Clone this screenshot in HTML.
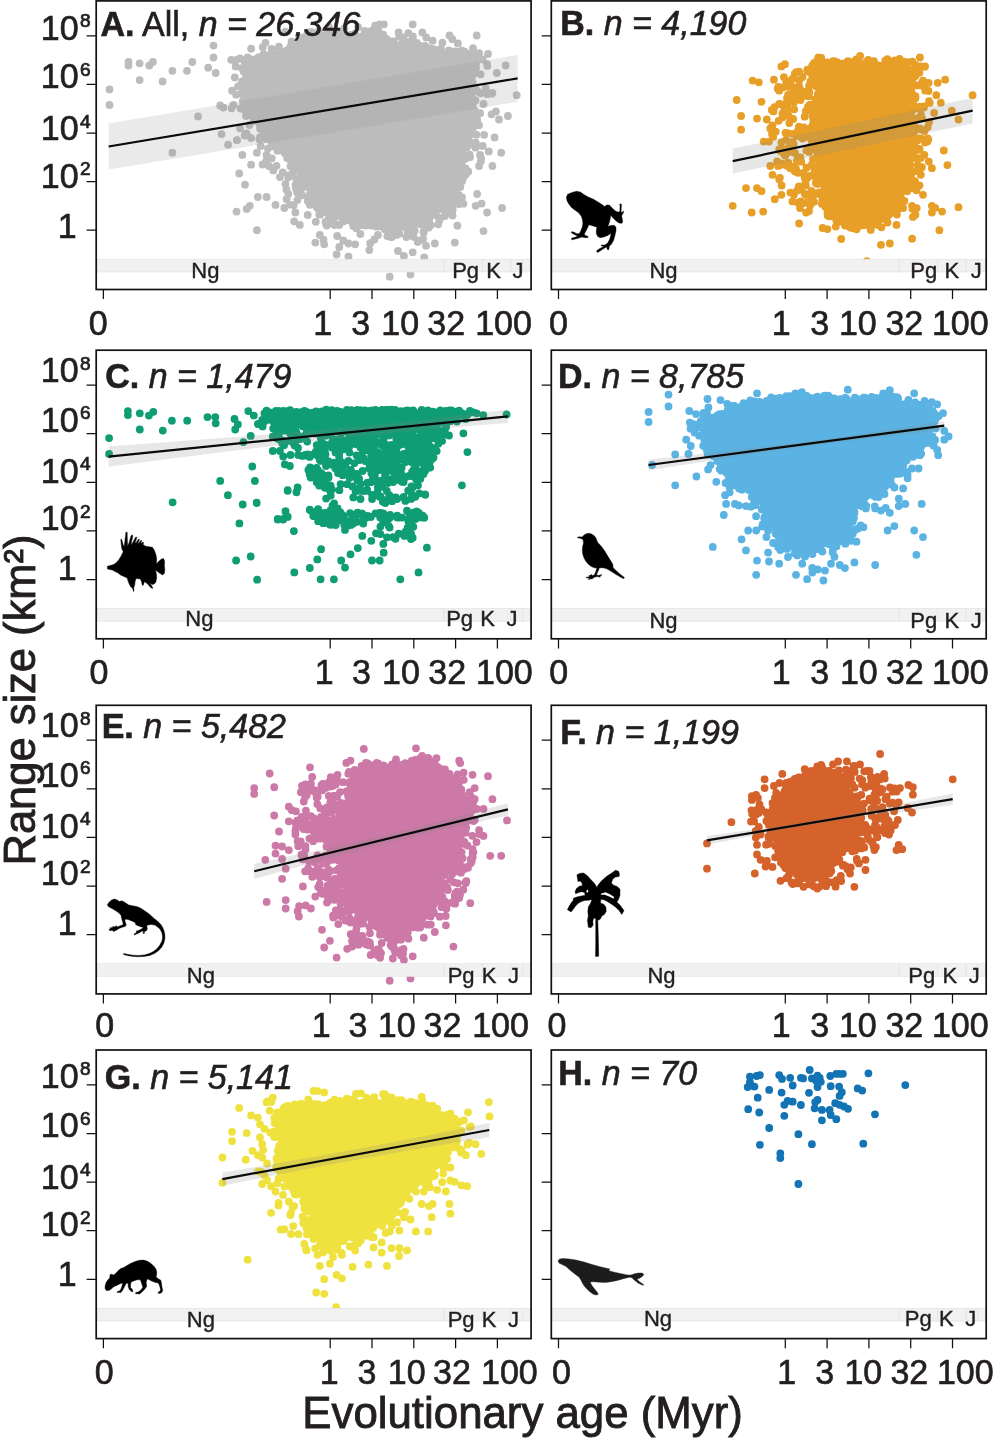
<!DOCTYPE html>
<html lang="en"><head><meta charset="utf-8"><title>Range size vs evolutionary age</title>
<style>
html,body{margin:0;padding:0;background:#fff;}
body{width:994px;height:1439px;overflow:hidden;}
svg{display:block;}
text{font-family:"Liberation Sans", Arial, Helvetica, sans-serif;fill:#231f20;}
</style></head><body>
<svg width="994" height="1439" viewBox="0 0 994 1439">
<rect width="994" height="1439" fill="#fff"/>
<g id="panel-A">
<path d="M86.6 35.8H96.2M86.6 84.4H96.2M86.6 133.0H96.2M86.6 181.6H96.2M86.6 230.2H96.2M103.4 289.5V299.1M330.2 289.5V299.1M372.0 289.5V299.1M413.8 289.5V299.1M455.6 289.5V299.1M497.4 289.5V299.1" stroke="#111" stroke-width="1.25" fill="none"/>
<text transform="translate(78.6 39.8) scale(0.9615 1)" font-size="35.36" text-anchor="end" stroke="#231f20" stroke-width="0.65">10</text>
<text transform="translate(80.0 27.3) scale(1.0500 1)" font-size="18.20" text-anchor="start" stroke="#231f20" stroke-width="0.7">8</text>
<text transform="translate(78.6 88.4) scale(0.9615 1)" font-size="35.36" text-anchor="end" stroke="#231f20" stroke-width="0.65">10</text>
<text transform="translate(80.0 75.9) scale(1.0500 1)" font-size="18.20" text-anchor="start" stroke="#231f20" stroke-width="0.7">6</text>
<text transform="translate(78.6 140.0) scale(0.9615 1)" font-size="35.36" text-anchor="end" stroke="#231f20" stroke-width="0.65">10</text>
<text transform="translate(80.0 127.5) scale(1.0500 1)" font-size="18.20" text-anchor="start" stroke="#231f20" stroke-width="0.7">4</text>
<text transform="translate(78.6 187.6) scale(0.9615 1)" font-size="35.36" text-anchor="end" stroke="#231f20" stroke-width="0.65">10</text>
<text transform="translate(80.0 175.1) scale(1.0500 1)" font-size="18.20" text-anchor="start" stroke="#231f20" stroke-width="0.7">2</text>
<text transform="translate(76.7 237.9) scale(0.9615 1)" font-size="35.36" text-anchor="end" stroke="#231f20" stroke-width="0.65">1</text>
<text transform="translate(98.2 335.1) scale(0.9615 1)" font-size="35.36" text-anchor="middle" stroke="#231f20" stroke-width="0.65">0</text>
<text transform="translate(322.8 335.1) scale(0.9615 1)" font-size="35.36" text-anchor="middle" stroke="#231f20" stroke-width="0.65">1</text>
<text transform="translate(360.6 335.1) scale(0.9615 1)" font-size="35.36" text-anchor="middle" stroke="#231f20" stroke-width="0.65">3</text>
<text transform="translate(400.2 335.1) scale(0.9615 1)" font-size="35.36" text-anchor="middle" stroke="#231f20" stroke-width="0.65">10</text>
<text transform="translate(446.2 335.1) scale(0.9615 1)" font-size="35.36" text-anchor="middle" stroke="#231f20" stroke-width="0.65">32</text>
<text transform="translate(503.5 335.1) scale(0.9615 1)" font-size="35.36" text-anchor="middle" stroke="#231f20" stroke-width="0.65">100</text>
<clipPath id="clipA"><rect x="96.2" y="0.9" width="434.9" height="288.6"/></clipPath>
<g clip-path="url(#clipA)">
<path d="M251.7 67.3L251.2 71.5L250.7 75.8L250.2 80.0L249.7 84.0L249.3 87.5L249.2 90.7L249.4 93.7L250.0 96.6L250.8 99.4L251.8 102.0L252.9 104.3L254.1 106.3L255.6 108.2L255.7 108.4L257.2 110.6L257.4 110.9L258.8 113.1L258.9 113.3L260.2 115.5L260.3 115.8L261.3 117.9L262.4 119.8L263.7 121.8L265.1 123.8L266.7 125.9L266.7 126.0L268.3 128.1L268.3 128.1L269.8 130.2L269.9 130.3L271.3 132.3L271.4 132.3L272.6 134.1L274.3 135.9L276.7 138.2L279.8 140.9L283.5 143.9L283.8 144.1L287.1 147.2L287.5 147.5L290.2 150.4L290.6 150.8L292.8 153.7L293.2 154.3L294.9 157.0L295.0 157.3L296.6 160.2L296.7 160.5L298.1 163.6L298.2 163.9L299.5 167.1L299.6 167.3L300.6 170.6L301.8 173.7L303.1 176.8L304.5 179.9L306.1 183.1L307.7 185.9L309.2 188.5L310.7 190.7L312.2 192.7L313.9 194.8L316.0 197.2L318.4 199.7L321.0 202.2L323.7 204.6L326.7 206.8L330.0 209.0L333.5 211.0L337.4 212.8L341.7 214.5L346.4 216.1L351.6 217.4L357.0 218.8L362.4 220.1L367.9 221.4L373.4 222.6L378.9 223.8L384.4 225.0L390.0 226.2L395.2 227.4L399.3 227.9L402.5 227.8L404.6 227.3L406.7 226.2L407.0 226.1L410.0 224.7L410.2 224.6L413.5 223.2L413.7 223.1L417.3 221.8L417.5 221.7L421.3 220.4L424.8 219.1L428.3 217.7L431.5 216.2L434.5 214.7L437.3 213.0L440.0 211.1L442.5 208.9L444.8 206.5L446.7 204.1L448.3 201.4L449.5 198.5L450.5 195.0L451.4 191.5L452.2 188.0L452.9 184.7L453.4 181.5L453.5 181.3L454.2 177.9L454.2 177.7L455.0 174.1L455.1 173.9L456.0 170.2L456.1 170.1L457.2 166.2L457.2 166.1L458.3 162.5L458.4 162.4L459.5 159.0L459.5 158.9L460.6 155.8L460.7 155.7L461.8 152.9L462.9 150.1L464.0 147.4L465.1 144.6L466.0 142.3L466.7 139.4L467.2 135.4L467.5 130.4L467.5 124.4L467.4 118.9L467.3 113.9L467.1 109.6L466.9 105.8L466.7 102.3L466.4 99.0L466.1 96.1L465.8 93.4L465.7 92.9L465.6 90.2L465.6 89.7L465.7 86.9L465.8 86.4L466.1 83.7L466.2 83.2L466.7 80.5L466.8 80.1L467.5 77.4L467.6 77.0L468.5 74.3L468.6 74.0L469.7 71.2L469.8 70.9L470.9 68.4L471.6 66.2L472.1 64.2L472.3 62.4L472.3 61.0L472.2 60.5L472.2 60.5L472.1 60.4L471.2 60.0L468.8 59.3L465.4 58.4L460.9 57.6L455.5 56.7L455.4 56.7L449.8 55.7L449.7 55.7L444.2 54.6L444.1 54.6L438.6 53.3L438.4 53.3L433.0 52.0L427.5 50.8L422.1 49.7L416.7 48.8L411.2 47.9L405.7 47.0L400.2 46.2L394.7 45.4L389.2 44.6L389.0 44.6L383.5 43.7L383.3 43.6L377.8 42.5L377.6 42.5L372.1 41.2L371.9 41.2L366.5 39.8L361.1 38.5L355.8 37.5L350.4 36.5L345.1 35.8L339.8 35.3L334.4 35.1L328.9 35.2L323.3 35.5L318.4 36.0L314.4 36.6L311.3 37.4L308.9 38.3L306.8 39.4L304.7 40.8L302.9 42.4L300.9 44.6L300.5 45.0L298.2 47.1L297.7 47.5L295.2 49.4L294.7 49.7L292.1 51.3L291.6 51.6L288.8 52.9L288.5 53.0L285.8 54.2L285.4 54.3L282.6 55.2L282.3 55.4L279.5 56.1L279.1 56.2L276.5 56.7L274.1 57.3L271.9 57.9L269.8 58.7L267.7 59.5L267.4 59.6L264.9 60.4L264.6 60.5L262.0 61.2L261.7 61.3L258.8 61.9L258.6 62.0L255.6 62.5L253.4 63.0L252.5 63.2L252.3 64.2Z" fill="#bcbcbc"/>
<path d="M249.0 64.0h0M242.4 89.6h0M332.7 206.5h0M329.8 204.0h0M259.4 61.8h0M452.3 39.2h0M444.9 216.0h0M411.5 51.3h0M469.7 59.9h0M376.6 45.7h0M440.0 206.4h0M438.6 217.6h0M459.4 170.8h0M458.5 160.4h0M285.3 31.7h0M238.1 86.3h0M280.5 139.7h0M326.2 35.7h0M302.8 43.7h0M259.8 107.3h0M475.8 72.8h0M394.6 226.1h0M367.8 36.5h0M463.4 144.7h0M332.5 223.3h0M247.4 89.6h0M466.8 134.3h0M273.1 127.7h0M287.1 145.0h0M455.6 171.7h0M312.6 38.7h0M316.8 40.5h0M347.1 37.4h0M413.4 46.7h0M261.4 59.2h0M477.1 194.0h0M452.6 166.0h0M285.6 152.6h0M397.7 232.3h0M445.6 53.4h0M327.7 34.2h0M399.3 233.8h0M312.7 40.4h0M463.3 108.7h0M421.1 219.5h0M442.4 42.6h0M480.9 161.2h0M250.6 66.2h0M378.2 220.3h0M304.3 177.1h0M245.9 77.5h0M400.2 226.9h0M371.5 218.7h0M368.5 224.8h0M407.7 233.1h0M328.9 203.2h0M309.4 195.2h0M289.4 157.4h0M286.4 189.5h0M262.7 47.1h0M307.8 200.9h0M408.4 233.8h0M325.9 203.4h0M409.3 50.8h0M273.0 51.4h0M340.9 35.5h0M304.7 178.8h0M384.5 227.2h0M458.8 195.0h0M300.5 169.1h0M251.1 65.8h0M466.2 108.6h0M291.9 152.2h0M375.5 222.3h0M468.8 128.5h0M391.0 224.7h0M246.7 61.4h0M231.6 108.3h0M335.4 38.4h0M411.1 219.6h0M465.6 127.9h0M289.3 142.4h0M477.2 119.8h0M374.1 224.4h0M450.4 191.5h0M348.8 213.5h0M268.2 63.4h0M476.1 67.8h0M467.1 122.5h0M371.1 45.3h0M316.7 207.3h0M468.5 89.0h0M275.0 135.5h0M315.1 199.7h0M242.9 92.1h0M373.4 221.2h0M251.8 71.3h0M429.4 48.5h0M267.9 148.6h0M390.5 226.2h0M300.7 164.1h0M414.7 230.7h0M289.1 159.1h0M400.2 227.5h0M276.5 165.8h0M369.3 218.1h0M374.0 38.6h0M376.3 46.4h0M452.9 194.8h0M371.8 225.5h0M254.7 97.3h0M352.4 217.9h0M467.5 60.2h0M388.2 221.0h0M416.1 47.4h0M445.2 57.5h0M365.9 218.1h0M367.6 43.6h0M320.9 197.1h0M470.4 99.2h0M462.1 147.8h0M415.1 222.3h0M268.4 130.9h0M368.3 39.2h0M461.9 152.6h0M304.2 166.5h0M473.0 48.2h0M253.9 82.8h0M392.0 237.0h0M267.2 57.5h0M265.5 127.7h0M355.6 216.0h0M247.6 57.4h0M302.2 182.6h0M462.5 171.3h0M298.9 51.9h0M259.6 66.5h0M408.4 33.1h0M310.3 196.3h0M292.0 150.2h0M469.0 124.6h0M250.1 66.1h0M394.2 43.0h0M393.2 42.1h0M329.4 36.9h0M249.8 82.6h0M453.2 182.8h0M465.8 174.6h0M464.7 125.3h0M292.2 151.3h0M441.0 48.6h0M370.8 217.9h0M384.2 41.4h0M457.4 225.7h0M426.2 37.5h0M273.2 129.8h0M323.5 239.7h0M266.9 57.7h0M422.9 219.0h0M453.3 192.6h0M420.9 218.2h0M307.5 179.6h0M388.0 49.2h0M459.3 167.1h0M429.4 54.0h0M364.3 220.1h0M379.4 43.4h0M242.8 101.0h0M355.1 38.0h0M293.3 149.9h0M434.5 214.8h0M294.1 150.2h0M439.7 58.0h0M494.6 137.4h0M382.7 43.5h0M460.7 60.1h0M301.6 49.6h0M451.4 169.7h0M452.6 181.6h0M469.7 154.7h0M297.6 48.6h0M265.9 139.1h0M300.5 167.6h0M273.1 57.3h0M310.6 183.4h0M460.1 165.9h0M287.9 143.8h0M257.7 64.9h0M372.5 224.4h0M447.7 205.5h0M412.0 219.3h0M297.8 155.3h0M278.9 46.7h0M409.7 41.7h0M334.3 225.0h0M463.1 91.7h0M252.8 93.2h0M259.3 139.3h0M253.1 89.7h0M295.6 184.9h0M463.8 55.9h0M332.1 204.6h0M279.2 144.0h0M322.6 36.9h0M467.7 121.5h0M355.1 33.7h0M358.6 215.6h0M355.5 34.4h0M267.8 121.4h0M307.9 176.4h0M322.6 204.6h0M463.1 143.9h0M491.8 93.7h0M464.3 73.9h0M462.4 151.9h0M467.9 145.7h0M303.2 176.2h0M326.8 225.6h0M480.6 74.3h0M293.9 147.8h0M344.7 217.8h0M371.7 30.7h0M469.4 75.0h0M403.5 45.7h0M273.9 54.6h0M465.7 115.0h0M260.6 146.0h0M247.6 66.8h0M297.1 166.6h0M476.4 55.2h0M420.7 49.6h0M304.2 40.9h0M250.0 67.1h0M389.4 224.6h0M295.8 48.0h0M307.4 184.1h0M322.9 36.0h0M251.7 72.0h0M378.4 30.7h0M447.5 203.1h0M454.0 191.2h0M396.1 45.6h0M250.4 59.1h0M435.9 54.3h0M279.5 145.3h0M236.8 140.2h0M451.8 196.4h0M247.7 78.4h0M355.2 222.1h0M467.9 130.1h0M266.3 160.8h0M376.3 43.6h0M306.6 186.8h0M468.3 97.9h0M479.0 125.2h0M243.6 71.4h0M446.7 57.8h0M417.7 241.9h0M471.1 65.6h0M306.5 173.0h0M246.7 79.0h0M270.6 133.2h0M463.7 55.8h0M401.7 225.6h0M474.7 117.0h0M297.6 53.5h0M421.4 51.0h0M315.2 35.7h0M255.4 109.3h0M387.1 221.2h0M436.0 208.4h0M423.5 231.9h0M466.8 147.2h0M473.3 57.0h0M438.5 55.1h0M325.0 211.7h0M379.6 226.0h0M414.6 50.9h0M464.8 158.9h0M406.9 225.5h0M271.6 57.6h0M267.7 62.0h0M423.7 232.5h0M317.9 196.9h0M334.2 36.0h0M276.7 135.1h0M416.4 51.1h0M254.9 77.6h0M473.2 62.2h0M298.1 40.3h0M326.0 34.7h0M274.4 142.3h0M263.2 115.0h0M295.7 187.8h0M356.5 220.4h0M471.8 78.1h0M468.8 129.5h0M459.0 52.0h0M277.2 140.7h0M253.4 92.4h0M320.5 210.2h0M464.3 129.8h0M274.3 56.3h0M342.0 212.9h0M464.6 96.8h0M475.5 100.3h0M334.8 34.3h0M315.1 189.6h0M273.1 136.5h0M247.7 73.4h0M365.6 225.5h0M463.4 203.7h0M375.7 219.9h0M371.4 42.1h0M348.1 217.0h0M263.3 129.0h0M342.8 210.0h0M439.6 220.0h0M452.0 183.3h0M464.1 107.2h0M463.3 98.6h0M462.6 86.1h0M487.3 94.2h0M277.4 137.1h0M469.4 120.0h0M270.5 127.4h0M462.0 103.5h0M474.6 110.4h0M267.7 57.4h0M475.9 63.5h0M296.0 188.0h0M259.9 66.4h0M420.4 47.8h0M468.5 54.0h0M415.2 219.2h0M467.2 131.5h0M417.3 220.5h0M389.4 46.6h0M320.0 214.7h0M326.3 224.6h0M390.1 42.1h0M290.0 204.6h0M431.9 48.9h0M265.2 121.5h0M271.0 55.1h0M285.3 51.3h0M465.1 138.7h0M411.7 49.1h0M287.1 158.0h0M473.8 66.2h0M449.9 184.9h0M456.2 182.0h0M474.6 91.3h0M244.7 135.5h0M252.3 107.6h0M392.0 226.7h0M412.6 51.2h0M464.6 51.6h0M448.1 54.5h0M432.3 56.7h0M254.8 97.7h0M469.7 84.6h0M319.1 210.3h0M252.9 102.0h0M454.4 190.9h0M378.9 218.7h0M424.5 214.8h0M450.2 185.0h0M311.6 39.7h0M462.2 50.6h0M474.7 61.4h0M377.9 234.9h0M452.6 57.1h0M427.6 214.2h0M448.5 181.4h0M260.2 128.7h0M438.2 224.3h0M307.8 38.2h0M251.4 88.4h0M470.7 116.1h0M310.1 42.5h0M302.0 50.0h0M265.1 60.9h0M448.9 183.4h0M304.5 173.1h0M251.7 82.8h0M274.4 54.4h0M472.2 126.3h0M279.7 57.1h0M285.0 153.6h0M398.0 251.0h0M421.4 223.3h0M463.0 77.1h0M397.3 48.3h0M374.5 221.3h0M248.9 110.2h0M414.8 220.6h0M342.1 217.6h0M249.4 125.0h0M395.3 226.8h0M462.8 175.4h0M463.7 139.0h0M461.9 181.4h0M435.1 210.1h0M295.9 45.9h0M276.0 132.2h0M454.5 59.1h0M413.5 236.8h0M246.0 116.1h0M254.3 68.8h0M316.4 191.6h0M461.4 164.0h0M293.1 171.9h0M295.7 52.6h0M368.4 41.4h0M288.8 54.8h0M277.3 59.3h0M480.5 93.3h0M377.5 36.7h0M474.9 55.9h0M269.2 133.4h0M406.7 47.5h0M344.4 28.3h0M464.2 147.6h0M248.7 66.1h0M269.2 122.7h0M302.6 174.5h0M283.3 151.3h0M430.8 225.3h0M308.6 183.7h0M447.5 189.7h0M296.9 165.0h0M464.3 109.9h0M299.4 47.1h0M428.6 227.7h0M257.5 60.9h0M258.2 116.1h0M272.6 61.4h0M258.6 104.6h0M428.2 50.0h0M295.4 159.1h0M324.6 198.9h0M439.4 52.5h0M475.1 58.4h0M359.5 220.6h0M256.2 71.3h0M448.9 54.5h0M466.2 138.9h0M364.8 224.4h0M271.8 158.3h0M321.6 209.8h0M276.8 57.5h0M391.3 223.5h0M487.3 65.9h0M457.2 174.7h0M408.2 221.1h0M399.1 36.5h0M428.8 55.4h0M468.1 123.1h0M390.0 48.9h0M346.2 39.8h0M336.9 37.0h0M430.5 225.0h0M337.5 35.7h0M355.8 223.1h0M328.9 26.8h0M481.6 203.6h0M471.6 124.6h0M289.8 51.2h0M378.3 225.3h0M451.1 57.4h0M423.9 224.0h0M271.5 143.2h0M402.0 43.6h0M455.3 59.2h0M304.8 178.3h0M451.6 174.7h0M448.9 50.5h0M443.1 204.4h0M415.9 223.5h0M260.0 137.1h0M284.5 149.2h0M303.2 39.2h0M259.8 64.0h0M313.2 40.1h0M246.7 98.0h0M472.6 125.1h0M373.9 41.1h0M464.8 106.1h0M465.9 87.5h0M453.0 55.8h0M281.0 145.3h0M278.9 144.7h0M294.1 154.0h0M315.8 221.8h0M291.8 152.3h0M319.6 195.7h0M466.1 113.6h0M447.7 197.1h0M370.4 217.5h0M328.2 32.1h0M392.4 47.6h0M457.4 164.3h0M462.0 197.4h0M414.0 45.2h0M361.1 219.9h0M336.9 38.4h0M386.2 38.7h0M452.7 202.2h0M441.3 53.5h0M370.3 39.1h0M307.4 176.9h0M464.2 62.5h0M245.3 97.1h0M348.5 256.6h0M316.0 198.1h0M300.5 189.9h0M465.6 117.7h0M461.3 145.9h0M330.6 30.8h0M272.5 144.8h0M345.1 213.7h0M288.7 57.5h0M466.8 85.2h0M458.9 204.1h0M373.1 218.2h0M246.8 98.6h0M263.5 112.0h0M308.7 183.8h0M309.4 187.8h0M464.7 129.8h0M392.8 230.6h0M294.0 151.1h0M458.2 61.2h0M414.7 53.0h0M356.2 228.3h0M322.4 39.2h0M464.3 119.1h0M245.6 84.7h0M403.4 37.3h0M248.8 99.3h0M300.0 162.9h0M447.9 52.6h0M445.5 195.6h0M469.9 134.4h0M468.1 145.6h0M448.8 206.1h0M271.8 136.6h0M295.4 170.3h0M278.4 143.5h0M456.3 153.7h0M254.8 66.4h0M350.8 39.3h0M410.0 230.2h0M446.9 189.4h0M343.0 219.2h0M465.3 132.4h0M445.1 196.4h0M297.1 192.5h0M440.5 57.7h0M343.1 34.9h0M397.1 234.8h0M445.1 214.4h0M264.7 119.0h0M312.8 33.8h0M375.2 37.9h0M367.9 218.2h0M467.4 66.3h0M278.9 141.4h0M376.0 226.6h0M467.8 157.6h0M317.6 33.9h0M387.3 236.1h0M346.7 38.9h0M299.8 178.4h0M457.5 168.2h0M425.0 45.8h0M270.3 58.5h0M463.1 89.5h0M245.4 92.0h0M334.9 32.8h0M337.6 35.5h0M295.3 162.2h0M465.2 96.2h0M384.8 225.6h0M471.5 72.2h0M432.5 56.1h0M470.1 131.4h0M375.1 45.1h0M466.0 88.9h0M366.7 221.1h0M296.5 50.5h0M288.8 150.1h0M379.1 35.3h0M475.6 147.7h0M389.9 222.2h0M461.2 162.8h0M302.0 195.3h0M402.2 50.0h0M263.3 60.2h0M317.8 196.3h0M254.2 86.6h0M300.4 37.7h0M306.7 35.3h0M354.0 35.0h0M247.5 80.6h0M466.8 137.6h0M394.9 230.3h0M381.8 221.1h0M458.9 147.1h0M265.4 123.7h0M482.7 59.4h0M290.9 145.3h0M367.0 221.4h0M370.2 243.2h0M288.3 144.6h0M463.2 99.3h0M465.2 144.0h0M454.8 51.4h0M268.9 55.2h0M261.0 124.4h0M374.4 239.5h0M265.5 42.8h0M470.6 123.7h0M414.7 46.7h0M387.2 46.3h0M344.3 38.3h0M339.3 225.1h0M302.0 49.3h0M365.4 36.7h0M277.0 142.0h0M456.7 183.2h0M382.9 223.7h0M256.7 107.7h0M461.1 178.4h0M298.3 163.7h0M465.0 147.3h0M303.0 41.9h0M307.4 36.7h0M267.3 134.0h0M250.1 87.8h0M433.6 52.5h0M471.0 134.2h0M248.5 115.4h0M468.9 64.6h0M284.4 146.4h0M470.1 157.1h0M311.6 198.5h0M462.7 156.5h0M286.4 50.6h0M264.6 116.9h0M337.2 236.0h0M303.0 43.7h0M326.9 204.8h0M245.0 184.7h0M255.4 65.3h0M468.5 105.4h0M470.5 67.3h0M455.6 189.6h0M470.7 68.8h0M267.8 61.0h0M242.5 93.7h0M282.8 138.2h0M257.0 111.4h0M461.9 145.6h0M271.1 59.9h0M461.4 83.4h0M451.7 59.5h0M401.3 224.7h0M384.9 46.0h0M462.4 56.1h0M247.8 85.1h0M261.1 63.5h0M480.1 113.2h0M451.5 200.6h0M387.1 221.6h0M256.3 102.4h0M323.0 40.5h0M464.2 128.8h0M257.4 58.3h0M296.0 188.5h0M425.7 213.9h0M413.6 46.4h0M401.0 222.8h0M243.5 105.0h0M248.3 104.3h0M324.3 40.0h0M360.5 220.4h0M467.9 119.4h0M340.5 35.9h0M452.7 197.1h0M343.3 240.5h0M389.2 41.1h0M268.0 121.0h0M352.6 222.9h0M393.6 46.7h0M435.9 211.7h0M448.5 204.7h0M309.8 204.8h0M468.1 137.3h0M477.3 90.6h0M275.5 130.0h0M270.2 61.0h0M291.5 41.6h0M301.1 193.4h0M349.3 216.8h0M296.2 152.2h0M303.9 185.7h0M245.4 110.9h0M461.2 170.5h0M251.0 80.7h0M323.9 199.7h0M395.9 49.7h0M462.5 79.9h0M448.9 190.1h0M353.9 219.0h0M333.9 215.2h0M369.8 44.6h0M280.4 148.8h0M289.3 49.2h0M263.3 63.0h0M274.6 55.5h0M458.0 54.7h0M368.8 222.7h0M404.6 222.3h0M451.2 186.6h0M391.2 230.5h0M435.7 57.2h0M415.4 50.0h0M459.2 151.8h0M353.0 214.2h0M397.9 225.2h0M277.6 137.8h0M330.3 35.0h0M383.4 42.8h0M378.7 226.4h0M462.9 87.8h0M463.9 142.6h0M466.1 157.8h0M440.8 58.6h0M301.7 167.2h0M312.6 194.4h0M424.2 257.5h0M254.9 78.9h0M268.0 62.2h0M361.6 224.0h0M264.1 133.9h0M459.9 160.9h0M285.4 141.8h0M395.7 48.0h0M419.1 50.7h0M409.3 226.0h0M456.6 159.6h0M455.0 201.3h0M265.3 63.2h0M264.6 125.2h0M262.0 120.2h0M423.5 224.8h0M254.6 108.9h0M312.6 202.0h0M271.9 139.6h0M474.0 54.4h0M336.8 207.3h0M472.9 103.9h0M423.1 239.0h0M460.6 180.3h0M389.7 47.8h0M426.4 220.6h0M322.7 39.6h0M464.7 157.7h0M310.4 32.1h0M242.1 81.5h0M463.1 178.3h0M472.8 98.7h0M467.5 66.5h0M236.1 94.7h0M240.6 108.5h0M452.7 209.7h0M419.0 240.7h0M423.8 220.6h0M457.2 154.6h0M293.9 159.5h0M350.6 38.3h0M340.1 212.5h0M330.9 222.3h0M303.8 38.0h0M446.0 58.9h0M293.7 152.1h0M314.1 194.2h0M421.8 53.2h0M270.6 57.3h0M467.0 142.4h0M458.8 160.7h0M265.9 126.7h0M289.9 55.9h0M341.2 39.8h0M310.3 193.5h0M330.9 214.8h0M458.7 158.8h0M383.2 34.7h0M407.5 52.0h0M266.0 60.2h0M261.5 64.5h0M396.7 47.2h0M404.2 225.3h0M327.2 202.5h0M468.1 80.8h0M450.4 56.5h0M298.1 52.2h0M358.1 27.1h0M311.5 195.4h0M470.2 68.7h0M364.3 43.8h0M375.0 224.9h0M266.2 133.7h0M472.6 64.4h0M319.2 32.7h0M481.1 158.5h0M426.7 54.3h0M350.5 35.0h0M473.1 63.8h0M458.9 164.5h0M366.2 220.3h0M465.5 168.4h0M368.0 225.0h0M367.9 41.5h0M336.2 216.5h0M434.3 49.4h0M399.9 45.9h0M474.5 88.6h0M454.8 183.2h0M251.6 73.5h0M420.7 215.8h0M442.5 203.3h0M290.4 166.3h0M401.9 47.5h0M422.5 48.2h0M353.3 225.9h0M300.5 162.1h0M380.1 220.7h0M254.7 117.2h0M443.1 204.9h0M468.8 97.8h0M297.4 199.9h0M420.6 46.0h0M471.3 72.1h0M446.5 57.1h0M288.3 194.0h0M447.0 211.1h0M458.3 55.0h0M311.9 184.1h0M469.6 73.7h0M277.4 150.8h0M305.6 44.3h0M328.3 34.9h0M392.7 45.8h0M297.3 168.1h0M470.3 127.8h0M295.9 178.2h0M467.5 131.8h0M469.8 98.4h0M338.8 211.2h0M420.0 223.0h0M394.1 45.1h0M423.6 216.1h0M362.6 223.3h0M264.2 62.5h0M263.1 117.0h0M284.5 59.1h0M282.5 53.3h0M358.6 219.4h0M463.1 87.4h0M461.6 88.4h0M258.5 117.8h0M319.2 214.6h0M272.3 143.0h0M328.1 38.9h0M307.7 215.0h0M335.2 224.1h0M452.4 185.8h0M312.8 42.0h0M354.1 39.5h0M466.3 94.5h0M465.0 128.4h0M379.4 225.0h0M403.4 225.9h0M305.2 182.4h0M480.0 154.8h0M251.8 85.9h0M263.5 122.5h0M249.4 85.3h0M259.1 58.0h0M454.1 184.3h0M333.9 209.4h0M443.2 58.7h0M267.5 126.9h0M290.5 46.3h0M458.2 163.2h0M389.2 230.5h0M432.4 52.9h0M450.8 198.5h0M251.7 105.2h0M299.5 162.2h0M249.0 85.4h0M446.7 196.2h0M303.0 46.3h0M300.5 158.3h0M471.8 85.3h0M279.5 54.4h0M382.4 47.3h0M454.2 171.8h0M474.7 68.1h0M469.9 141.9h0M453.6 161.6h0M471.9 66.4h0M311.9 32.2h0M291.9 49.2h0M366.6 37.8h0M423.6 225.4h0M354.2 221.0h0M251.2 62.8h0M269.3 121.9h0M463.3 107.8h0M253.3 61.9h0M464.3 93.3h0M261.5 108.9h0M241.7 68.1h0M378.5 219.3h0M261.5 108.5h0M461.7 162.8h0M281.7 52.2h0M420.5 220.4h0M287.8 49.8h0M491.5 114.3h0M314.3 33.3h0M469.8 74.8h0M300.6 44.4h0M297.9 169.6h0M434.2 213.5h0M333.9 210.3h0M438.1 206.1h0M319.8 234.9h0M253.9 120.9h0M293.7 205.1h0M339.3 247.0h0M475.7 142.7h0M252.5 89.1h0M265.9 123.4h0M323.2 202.6h0M331.2 38.4h0M467.1 101.1h0M408.6 50.8h0M397.4 227.7h0M440.7 208.9h0M452.5 206.3h0M426.3 47.6h0M353.3 220.6h0M407.4 230.3h0M373.5 220.2h0M459.1 157.3h0M262.6 164.5h0M244.7 61.8h0M333.9 38.0h0M343.4 214.1h0M449.6 185.8h0M466.9 91.8h0M297.1 164.6h0M376.7 218.3h0M484.1 134.8h0M261.0 61.7h0M466.3 125.2h0M272.3 62.3h0M425.9 51.5h0M291.7 50.5h0M437.9 55.1h0M449.5 176.3h0M448.6 59.4h0M469.3 104.8h0M260.0 119.8h0M268.9 137.1h0M300.8 168.9h0M270.4 137.6h0M298.8 168.2h0M405.7 42.6h0M406.6 227.8h0M259.8 125.4h0M257.4 62.1h0M330.9 217.5h0M285.4 183.9h0M470.1 117.9h0M318.5 195.0h0M296.5 157.0h0M251.9 80.5h0M317.3 204.1h0M403.4 224.4h0M368.7 36.5h0M407.8 51.4h0M371.3 218.4h0M422.3 32.5h0M461.2 61.1h0M431.9 48.9h0M460.2 151.4h0M343.5 215.6h0M334.3 210.7h0M249.1 67.4h0M321.3 213.3h0M261.9 122.7h0M282.8 172.3h0M412.7 231.0h0M246.9 134.9h0M239.9 58.5h0M376.1 41.8h0M445.2 203.4h0M466.2 93.3h0M459.3 166.1h0M326.0 209.8h0M475.8 113.1h0M320.3 38.8h0M325.5 222.0h0M377.5 41.0h0M416.3 223.1h0M263.6 53.9h0M464.6 157.4h0M460.3 187.1h0M415.8 217.5h0M344.8 39.9h0M400.6 46.5h0M288.2 177.4h0M419.6 221.6h0M471.1 108.0h0M244.9 60.2h0M465.7 76.2h0M473.5 66.1h0M454.0 181.9h0M472.8 82.8h0M343.7 217.4h0M250.2 104.2h0M448.2 53.5h0M467.4 90.1h0M300.4 159.3h0M289.8 153.8h0M428.7 52.3h0M384.8 229.2h0M249.8 75.7h0M299.0 178.3h0M250.0 72.3h0M398.3 228.7h0M272.2 146.3h0M476.3 134.7h0M253.4 114.7h0M308.9 38.2h0M249.9 88.9h0M337.3 31.7h0M457.2 177.4h0M362.2 225.2h0M441.4 57.5h0M398.0 228.0h0M347.0 39.6h0M340.3 34.8h0M263.1 55.8h0M273.1 61.9h0M302.2 43.4h0M255.3 98.4h0M366.8 220.2h0M464.0 126.3h0M275.6 142.9h0M363.6 220.9h0M375.3 224.1h0M333.1 34.1h0M292.8 54.7h0M476.7 35.5h0M462.9 60.4h0M467.2 97.5h0M295.7 54.4h0M289.7 175.2h0M252.9 98.5h0M362.6 225.0h0M342.6 37.9h0M308.4 41.3h0M459.7 152.8h0M362.2 36.3h0M310.8 37.8h0M346.7 215.2h0M416.8 43.0h0M319.6 198.2h0M355.1 217.5h0M393.1 41.4h0M326.9 221.2h0M367.7 43.7h0M377.2 44.0h0M329.3 203.4h0M403.1 48.3h0M424.7 48.4h0M421.1 224.5h0M443.2 208.0h0M274.7 138.5h0M460.3 144.6h0M309.7 188.2h0M288.1 152.2h0M364.8 31.0h0M274.7 55.5h0M471.8 95.0h0M464.1 143.8h0M455.4 58.4h0M399.0 224.7h0M410.0 229.0h0M470.8 67.8h0M246.4 71.4h0M462.3 98.1h0M308.2 180.7h0M301.5 172.8h0M316.4 206.3h0M453.6 181.8h0M254.2 72.3h0M441.8 208.9h0M415.1 46.1h0M411.0 47.1h0M247.3 98.4h0M448.5 184.7h0M315.7 38.4h0M424.2 221.9h0M361.9 38.5h0M429.2 219.5h0M380.8 44.0h0M455.3 198.9h0M360.4 234.0h0M304.6 184.4h0M448.3 201.9h0M245.3 82.8h0M246.0 82.8h0M452.6 215.6h0M258.7 57.2h0M463.4 149.0h0M414.1 218.3h0M318.9 30.9h0M331.7 218.6h0M328.2 202.9h0M473.3 127.3h0M398.6 32.5h0M258.3 116.4h0M390.3 48.2h0M462.7 170.1h0M390.6 237.1h0M472.7 102.4h0M296.8 169.0h0M386.5 48.7h0M472.9 58.9h0M482.7 145.9h0M384.1 221.9h0M456.9 161.1h0M252.8 83.5h0M303.0 169.0h0M301.7 42.0h0M470.1 112.8h0M295.6 47.3h0M466.4 107.6h0M424.2 216.6h0M339.2 224.8h0M464.4 133.8h0M471.7 118.9h0M465.8 56.6h0M419.1 217.0h0M359.1 220.0h0M246.6 133.5h0M319.4 38.8h0M466.0 171.2h0M262.9 119.0h0M347.1 220.0h0M343.2 221.4h0M304.3 171.7h0M447.8 193.2h0M375.4 218.0h0M372.8 221.5h0M318.1 206.5h0M412.9 36.4h0M341.3 216.5h0M406.4 237.1h0M304.1 167.9h0M366.0 222.0h0M357.2 220.4h0M467.3 128.7h0M456.1 188.0h0M338.7 39.4h0M297.7 43.3h0M420.2 54.0h0M450.3 189.7h0M255.6 67.7h0M438.8 52.8h0M271.6 49.0h0M451.1 169.7h0M356.2 222.7h0M312.1 190.8h0M249.3 91.1h0M299.8 52.2h0M461.7 156.4h0M397.9 225.1h0M466.8 122.8h0M429.5 215.7h0M447.1 207.4h0M459.6 202.2h0M455.5 172.4h0M329.1 216.1h0M389.1 223.3h0M448.0 58.6h0M467.8 60.2h0M453.1 195.3h0M464.3 115.0h0M415.3 50.3h0M458.7 160.7h0M451.8 168.9h0M237.2 140.1h0M468.3 171.4h0M109.5 89.4h0M109.5 104.9h0M128.5 62.0h0M128.5 65.5h0M139.6 63.3h0M139.6 80.1h0M149.3 65.5h0M152.9 62.0h0M162.6 81.4h0M172.4 70.8h0M187.0 70.8h0M192.3 62.0h0M208.2 67.7h0M213.5 45.6h0M213.5 57.5h0M215.7 73.0h0M198.0 116.4h0M172.4 152.7h0M220.2 105.4h0M223.3 107.6h0M233.4 104.9h0M221.5 134.1h0M228.1 144.7h0M240.1 128.4h0M251.1 138.1h0M242.3 154.9h0M251.1 164.7h0M256.9 152.7h0M239.2 173.5h0M266.6 154.9h0M268.8 166.0h0M273.3 170.4h0M279.9 177.1h0M236.5 211.6h0M246.7 208.9h0M249.8 205.8h0M257.8 197.0h0M266.6 197.0h0M256.9 230.2h0M275.5 204.9h0M286.6 199.2h0M284.3 208.0h0M295.4 212.5h0M294.1 221.3h0M299.8 224.9h0M315.3 242.6h0M324.2 244.3h0M336.6 254.5h0M348.5 243.5h0M355.2 244.3h0M369.3 250.1h0M389.7 276.7h0M410.5 274.4h0M403.9 255.9h0M412.7 252.3h0M426.0 245.7h0M434.8 243.5h0M454.8 242.6h0M483.5 231.1h0M475.6 205.8h0M487.1 212.5h0M502.1 208.0h0M492.4 166.0h0M488.8 151.4h0M501.2 152.7h0M479.1 166.0h0M516.7 95.2h0M505.7 65.5h0M507.9 116.0h0M499.0 119.5h0M496.8 73.0h0M487.1 64.2h0M488.0 54.0h0M479.1 53.1h0M495.9 111.5h0M485.8 88.5h0M492.4 93.0h0M483.5 104.0h0M412.7 24.3h0M449.5 35.4h0M457.9 43.4h0M432.6 40.7h0M383.9 24.3h0M375.1 25.7h0M379.5 24.3h0M231.2 59.8h0M235.6 66.4h0M234.8 77.5h0M232.1 90.7h0M236.5 59.8h0M251.1 48.7h0" fill="none" stroke="#bcbcbc" stroke-width="7.8" stroke-linecap="round"/>
</g>
<path d="M108.6 123.5L125.6 120.6L142.7 117.8L159.7 114.9L176.8 112.1L193.8 109.2L210.9 106.3L227.9 103.5L244.9 100.6L262.0 97.8L279.0 94.9L296.1 92.1L313.1 89.2L330.2 86.3L347.2 83.5L364.2 80.6L381.3 77.8L398.3 74.9L415.4 72.0L432.4 69.2L449.5 66.3L466.5 63.5L483.5 60.6L500.6 57.7L517.6 54.9L517.6 101.8L500.6 104.6L483.5 107.5L466.5 110.3L449.5 113.1L432.4 115.9L415.4 118.7L398.3 121.6L381.3 124.4L364.2 127.2L347.2 130.0L330.2 132.9L313.1 135.7L296.1 138.5L279.0 141.3L262.0 144.1L244.9 147.0L227.9 149.8L210.9 152.6L193.8 155.4L176.8 158.2L159.7 161.1L142.7 163.9L125.6 166.7L108.6 169.5Z" fill="#969696" fill-opacity="0.2"/>
<path d="M108.6 146.5L517.6 78.4" stroke="#0a0a0a" stroke-width="2.2" fill="none"/>
<rect x="97.0" y="259.3" width="347.1" height="12.6" fill="#f1f1f1" stroke="#e4e4e4" stroke-width="0.8"/>
<rect x="444.1" y="259.3" width="38.2" height="12.6" fill="#f1f1f1" stroke="#e4e4e4" stroke-width="0.8"/>
<rect x="482.3" y="259.3" width="28.6" height="12.6" fill="#f1f1f1" stroke="#e4e4e4" stroke-width="0.8"/>
<rect x="510.9" y="259.3" width="11.9" height="12.6" fill="#f1f1f1" stroke="#e4e4e4" stroke-width="0.8"/>
<rect x="522.8" y="259.3" width="7.5" height="12.6" fill="#f1f1f1" stroke="#e4e4e4" stroke-width="0.8"/>
<text transform="translate(205.4 278.1) scale(0.9615 1)" font-size="22.88" text-anchor="middle" stroke="#231f20" stroke-width="0.4">Ng</text>
<text transform="translate(465.6 278.1) scale(0.9615 1)" font-size="22.88" text-anchor="middle" stroke="#231f20" stroke-width="0.4">Pg</text>
<text transform="translate(493.7 278.1) scale(0.9615 1)" font-size="22.88" text-anchor="middle" stroke="#231f20" stroke-width="0.4">K</text>
<text transform="translate(518.1 278.1) scale(0.9615 1)" font-size="22.88" text-anchor="middle" stroke="#231f20" stroke-width="0.4">J</text>
<rect x="96.2" y="0.9" width="434.9" height="288.6" fill="none" stroke="#111" stroke-width="1.7"/>
<text transform="translate(100.5 35.9) scale(0.9476 1)" font-size="35.88" text-anchor="start" stroke="#231f20" stroke-width="0.65" xml:space="preserve"><tspan font-weight="bold">A.</tspan> All, <tspan font-style="italic">n = 26,346</tspan></text>
</g>
<g id="panel-B">
<path d="M541.7 35.8H551.3M541.7 84.4H551.3M541.7 133.0H551.3M541.7 181.6H551.3M541.7 230.2H551.3M558.5 289.5V299.1M785.3 289.5V299.1M827.1 289.5V299.1M868.9 289.5V299.1M910.7 289.5V299.1M952.5 289.5V299.1" stroke="#111" stroke-width="1.25" fill="none"/>
<text transform="translate(558.5 335.1) scale(0.9615 1)" font-size="35.36" text-anchor="middle" stroke="#231f20" stroke-width="0.65">0</text>
<text transform="translate(781.3 335.1) scale(0.9615 1)" font-size="35.36" text-anchor="middle" stroke="#231f20" stroke-width="0.65">1</text>
<text transform="translate(819.8 335.1) scale(0.9615 1)" font-size="35.36" text-anchor="middle" stroke="#231f20" stroke-width="0.65">3</text>
<text transform="translate(857.8 335.1) scale(0.9615 1)" font-size="35.36" text-anchor="middle" stroke="#231f20" stroke-width="0.65">10</text>
<text transform="translate(904.3 335.1) scale(0.9615 1)" font-size="35.36" text-anchor="middle" stroke="#231f20" stroke-width="0.65">32</text>
<text transform="translate(960.3 335.1) scale(0.9615 1)" font-size="35.36" text-anchor="middle" stroke="#231f20" stroke-width="0.65">100</text>
<clipPath id="clipB"><rect x="551.3" y="0.9" width="434.9" height="288.6"/></clipPath>
<g clip-path="url(#clipB)">
<path d="M817.5 79.2L817.3 91.6L817.2 103.9L817.3 115.7L817.4 127.1L817.8 138.1L818.2 148.3L818.8 157.6L819.4 166.0L820.2 173.6L821.1 180.5L822.1 186.6L823.2 192.0L824.5 196.7L825.8 201.1L827.3 205.2L828.8 208.9L830.3 212.0L832.0 214.4L833.8 216.3L835.9 217.9L838.4 219.1L841.8 220.2L846.1 221.0L851.5 221.5L857.7 221.7L863.5 221.5L868.8 220.8L873.6 219.8L878.1 218.3L882.5 216.6L886.4 214.7L890.0 212.6L893.2 210.5L895.9 208.3L898.1 205.8L900.0 203.1L901.6 200.0L903.1 196.4L904.5 192.4L905.7 188.1L906.7 183.4L907.7 178.0L908.5 171.8L909.1 164.9L909.7 157.3L910.1 148.0L910.5 137.0L910.8 124.4L911.1 110.0L911.2 97.5L911.2 86.8L911.1 77.9L910.9 71.2L910.1 66.7L909.1 64.5L908.5 64.0L907.1 63.6L902.3 63.1L895.3 62.6L886.4 62.2L875.4 62.0L864.9 61.9L855.0 61.9L845.7 62.0L836.9 62.2L829.8 62.6L824.2 63.0L820.3 63.6L820.1 63.7L819.6 64.6L818.3 70.0Z" fill="#e79f27"/>
<path d="M890.5 62.5h0M920.1 106.6h0M886.6 220.6h0M887.3 64.1h0M909.5 129.4h0M912.7 151.6h0M862.3 217.1h0M811.7 69.1h0M887.5 222.5h0M816.3 77.8h0M908.2 79.2h0M900.1 65.6h0M822.4 170.3h0M817.2 111.6h0M836.2 213.8h0M873.9 61.2h0M809.6 104.9h0M829.1 216.3h0M821.7 104.2h0M851.6 223.9h0M910.8 158.3h0M904.3 183.4h0M820.1 141.2h0M847.2 63.9h0M909.9 165.7h0M906.2 137.9h0M809.0 211.1h0M904.4 163.1h0M827.8 189.8h0M913.0 136.0h0M823.5 164.5h0M907.2 191.3h0M815.4 99.1h0M818.9 102.0h0M868.6 218.5h0M880.0 214.7h0M904.8 163.5h0M837.1 62.1h0M907.3 156.1h0M851.0 220.1h0M817.8 136.4h0M816.2 101.3h0M855.5 220.4h0M822.3 91.8h0M895.3 211.9h0M908.1 133.4h0M836.5 220.9h0M821.8 94.0h0M818.9 174.1h0M888.2 60.8h0M825.5 65.7h0M906.1 185.7h0M920.9 114.7h0M816.0 150.2h0M907.4 161.7h0M909.2 165.8h0M906.8 185.6h0M820.5 126.1h0M904.0 61.6h0M834.5 62.7h0M905.5 68.3h0M821.0 80.0h0M828.3 67.7h0M905.7 173.5h0M913.0 69.3h0M821.6 117.3h0M821.0 98.4h0M905.3 166.9h0M860.8 225.5h0M892.0 212.6h0M876.2 213.9h0M814.8 79.1h0M919.3 149.7h0M825.8 198.8h0M912.6 100.0h0M821.7 136.6h0M897.6 209.5h0M813.7 110.0h0M906.8 170.2h0M819.9 153.6h0M893.9 64.8h0M820.4 90.4h0M824.9 183.9h0M906.3 84.7h0M895.2 204.0h0M911.1 87.0h0M883.2 212.0h0M908.2 119.4h0M868.2 218.7h0M855.5 217.4h0M828.0 63.5h0M815.9 117.6h0M908.1 146.0h0M833.8 213.0h0M821.5 86.9h0M817.3 183.9h0M909.8 149.3h0M857.3 221.1h0M820.9 144.2h0M831.4 208.8h0M833.7 214.3h0M821.2 98.4h0M870.7 229.9h0M855.1 220.2h0M851.9 62.7h0M830.6 210.9h0M827.5 212.6h0M853.0 228.2h0M822.2 65.6h0M855.0 218.6h0M820.0 76.7h0M910.5 116.1h0M818.9 174.5h0M817.0 129.2h0M881.1 218.1h0M848.5 218.8h0M816.0 137.3h0M823.8 185.0h0M820.4 92.4h0M889.7 213.4h0M859.6 223.4h0M909.8 123.4h0M822.5 199.5h0M832.8 67.0h0M887.4 59.1h0M912.9 107.4h0M827.6 215.6h0M822.6 65.7h0M814.1 201.8h0M816.7 166.9h0M802.0 96.2h0M828.5 211.1h0M822.9 152.4h0M905.4 181.8h0M864.4 225.1h0M912.6 110.3h0M820.5 170.7h0M820.1 99.3h0M849.9 221.5h0M907.9 90.3h0M862.7 66.2h0M877.4 215.0h0M822.2 181.9h0M908.6 161.7h0M887.4 212.2h0M847.9 61.2h0M906.3 92.3h0M861.9 64.8h0M859.3 220.9h0M910.2 89.8h0M819.9 87.8h0M815.7 194.0h0M820.4 95.7h0M833.0 206.0h0M906.8 112.2h0M818.5 71.9h0M888.6 208.7h0M833.7 216.8h0M818.3 96.7h0M889.6 210.4h0M900.9 63.2h0M817.0 123.2h0M906.1 152.3h0M833.0 61.2h0M820.1 101.8h0M821.3 65.6h0M859.9 219.4h0M810.3 131.3h0M904.1 183.3h0M893.6 64.9h0M857.2 62.4h0M906.5 95.9h0M837.9 221.7h0M828.9 203.0h0M845.1 225.6h0M914.7 144.9h0M883.4 64.9h0M830.1 206.2h0M818.3 151.9h0M828.3 196.4h0M897.0 214.6h0M850.0 63.2h0M909.0 101.5h0M897.2 204.6h0M824.2 196.4h0M826.1 195.8h0M817.8 170.1h0M817.1 60.8h0M830.5 62.8h0M817.9 104.5h0M868.1 221.8h0M815.5 85.5h0M907.8 62.2h0M821.8 203.8h0M876.8 66.8h0M827.6 192.4h0M893.8 207.6h0M907.1 164.9h0M908.6 138.1h0M906.1 119.3h0M910.6 137.8h0M909.1 130.1h0M884.7 210.1h0M912.3 76.3h0M833.6 214.4h0M886.0 64.3h0M821.9 142.9h0M908.8 131.4h0M904.8 190.5h0M786.2 81.1h0M814.9 123.8h0M876.5 222.4h0M816.5 63.1h0M830.5 200.2h0M906.5 185.5h0M905.7 135.7h0M915.5 98.3h0M824.0 204.2h0M905.4 149.7h0M892.1 206.1h0M915.9 150.5h0M819.7 135.0h0M909.5 176.2h0M811.7 104.7h0M909.8 144.5h0M911.4 142.1h0M817.5 102.7h0M915.7 66.7h0M869.5 221.6h0M905.1 184.8h0M830.5 205.7h0M818.4 57.4h0M914.0 125.1h0M847.7 62.7h0M914.5 130.9h0M820.3 71.5h0M815.9 122.4h0M888.2 215.6h0M877.8 66.6h0M848.6 220.9h0M816.4 145.9h0M829.6 205.9h0M912.8 188.0h0M822.1 161.1h0M907.7 160.7h0M901.8 188.8h0M865.9 220.9h0M889.9 207.3h0M822.1 134.2h0M821.8 137.9h0M820.4 126.2h0M824.0 185.0h0M834.6 209.6h0M848.2 65.3h0M910.4 94.0h0M881.4 227.3h0M841.0 219.9h0M815.8 182.9h0M909.9 126.7h0M899.1 198.7h0M844.8 65.1h0M815.0 126.3h0M855.6 63.7h0M907.3 147.5h0M906.5 100.7h0M911.3 104.9h0M904.5 180.4h0M837.9 219.6h0M910.6 181.4h0M821.2 60.8h0M820.6 158.3h0M915.3 65.3h0M896.0 208.4h0M909.6 155.1h0M848.4 63.2h0M894.2 67.3h0M827.5 62.5h0M820.4 101.1h0M821.8 102.7h0M906.1 188.4h0M797.2 190.5h0M817.8 94.1h0M899.1 193.1h0M914.6 127.4h0M910.2 128.1h0M873.5 219.3h0M866.3 61.8h0M915.2 127.8h0M912.4 138.2h0M821.4 63.7h0M828.5 207.8h0M851.7 64.1h0M888.7 212.3h0M915.5 96.2h0M897.7 199.4h0M911.3 184.4h0M819.1 102.4h0M820.4 170.1h0M850.3 227.6h0M894.8 60.4h0M823.9 64.3h0M868.5 222.8h0M912.8 146.1h0M852.7 217.4h0M854.7 228.6h0M899.3 198.0h0M871.3 62.0h0M913.4 132.0h0M815.4 158.4h0M820.5 163.9h0M819.1 126.2h0M813.5 74.0h0M820.6 86.5h0M906.2 130.7h0M814.3 139.3h0M836.3 213.3h0M909.8 139.4h0M815.6 100.5h0M892.8 66.3h0M905.6 160.1h0M870.9 66.4h0M881.0 212.1h0M912.4 208.8h0M819.0 148.0h0M820.3 110.8h0M821.3 58.0h0M908.8 94.2h0M885.0 210.0h0M899.5 58.8h0M813.3 83.2h0M845.5 219.8h0M906.2 140.1h0M860.1 55.9h0M821.8 141.0h0M909.6 88.0h0M851.7 220.7h0M852.2 218.1h0M908.3 164.0h0M906.5 62.5h0M879.8 218.2h0M812.9 159.4h0M819.4 119.7h0M844.5 64.1h0M916.7 208.1h0M907.9 70.7h0M912.5 133.0h0M842.4 63.7h0M910.2 157.2h0M819.6 66.2h0M814.5 120.0h0M820.5 65.3h0M871.1 64.9h0M911.6 187.6h0M900.8 197.0h0M889.9 61.9h0M901.3 64.1h0M935.2 207.8h0M797.2 159.9h0M895.3 63.6h0M820.2 182.1h0M847.4 219.4h0M901.3 203.0h0M866.0 219.6h0M891.4 62.5h0M905.5 62.8h0M825.2 206.7h0M823.2 184.5h0M812.2 65.7h0M873.5 218.3h0M910.1 150.3h0M883.2 210.7h0M819.2 144.8h0M908.4 112.7h0M912.1 238.7h0M912.2 93.4h0M905.8 148.5h0M906.8 97.5h0M922.2 82.5h0M818.4 166.9h0M827.4 229.1h0M812.9 113.0h0M861.0 224.1h0M821.2 194.9h0M906.6 134.4h0M819.9 103.8h0M833.7 62.9h0M907.5 145.3h0M868.2 60.0h0M885.3 60.7h0M912.4 85.9h0M822.7 71.2h0M814.8 176.6h0M854.4 221.9h0M911.0 175.2h0M818.5 174.8h0M822.8 183.7h0M819.0 81.8h0M839.9 220.6h0M817.6 155.8h0M845.2 216.7h0M818.3 72.9h0M904.5 65.4h0M820.1 106.1h0M806.1 212.6h0M867.7 64.5h0M826.1 189.3h0M908.4 82.9h0M902.8 66.5h0M892.0 209.5h0M839.5 66.6h0M860.9 223.0h0M892.2 208.3h0M817.3 132.1h0M819.8 93.6h0M885.6 215.9h0M819.2 89.1h0M844.6 63.5h0M824.6 67.2h0M844.7 63.5h0M856.4 59.5h0M911.5 130.4h0M857.5 65.2h0M902.2 64.6h0M895.5 208.2h0M910.9 86.1h0M886.0 217.1h0M901.5 190.0h0M905.4 158.4h0M878.3 225.0h0M913.0 117.8h0M823.2 180.0h0M814.3 146.3h0M817.1 64.1h0M823.6 155.2h0M820.8 145.0h0M817.6 66.9h0M819.2 193.1h0M879.1 212.7h0M822.3 200.4h0M908.8 101.4h0M915.9 69.8h0M818.1 150.4h0M818.5 74.5h0M818.1 58.1h0M881.3 65.6h0M827.1 205.3h0M852.0 65.6h0M907.5 140.8h0M817.6 80.5h0M815.3 101.7h0M860.4 220.3h0M911.9 131.5h0M819.9 146.8h0M872.9 219.2h0M821.5 167.3h0M811.0 145.9h0M906.8 168.5h0M816.4 148.3h0M825.3 185.5h0M831.8 64.0h0M883.6 65.4h0M820.0 130.1h0M874.9 215.6h0M846.9 224.0h0M855.3 227.0h0M819.7 166.5h0M901.6 206.2h0M820.7 132.5h0M820.3 143.5h0M860.0 220.6h0M898.4 66.5h0M822.7 74.9h0M835.1 61.5h0M902.3 67.9h0M891.5 64.9h0M909.5 91.6h0M824.6 187.6h0M910.0 131.5h0M907.7 143.5h0M857.5 59.2h0M912.5 153.8h0M867.2 61.7h0M810.9 127.8h0M835.3 213.1h0M816.1 115.5h0M881.7 66.0h0M860.0 63.6h0M910.4 80.8h0M909.3 113.1h0M906.8 144.8h0M905.8 178.9h0M823.1 195.8h0M809.1 107.2h0M907.6 69.2h0M854.1 61.3h0M821.4 120.6h0M904.4 200.9h0M823.9 163.7h0M844.4 223.9h0M915.5 158.1h0M802.5 77.0h0M866.6 62.3h0M848.4 218.5h0M817.1 74.5h0M853.8 218.4h0M822.6 196.8h0M912.6 99.9h0M909.5 116.5h0M818.2 102.5h0M816.3 79.4h0M910.2 137.6h0M819.1 192.5h0M821.0 68.8h0M893.3 208.5h0M820.9 128.3h0M822.3 137.8h0M914.9 181.2h0M819.8 115.7h0M825.0 62.3h0M894.4 65.2h0M822.9 145.6h0M889.9 213.4h0M814.4 76.4h0M842.4 66.8h0M855.7 219.6h0M892.7 212.2h0M839.7 220.8h0M910.0 142.2h0M913.7 104.9h0M825.1 201.8h0M906.7 178.9h0M897.3 206.1h0M908.5 182.7h0M828.0 207.7h0M815.7 115.8h0M821.4 76.6h0M910.9 85.7h0M893.3 61.1h0M889.9 207.3h0M826.3 203.6h0M886.5 65.5h0M876.9 64.9h0M822.0 157.7h0M910.1 164.5h0M907.8 176.8h0M821.9 106.5h0M873.1 225.1h0M907.4 155.9h0M825.3 201.7h0M899.0 67.1h0M912.3 80.9h0M856.8 223.8h0M817.7 148.9h0M909.2 162.5h0M828.4 206.3h0M816.9 127.7h0M816.0 86.3h0M829.6 212.7h0M822.3 75.6h0M905.0 180.3h0M908.3 167.4h0M907.7 82.4h0M913.4 152.3h0M901.4 191.9h0M908.7 81.0h0M911.2 89.3h0M815.5 133.0h0M822.5 161.8h0M812.8 124.3h0M810.1 193.8h0M907.0 182.9h0M897.7 198.8h0M826.0 190.5h0M894.4 210.2h0M821.1 166.3h0M860.3 216.9h0M906.1 140.9h0M912.4 61.7h0M904.8 176.3h0M817.1 106.5h0M849.3 216.6h0M789.3 123.1h0M818.5 159.7h0M833.5 213.1h0M895.7 63.0h0M818.9 140.7h0M910.4 81.5h0M844.7 221.1h0M911.0 82.5h0M820.1 153.5h0M899.3 64.8h0M845.4 65.1h0M863.2 66.9h0M902.0 185.2h0M813.5 193.1h0M736.7 100.0h0M741.1 116.0h0M741.1 129.7h0M732.7 205.8h0M746.0 188.1h0M751.7 212.5h0M763.2 211.6h0M757.0 188.1h0M761.5 191.2h0M752.6 80.6h0M758.8 82.3h0M773.9 79.7h0M761.5 101.8h0M757.0 118.6h0M766.8 119.5h0M779.2 90.7h0M781.4 66.4h0M784.9 64.2h0M799.1 71.7h0M807.1 70.8h0M790.2 81.9h0M794.7 87.6h0M779.2 104.0h0M788.0 108.5h0M770.3 128.4h0M763.7 141.6h0M769.0 141.6h0M781.4 142.5h0M788.0 148.3h0M770.3 166.0h0M772.5 174.8h0M779.2 179.3h0M790.2 168.2h0M796.9 161.6h0M781.4 194.8h0M774.8 199.2h0M792.5 201.4h0M799.1 223.5h0M800.0 208.0h0M805.7 194.8h0M822.6 228.0h0M835.8 226.6h0M841.2 239.0h0M856.6 229.3h0M868.6 224.9h0M881.0 244.8h0M889.8 243.5h0M896.5 224.9h0M881.0 219.1h0M892.1 212.5h0M903.1 208.0h0M912.0 205.8h0M915.5 214.7h0M912.9 216.9h0M923.0 194.8h0M931.9 205.8h0M931.9 212.5h0M942.1 211.6h0M958.5 207.2h0M939.4 230.2h0M916.4 190.3h0M920.8 174.8h0M931.9 168.2h0M947.4 165.1h0M924.4 154.9h0M928.8 161.6h0M943.8 150.5h0M927.5 141.6h0M919.9 128.4h0M925.3 90.7h0M923.0 80.6h0M937.7 82.8h0M945.2 79.7h0M936.3 95.2h0M940.8 102.7h0M951.8 110.7h0M958.5 119.5h0M972.6 95.2h0M934.1 112.9h0M919.9 57.5h0M920.8 66.4h0M866.8 261.2h0M777.6 162.7h0M798.4 132.0h0M779.9 177.8h0M806.1 136.8h0M792.7 96.5h0M796.2 72.1h0M805.5 95.9h0M814.5 169.9h0M809.1 151.9h0M771.8 110.0h0M792.4 78.9h0M812.5 115.8h0M790.4 142.6h0M785.5 132.8h0M808.7 96.3h0M804.9 92.4h0M813.2 192.6h0M803.7 173.4h0M796.0 168.6h0M775.7 131.6h0M806.9 91.3h0M811.2 191.6h0M788.5 115.3h0M790.3 118.3h0M814.4 118.4h0M792.3 133.8h0M794.7 171.3h0M780.2 150.9h0M795.0 152.9h0M778.3 86.8h0M785.7 149.2h0M783.9 77.1h0M804.7 116.7h0M800.6 160.7h0M810.1 202.0h0M812.9 148.2h0M809.4 133.7h0M787.0 98.1h0M809.1 85.7h0M804.6 132.6h0M807.4 69.6h0M781.7 104.3h0M788.9 86.9h0M773.4 111.4h0M810.1 205.6h0M803.3 131.9h0M793.6 168.4h0M807.4 178.1h0M809.3 149.8h0M789.2 146.9h0M807.9 107.0h0M794.0 102.3h0M800.7 201.3h0M798.8 186.4h0M796.2 99.5h0M810.4 81.5h0M771.4 127.2h0M799.3 80.5h0M794.2 109.3h0M792.2 94.1h0M777.7 88.8h0M787.1 165.7h0M801.8 189.6h0M804.6 177.5h0M778.1 165.9h0M781.5 163.7h0M787.5 107.2h0M810.2 105.1h0M792.6 142.2h0M812.3 76.4h0M796.9 136.2h0M802.8 203.2h0M784.1 164.1h0M793.6 143.9h0M813.6 113.9h0M804.0 127.4h0M798.9 126.6h0M793.2 118.9h0M788.1 94.9h0M772.5 125.4h0M781.3 164.8h0M806.5 167.7h0M790.5 96.5h0M787.4 133.1h0M798.3 202.7h0M774.1 132.0h0M792.1 166.7h0M809.7 175.8h0M798.1 172.8h0M799.9 187.4h0M801.3 161.7h0M787.4 151.8h0M806.8 202.7h0M814.1 62.9h0M784.2 107.5h0M787.6 83.2h0M794.8 73.6h0M803.2 129.5h0M801.5 92.0h0M785.2 155.7h0M800.5 100.1h0M812.4 109.0h0M781.6 185.5h0M777.1 161.5h0M779.2 149.3h0M782.6 117.3h0M812.0 130.2h0M789.7 152.1h0M782.8 87.4h0M787.4 101.8h0M811.7 164.9h0M801.3 97.1h0M774.5 107.1h0M790.4 192.6h0M786.7 81.7h0M805.4 182.1h0M778.6 120.8h0M794.8 94.9h0M805.8 185.2h0M811.3 191.0h0M803.4 172.9h0M806.4 150.6h0M797.8 130.8h0M805.7 111.3h0M782.3 113.6h0M783.5 153.6h0M809.7 72.3h0M773.3 136.7h0M800.3 89.7h0M772.0 134.3h0M800.5 157.4h0M811.5 140.6h0M788.4 162.9h0M802.5 138.6h0M785.9 139.8h0M798.1 87.4h0M801.7 134.1h0M806.0 194.4h0M800.4 93.7h0M804.8 193.8h0M793.9 194.7h0M813.3 119.0h0M812.0 198.8h0M785.9 151.6h0M797.2 172.4h0M799.0 85.6h0M811.5 140.3h0M809.4 92.2h0M915.4 76.0h0M924.1 106.4h0M928.5 91.0h0M929.8 102.9h0M925.1 66.3h0M928.4 139.4h0M917.8 85.4h0M927.8 138.4h0M925.0 142.4h0M916.8 188.9h0M917.8 165.2h0M914.6 171.2h0M924.4 84.7h0M912.6 184.7h0M921.4 129.6h0M919.6 149.0h0M929.0 101.2h0M918.9 138.4h0M917.5 140.2h0M922.1 118.3h0M924.5 131.1h0M918.6 118.1h0M919.5 185.3h0M919.4 72.8h0M928.6 82.9h0M922.1 106.9h0M918.1 108.0h0M915.5 64.8h0M921.9 167.2h0M924.0 87.0h0M924.9 66.8h0M919.6 171.6h0M929.1 121.9h0M927.7 127.1h0M921.7 138.7h0M920.8 157.9h0M923.9 107.5h0" fill="none" stroke="#e79f27" stroke-width="7.8" stroke-linecap="round"/>
</g>
<path d="M732.7 148.7L742.7 146.6L752.7 144.5L762.7 142.4L772.7 140.2L782.7 138.1L792.7 136.0L802.7 133.9L812.7 131.8L822.7 129.6L832.7 127.5L842.7 125.4L852.7 123.3L862.7 121.2L872.7 119.0L882.7 116.9L892.6 114.8L902.6 112.7L912.6 110.6L922.6 108.4L932.6 106.3L942.6 104.2L952.6 102.1L962.6 99.9L972.6 97.8L972.6 123.5L962.6 125.6L952.6 127.7L942.6 129.8L932.6 131.8L922.6 133.9L912.6 136.0L902.6 138.1L892.6 140.2L882.7 142.3L872.7 144.3L862.7 146.4L852.7 148.5L842.7 150.6L832.7 152.7L822.7 154.8L812.7 156.8L802.7 158.9L792.7 161.0L782.7 163.1L772.7 165.2L762.7 167.3L752.7 169.4L742.7 171.4L732.7 173.5Z" fill="#858585" fill-opacity="0.2"/>
<path d="M732.7 161.1L972.6 110.7" stroke="#0a0a0a" stroke-width="2.2" fill="none"/>
<rect x="552.1" y="259.3" width="347.1" height="12.6" fill="#f1f1f1" stroke="#e4e4e4" stroke-width="0.8"/>
<rect x="899.2" y="259.3" width="38.2" height="12.6" fill="#f1f1f1" stroke="#e4e4e4" stroke-width="0.8"/>
<rect x="937.4" y="259.3" width="28.6" height="12.6" fill="#f1f1f1" stroke="#e4e4e4" stroke-width="0.8"/>
<rect x="966.0" y="259.3" width="11.9" height="12.6" fill="#f1f1f1" stroke="#e4e4e4" stroke-width="0.8"/>
<rect x="977.9" y="259.3" width="7.5" height="12.6" fill="#f1f1f1" stroke="#e4e4e4" stroke-width="0.8"/>
<text transform="translate(663.5 278.1) scale(0.9615 1)" font-size="22.88" text-anchor="middle" stroke="#231f20" stroke-width="0.4">Ng</text>
<text transform="translate(923.7 278.1) scale(0.9615 1)" font-size="22.88" text-anchor="middle" stroke="#231f20" stroke-width="0.4">Pg</text>
<text transform="translate(951.8 278.1) scale(0.9615 1)" font-size="22.88" text-anchor="middle" stroke="#231f20" stroke-width="0.4">K</text>
<text transform="translate(976.2 278.1) scale(0.9615 1)" font-size="22.88" text-anchor="middle" stroke="#231f20" stroke-width="0.4">J</text>
<path d="M566.3 197.3L567.7 194.2L572.0 192.4L576.5 191.2L580.4 192.0L583.9 194.5L588.2 197.0L593.1 199.1L598.0 201.9L602.3 204.7L604.7 206.5L606.5 205.1L609.3 205.1L611.8 207.5L614.2 210.0L616.3 211.4L618.5 212.1L619.9 211.4L620.0 205.4L619.7 203.9L621.3 203.9L621.4 205.4L621.1 211.8L622.0 212.8L623.0 211.2L623.9 211.6L623.0 213.5L622.3 214.6L621.6 216.0L622.3 218.8L622.7 222.3L621.3 223.4L618.5 222.7L615.6 220.6L612.8 217.7L610.7 215.3L610.4 218.1L609.6 221.6L608.6 224.8L607.5 226.5L610.7 225.5L614.2 225.3L616.0 227.3L616.0 230.8L614.9 235.7L613.5 240.6L611.4 244.2L609.3 246.3L608.9 249.4L607.9 249.9L607.0 248.7L607.0 247.0L605.1 247.7L602.3 249.4L599.4 251.5L597.7 252.6L596.5 251.2L597.3 250.1L600.8 248.0L604.0 246.4L601.5 246.1L601.2 245.0L605.1 244.9L607.9 242.7L609.6 239.2L610.7 235.7L610.8 233.2L607.9 235.4L603.7 237.1L600.1 237.7L597.7 236.4L596.3 233.6L596.3 230.1L597.0 227.3L593.8 226.2L591.0 225.3L588.9 224.8L587.8 227.3L586.1 230.8L584.3 234.3L585.4 235.4L587.8 236.3L588.2 237.5L585.4 237.7L581.8 237.1L578.3 238.2L575.1 239.1L572.3 239.8L571.1 238.9L572.0 238.0L575.1 237.3L577.6 236.1L575.1 234.9L572.5 233.6L571.1 232.5L572.0 231.6L574.1 232.3L576.9 233.7L579.4 233.6L580.8 230.8L582.2 227.3L582.9 223.7L582.5 220.2L581.5 216.7L579.7 213.9L577.3 211.8L574.1 209.6L571.3 207.2L568.8 204.0L567.0 200.8Z" fill="#000" stroke="#000" stroke-width="0.4" stroke-linejoin="round"/>
<rect x="551.3" y="0.9" width="434.9" height="288.6" fill="none" stroke="#111" stroke-width="1.7"/>
<text transform="translate(560.3 35.1) scale(0.9476 1)" font-size="35.88" text-anchor="start" stroke="#231f20" stroke-width="0.65" xml:space="preserve"><tspan font-weight="bold">B.</tspan> <tspan font-style="italic">n = 4,190</tspan></text>
</g>
<g id="panel-C">
<path d="M86.6 385.1H96.2M86.6 433.7H96.2M86.6 482.3H96.2M86.6 530.9H96.2M86.6 579.5H96.2M103.4 638.8V648.4M330.2 638.8V648.4M372.0 638.8V648.4M413.8 638.8V648.4M455.6 638.8V648.4M497.4 638.8V648.4" stroke="#111" stroke-width="1.25" fill="none"/>
<text transform="translate(78.6 382.1) scale(0.9615 1)" font-size="35.36" text-anchor="end" stroke="#231f20" stroke-width="0.65">10</text>
<text transform="translate(80.0 369.6) scale(1.0500 1)" font-size="18.20" text-anchor="start" stroke="#231f20" stroke-width="0.7">8</text>
<text transform="translate(78.6 431.7) scale(0.9615 1)" font-size="35.36" text-anchor="end" stroke="#231f20" stroke-width="0.65">10</text>
<text transform="translate(80.0 419.2) scale(1.0500 1)" font-size="18.20" text-anchor="start" stroke="#231f20" stroke-width="0.7">6</text>
<text transform="translate(78.6 482.7) scale(0.9615 1)" font-size="35.36" text-anchor="end" stroke="#231f20" stroke-width="0.65">10</text>
<text transform="translate(80.0 470.2) scale(1.0500 1)" font-size="18.20" text-anchor="start" stroke="#231f20" stroke-width="0.7">4</text>
<text transform="translate(78.6 530.3) scale(0.9615 1)" font-size="35.36" text-anchor="end" stroke="#231f20" stroke-width="0.65">10</text>
<text transform="translate(80.0 517.8) scale(1.0500 1)" font-size="18.20" text-anchor="start" stroke="#231f20" stroke-width="0.7">2</text>
<text transform="translate(76.7 579.9) scale(0.9615 1)" font-size="35.36" text-anchor="end" stroke="#231f20" stroke-width="0.65">1</text>
<text transform="translate(98.9 683.7) scale(0.9615 1)" font-size="35.36" text-anchor="middle" stroke="#231f20" stroke-width="0.65">0</text>
<text transform="translate(324.2 683.7) scale(0.9615 1)" font-size="35.36" text-anchor="middle" stroke="#231f20" stroke-width="0.65">1</text>
<text transform="translate(361.4 683.7) scale(0.9615 1)" font-size="35.36" text-anchor="middle" stroke="#231f20" stroke-width="0.65">3</text>
<text transform="translate(400.9 683.7) scale(0.9615 1)" font-size="35.36" text-anchor="middle" stroke="#231f20" stroke-width="0.65">10</text>
<text transform="translate(447.2 683.7) scale(0.9615 1)" font-size="35.36" text-anchor="middle" stroke="#231f20" stroke-width="0.65">32</text>
<text transform="translate(504.4 683.7) scale(0.9615 1)" font-size="35.36" text-anchor="middle" stroke="#231f20" stroke-width="0.65">100</text>
<clipPath id="clipC"><rect x="96.2" y="350.2" width="434.9" height="288.6"/></clipPath>
<g clip-path="url(#clipC)">
<path d="M266.8 412.0L267.4 412.9L268.5 414.1L270.0 415.3L271.9 416.5L274.1 417.6L276.8 418.5L280.0 419.4L283.7 420.2L287.7 421.0L291.9 421.8L296.2 422.6L300.6 423.5L305.0 424.3L309.3 425.1L313.7 425.8L318.0 426.5L323.4 427.1L330.0 427.6L337.7 428.1L346.5 428.5L355.9 428.9L365.8 429.3L376.3 429.5L387.3 429.8L396.6 429.8L404.2 429.5L410.1 429.1L414.3 428.5L418.5 427.6L422.7 426.6L427.0 425.3L431.3 423.8L431.3 423.8L435.6 422.3L435.6 422.3L439.8 420.8L439.8 420.8L443.8 419.5L443.8 419.5L447.7 418.1L447.8 418.1L451.7 416.9L451.8 416.8L455.6 415.7L455.7 415.7L459.6 414.7L459.7 414.7L463.5 413.8L466.8 412.9L469.7 411.9L470.9 411.3L465.8 410.5L456.6 409.9L443.9 409.6L348.5 409.6L329.2 409.6L312.6 409.7L298.8 409.9L287.8 410.1L279.0 410.5L272.4 411.0L268.3 411.5Z" fill="#0f9d74"/>
<path d="M366.0 429.1h0M473.2 412.4h0M329.9 423.1h0M395.9 424.9h0M414.0 412.7h0M424.8 430.0h0M461.5 415.7h0M348.0 432.3h0M394.4 432.4h0M311.6 420.9h0M399.5 412.9h0M340.1 426.3h0M365.6 425.8h0M408.2 414.4h0M355.9 429.9h0M458.8 412.7h0M454.0 413.3h0M397.8 432.5h0M273.6 419.5h0M282.8 417.3h0M361.1 412.9h0M292.7 418.0h0M304.6 423.0h0M407.6 410.4h0M345.3 423.8h0M386.9 431.6h0M420.7 412.8h0M384.3 433.9h0M454.7 416.3h0M398.9 427.8h0M295.3 418.6h0M326.1 409.9h0M311.5 422.0h0M294.6 414.3h0M306.6 412.7h0M357.5 413.5h0M302.1 421.3h0M398.8 427.9h0M368.8 430.1h0M430.0 421.5h0M375.1 412.1h0M401.8 413.9h0M454.9 412.1h0M430.3 419.2h0M399.8 426.4h0M327.0 427.6h0M432.9 411.6h0M283.0 423.5h0M445.0 412.2h0M427.8 425.5h0M445.7 410.8h0M399.3 424.8h0M392.4 411.1h0M307.8 421.2h0M455.5 413.0h0M340.2 414.2h0M283.5 420.3h0M386.3 426.5h0M305.2 424.2h0M314.9 414.5h0M278.2 413.4h0M406.2 427.8h0M408.5 444.8h0M390.3 430.9h0M447.6 415.9h0M449.0 418.1h0M382.9 429.1h0M413.0 411.9h0M326.7 413.8h0M407.4 431.9h0M340.0 412.8h0M281.0 420.1h0M378.4 427.1h0M293.8 412.6h0M431.3 430.5h0M349.3 410.9h0M278.6 410.9h0M385.2 432.4h0M436.5 425.7h0M376.0 424.6h0M368.4 411.3h0M436.1 419.3h0M388.1 429.8h0M364.4 430.3h0M384.0 431.0h0M278.5 425.6h0M349.6 411.6h0M415.3 423.7h0M286.0 412.0h0M279.2 420.8h0M413.1 410.3h0M388.5 413.5h0M331.8 413.5h0M365.0 430.5h0M265.7 413.7h0M350.5 425.6h0M313.5 421.3h0M451.0 417.0h0M405.4 411.0h0M290.2 425.8h0M395.4 426.5h0M380.4 428.6h0M405.5 425.3h0M417.1 426.4h0M312.7 412.7h0M355.6 428.7h0M454.5 413.7h0M284.3 415.5h0M446.1 424.8h0M271.0 419.5h0M387.0 411.7h0M446.1 427.0h0M283.3 411.0h0M423.6 411.2h0M425.1 420.8h0M392.6 412.9h0M290.9 426.7h0M298.1 422.3h0M276.9 419.0h0M370.0 425.7h0M413.3 426.9h0M334.5 412.2h0M361.0 427.5h0M331.8 411.7h0M373.0 428.4h0M363.0 429.8h0M388.1 430.7h0M334.8 425.3h0M439.2 411.5h0M272.4 418.5h0M431.5 412.3h0M362.9 428.2h0M302.7 426.3h0M279.4 417.1h0M344.9 427.5h0M390.4 411.1h0M297.0 424.9h0M458.4 411.1h0M325.6 412.6h0M362.3 437.1h0M410.0 430.8h0M459.1 410.6h0M350.8 413.4h0M424.0 423.1h0M288.1 419.0h0M387.4 409.9h0M361.8 425.3h0M279.0 412.0h0M348.2 427.1h0M469.9 410.9h0M383.8 429.7h0M309.7 426.5h0M372.1 427.6h0M283.8 424.1h0M328.8 422.7h0M329.3 425.2h0M376.6 431.3h0M296.3 411.9h0M435.9 418.1h0M423.7 411.5h0M340.4 411.9h0M276.3 419.8h0M347.3 430.9h0M442.4 418.9h0M304.5 410.8h0M380.0 430.8h0M314.6 429.0h0M377.3 431.9h0M428.5 419.5h0M297.1 418.0h0M357.7 424.8h0M336.9 425.6h0M356.8 442.7h0M283.8 415.7h0M272.0 419.4h0M360.9 426.9h0M339.0 425.3h0M347.8 439.7h0M459.5 415.6h0M446.1 413.2h0M273.2 428.6h0M278.3 423.0h0M270.4 417.8h0M391.5 409.7h0M284.1 445.3h0M437.9 413.6h0M444.4 416.7h0M343.4 430.6h0M389.1 409.8h0M372.6 414.3h0M278.6 415.7h0M339.2 424.3h0M328.5 411.0h0M338.1 411.9h0M316.2 411.5h0M356.2 437.5h0M420.0 427.5h0M443.4 422.8h0M321.6 412.8h0M283.3 422.0h0M262.6 426.4h0M287.9 410.8h0M463.2 414.6h0M288.0 428.5h0M324.7 427.7h0M440.8 412.7h0M324.5 424.8h0M337.2 411.0h0M421.7 409.8h0M331.4 424.5h0M266.9 411.8h0M383.7 424.7h0M360.7 410.5h0M351.4 430.4h0M311.3 424.5h0M314.8 421.4h0M397.9 425.7h0M386.1 426.7h0M441.5 413.4h0M382.0 409.9h0M320.7 411.9h0M306.3 414.6h0M331.8 414.0h0M306.6 413.1h0M449.6 410.5h0M322.9 412.0h0M329.2 431.4h0M357.3 409.8h0M429.5 423.3h0M327.3 430.8h0M314.7 424.1h0M369.5 411.0h0M364.1 412.0h0M354.7 424.0h0M412.0 430.5h0M433.6 426.6h0M351.7 425.3h0M393.3 430.0h0M338.8 413.5h0M450.4 411.9h0M360.4 424.6h0M434.1 412.5h0M391.7 429.8h0M456.8 421.5h0M388.0 430.9h0M410.8 412.1h0M399.0 436.2h0M339.1 428.7h0M326.3 409.6h0M339.2 425.3h0M465.6 419.1h0M332.7 412.2h0M430.8 427.5h0M427.4 425.9h0M411.2 425.1h0M399.0 431.9h0M276.0 411.0h0M427.9 410.3h0M428.9 420.1h0M377.9 414.0h0M384.7 431.7h0M338.1 429.7h0M359.0 438.3h0M337.3 414.5h0M331.8 431.3h0M319.2 427.8h0M438.9 422.1h0M278.0 414.0h0M400.9 411.2h0M384.0 411.3h0M422.3 413.5h0M383.4 412.0h0M370.4 412.6h0M372.0 410.4h0M388.1 429.3h0M375.6 425.4h0M421.2 413.9h0M365.0 410.5h0M430.4 421.8h0M381.2 412.7h0M284.4 430.7h0M323.3 430.4h0M422.7 437.8h0M396.4 411.0h0M284.0 417.1h0M366.1 411.6h0M371.3 431.3h0M266.9 414.0h0M362.1 413.7h0M306.9 419.6h0M396.9 431.6h0M280.8 420.7h0M347.5 427.0h0M281.7 428.7h0M456.4 416.7h0M322.7 433.4h0M454.5 411.6h0M346.1 413.2h0M299.6 414.5h0M387.6 425.9h0M383.2 427.9h0M322.6 429.2h0M289.8 420.8h0M352.6 427.0h0M336.1 429.5h0M290.1 410.1h0M460.4 412.1h0M369.8 411.2h0M306.6 426.7h0M327.3 427.0h0M299.2 421.6h0M440.3 410.5h0M420.2 422.8h0M443.3 418.5h0M399.8 426.3h0M388.4 429.5h0M328.3 423.5h0M275.5 411.5h0M388.8 432.7h0M293.0 427.7h0M301.8 412.0h0M392.7 433.1h0M323.7 423.0h0M346.9 409.8h0M282.8 414.9h0M338.4 424.8h0M382.1 430.7h0M331.8 428.2h0M277.5 423.5h0M456.4 411.8h0M380.2 424.8h0M405.6 412.0h0M418.6 425.2h0M388.8 432.8h0M435.6 419.2h0M385.5 410.0h0M409.6 411.9h0M359.8 410.7h0M375.2 427.7h0M273.1 413.6h0M331.3 412.1h0M428.3 426.3h0M372.3 425.2h0M414.2 425.9h0M421.7 410.4h0M423.5 414.0h0M430.4 422.8h0M376.2 428.8h0M451.2 410.4h0M402.2 412.5h0M439.0 416.2h0M365.6 410.8h0M466.6 414.6h0M332.5 414.6h0M292.8 419.9h0M265.1 420.9h0M322.1 411.4h0M408.1 411.5h0M373.1 430.2h0M449.5 411.0h0M398.8 431.4h0M278.8 420.1h0M299.3 421.2h0M375.5 410.0h0M356.6 435.1h0M336.0 424.9h0M266.5 410.6h0M459.5 413.6h0M359.9 425.5h0M339.8 425.3h0M351.2 410.2h0M279.1 416.0h0M272.4 415.4h0M327.0 411.6h0M287.0 415.9h0M393.9 428.8h0M444.7 430.0h0M404.9 430.1h0M437.0 414.4h0M350.2 412.6h0M329.1 426.7h0M428.3 420.8h0M395.3 413.0h0M285.9 412.6h0M376.5 413.3h0M418.2 428.5h0M384.4 427.7h0M436.4 420.5h0M407.8 412.3h0M314.7 425.9h0M351.9 411.5h0M349.9 429.5h0M385.3 425.0h0M389.0 428.0h0M336.6 425.2h0M303.1 413.5h0M442.8 419.4h0M317.3 423.3h0M266.3 413.7h0M350.2 430.4h0M462.9 414.1h0M346.6 427.9h0M335.9 423.1h0M389.7 431.6h0M370.1 429.5h0M339.5 427.3h0M426.3 423.4h0M301.6 425.0h0M368.8 433.0h0M335.8 431.1h0M450.3 421.2h0M414.9 413.0h0M280.5 418.1h0M467.7 414.6h0M302.8 419.8h0M445.0 413.7h0M392.6 414.5h0M270.5 414.2h0M379.8 428.6h0M324.5 429.8h0M284.3 416.7h0M404.8 426.3h0M421.3 430.9h0M439.3 421.1h0M377.1 425.1h0M331.8 410.1h0M407.6 413.3h0M354.6 424.1h0M306.7 412.0h0M395.1 409.8h0M433.5 412.2h0M290.2 418.4h0M378.1 427.8h0M361.2 410.5h0M328.8 412.3h0M338.7 412.6h0M306.1 425.5h0M270.3 414.6h0M454.2 414.2h0M299.4 421.9h0M430.8 419.3h0M284.2 415.5h0M373.9 437.0h0M401.9 433.3h0M304.0 412.1h0M275.9 425.2h0M277.7 411.9h0M406.1 425.8h0M366.5 413.6h0M339.6 429.2h0M380.8 425.3h0M360.2 429.3h0M399.7 436.6h0M425.5 411.3h0M440.7 420.2h0M383.0 428.5h0M285.0 419.5h0M109.1 438.1h0M109.1 453.9h0M127.9 411.1h0M127.9 415.1h0M139.8 413.3h0M139.8 429.5h0M148.9 415.6h0M153.3 411.8h0M162.8 430.6h0M171.9 420.7h0M187.2 420.7h0M207.5 417.1h0M215.3 417.1h0M215.7 423.3h0M234.5 418.9h0M237.9 424.4h0M235.2 429.5h0M248.3 411.1h0M253.8 415.6h0M250.7 435.9h0M243.4 442.1h0M252.3 466.5h0M220.2 480.9h0M254.9 480.9h0M227.9 495.2h0M172.6 502.3h0M242.7 504.5h0M256.7 503.0h0M239.4 523.4h0M287.7 490.2h0M296.5 491.9h0M297.6 487.5h0M285.5 511.4h0M277.7 519.6h0M283.2 519.6h0M287.7 516.9h0M293.9 531.1h0M272.8 451.0h0M279.9 451.0h0M283.2 456.5h0M290.5 455.0h0M284.8 464.3h0M289.9 466.0h0M309.8 509.6h0M257.8 424.0h0M262.2 420.0h0M264.4 413.3h0M268.9 412.2h0M271.1 420.0h0M274.4 424.4h0M275.5 429.9h0M278.8 434.4h0M272.8 436.6h0M277.7 438.8h0M321.1 549.2h0M317.3 559.4h0M320.6 579.3h0M333.9 579.3h0M341.2 560.5h0M345.0 567.6h0M350.5 554.3h0M357.8 548.1h0M362.3 535.9h0M372.0 560.5h0M379.7 560.5h0M383.7 552.7h0M383.3 543.9h0M387.0 537.3h0M395.5 538.8h0M376.0 533.3h0M400.3 579.3h0M418.5 572.4h0M426.9 547.7h0M407.6 527.7h0M407.6 531.1h0M424.2 517.8h0M415.4 518.9h0M415.4 511.8h0M407.0 511.1h0M425.1 494.5h0M403.6 497.4h0M397.0 499.0h0M390.4 496.7h0M385.3 502.7h0M379.7 496.7h0M360.5 499.0h0M366.5 490.8h0M355.6 491.2h0M380.4 526.6h0M345.0 529.9h0M348.3 525.5h0M329.9 524.4h0M172.6 502.3h0M227.9 495.2h0M242.7 504.5h0M256.7 502.7h0M239.4 523.3h0M285.5 511.1h0M277.7 518.9h0M283.2 518.9h0M287.7 516.7h0M293.9 531.1h0M309.8 510.0h0M236.1 560.5h0M250.7 556.5h0M257.1 579.7h0M294.3 572.4h0M309.8 568.0h0M287.7 490.8h0M296.5 492.3h0M506.6 414.5h0M483.3 415.1h0M476.7 413.3h0M449.0 435.5h0M463.4 433.3h0M467.4 452.1h0M461.9 485.3h0M425.3 494.8h0M424.2 517.4h0M415.4 511.8h0M407.0 510.7h0M408.1 528.4h0M433.5 457.6h0M430.2 467.6h0M424.7 465.4h0M418.0 473.1h0M415.8 465.4h0M411.4 462.0h0M418.0 485.3h0M411.4 486.4h0M403.6 482.0h0M403.6 496.8h0M395.9 497.5h0M389.3 495.2h0M380.4 496.3h0M385.3 503.0h0M367.1 489.7h0M355.6 490.4h0M360.5 499.0h0M347.2 484.2h0M340.6 484.2h0M330.6 485.7h0M417.5 439.8h0M341.5 462.5h0M301.1 438.7h0M345.7 440.7h0M389.8 451.2h0M339.0 443.4h0M430.9 447.5h0M413.4 445.4h0M405.7 441.2h0M371.8 450.7h0M425.3 470.6h0M290.1 433.4h0M352.5 439.9h0M437.6 428.8h0M393.8 469.4h0M356.6 455.3h0M422.8 433.8h0M391.9 468.2h0M406.3 453.4h0M336.0 439.3h0M393.2 478.6h0M339.9 466.4h0M441.5 435.0h0M319.2 430.5h0M425.8 431.9h0M374.8 476.9h0M335.3 468.2h0M376.1 470.6h0M341.7 439.7h0M292.6 442.2h0M407.4 454.2h0M280.1 439.2h0M436.7 451.1h0M409.4 434.8h0M333.1 439.3h0M384.5 460.2h0M370.2 445.5h0M343.8 442.9h0M368.9 449.6h0M386.3 481.9h0M328.3 461.1h0M365.3 461.1h0M370.4 434.3h0M426.5 428.4h0M305.2 455.0h0M430.8 446.9h0M368.6 461.5h0M312.5 433.1h0M331.3 432.7h0M423.5 462.3h0M403.9 460.1h0M356.4 477.8h0M332.0 442.5h0M322.3 432.0h0M383.3 438.8h0M355.5 444.1h0M404.2 441.2h0M350.9 469.8h0M398.5 478.2h0M362.6 471.0h0M412.1 476.2h0M428.3 450.5h0M390.4 479.4h0M412.4 452.7h0M417.8 471.7h0M349.5 452.6h0M295.3 442.1h0M401.7 467.6h0M325.2 444.6h0M371.3 470.4h0M339.2 454.2h0M347.2 474.5h0M315.8 451.6h0M344.9 462.9h0M326.9 462.0h0M363.9 458.3h0M429.1 465.2h0M350.6 431.7h0M298.3 455.0h0M420.9 455.2h0M339.1 456.4h0M433.5 438.0h0M397.1 441.0h0M379.8 429.8h0M279.7 439.4h0M397.1 441.0h0M399.6 445.1h0M403.6 439.4h0M399.9 474.4h0M372.9 456.5h0M406.3 444.0h0M380.5 456.5h0M300.3 439.1h0M375.9 465.3h0M286.0 441.5h0M410.4 442.1h0M372.6 460.8h0M420.0 455.1h0M362.4 437.0h0M338.1 439.8h0M320.4 434.6h0M374.0 438.7h0M415.5 439.5h0M330.9 444.3h0M376.7 462.4h0M440.4 434.5h0M412.7 444.8h0M342.6 475.2h0M341.1 433.5h0M345.4 463.0h0M361.8 454.4h0M397.0 462.7h0M410.4 446.1h0M324.9 452.0h0M374.4 481.4h0M321.0 460.9h0M419.7 438.0h0M316.7 445.1h0M382.7 466.8h0M395.2 466.6h0M367.4 440.7h0M343.1 449.3h0M414.4 462.7h0M348.1 448.5h0M380.9 453.5h0M366.5 447.4h0M396.3 438.7h0M311.6 454.8h0M374.5 475.3h0M297.8 435.4h0M375.9 461.7h0M326.7 431.0h0M404.8 433.6h0M389.5 470.6h0M320.7 433.2h0M406.4 429.2h0M370.0 429.8h0M425.1 444.6h0M371.5 464.9h0M375.2 466.2h0M296.3 432.1h0M399.3 430.1h0M406.9 433.5h0M410.1 437.2h0M349.3 446.5h0M383.9 430.3h0M324.1 447.7h0M428.7 463.2h0M369.2 463.2h0M432.4 448.3h0M341.0 468.1h0M340.9 448.5h0M395.6 460.9h0M294.6 445.5h0M302.4 455.9h0M427.3 462.9h0M371.5 431.0h0M385.0 475.8h0M306.8 430.4h0M282.2 443.2h0M335.5 452.4h0M381.9 464.1h0M360.3 447.3h0M397.9 479.9h0M319.8 460.0h0M384.7 444.7h0M301.4 437.1h0M396.6 448.1h0M409.6 458.5h0M336.8 463.2h0M405.0 462.2h0M370.4 433.4h0M371.3 473.1h0M428.7 431.9h0M387.0 431.3h0M325.5 454.4h0M422.4 471.1h0M419.4 448.6h0M354.2 442.9h0M387.9 429.6h0M414.9 429.2h0M402.3 444.1h0M366.8 437.8h0M339.5 459.3h0M347.2 473.0h0M354.5 463.1h0M395.1 462.2h0M371.2 454.7h0M309.7 456.9h0M331.8 447.6h0M307.7 454.4h0M358.9 460.2h0M378.8 470.1h0M293.8 433.2h0M399.3 467.9h0M406.8 434.7h0M291.5 434.7h0M360.0 445.9h0M348.4 460.8h0M408.7 451.3h0M371.8 455.4h0M305.1 435.4h0M315.4 433.5h0M415.7 441.0h0M375.0 432.0h0M365.6 450.2h0M320.9 431.4h0M417.7 447.3h0M396.2 453.5h0M366.7 444.7h0M440.9 435.4h0M349.6 434.6h0M388.8 470.8h0M442.1 440.9h0M334.2 462.7h0M307.7 431.6h0M399.1 440.6h0M338.0 473.1h0M345.3 465.1h0M322.9 453.5h0M387.9 471.2h0M354.8 474.5h0M402.0 481.8h0M414.3 447.4h0M434.1 428.7h0M428.4 446.2h0M322.0 442.5h0M417.2 440.6h0M298.0 447.9h0M442.1 436.1h0M326.0 466.0h0M411.5 441.1h0M326.5 435.6h0M361.7 447.3h0M390.9 466.5h0M387.1 447.0h0M385.1 451.2h0M377.7 431.4h0M429.4 439.5h0M407.6 445.4h0M376.7 434.5h0M429.4 456.2h0M394.8 476.0h0M357.0 473.8h0M293.4 433.4h0M412.1 472.0h0M355.3 440.1h0M332.8 465.1h0M380.5 481.0h0M373.0 438.2h0M336.9 446.8h0M372.7 457.7h0M389.1 462.4h0M372.8 476.5h0M406.8 457.3h0M333.7 447.4h0M320.3 448.8h0M403.8 454.0h0M422.2 462.5h0M380.9 454.4h0M352.0 438.8h0M385.4 479.9h0M401.3 474.1h0M343.4 466.6h0M373.2 467.0h0M283.5 440.9h0M305.8 455.5h0M356.1 438.9h0M307.3 441.6h0M405.9 459.7h0M433.8 452.2h0M317.9 456.0h0M320.9 438.8h0M429.7 462.2h0M413.8 469.4h0M398.8 456.2h0M377.5 452.2h0M408.1 476.1h0M407.2 454.5h0M383.8 470.6h0M405.5 458.0h0M430.3 453.8h0M417.2 449.9h0M399.8 435.0h0M397.1 441.7h0M391.9 444.8h0M419.5 450.4h0M391.9 453.0h0M412.5 451.6h0M424.1 467.4h0M385.9 460.7h0M392.5 445.9h0M387.7 452.1h0M422.5 450.9h0M377.9 456.6h0M409.7 475.6h0M398.2 459.6h0M406.0 477.0h0M415.6 457.7h0M385.8 463.1h0M424.6 469.3h0M374.2 446.6h0M403.5 436.8h0M425.2 444.8h0M381.5 445.1h0M374.9 474.6h0M389.0 435.4h0M360.7 438.0h0M413.5 444.5h0M427.9 439.3h0M385.7 452.9h0M393.9 459.6h0M405.5 439.9h0M388.2 453.8h0M363.8 437.4h0M395.7 461.3h0M399.0 467.5h0M394.8 454.8h0M391.5 451.0h0M393.5 464.6h0M419.4 460.6h0M367.5 440.5h0M401.3 442.9h0M388.6 470.3h0M438.9 436.2h0M379.4 454.9h0M428.7 445.6h0M375.6 434.7h0M396.6 451.7h0M388.6 465.5h0M435.6 436.2h0M400.8 471.4h0M420.1 448.9h0M397.2 440.5h0M374.6 444.0h0M418.4 475.4h0M424.7 455.5h0M397.8 468.2h0M397.3 445.1h0M362.3 438.9h0M382.3 462.4h0M379.6 442.1h0M400.7 433.7h0M373.5 456.4h0M382.6 444.7h0M395.4 460.4h0M391.8 457.5h0M416.5 462.1h0M413.3 435.7h0M432.3 458.7h0M429.3 433.7h0M413.6 440.0h0M427.1 466.1h0M438.3 443.7h0M385.9 454.2h0M387.7 448.6h0M370.2 446.2h0M429.5 450.5h0M387.4 445.2h0M428.9 464.5h0M363.7 438.2h0M440.9 436.1h0M398.3 458.3h0M384.1 444.7h0M373.6 440.6h0M381.4 465.0h0M419.7 444.2h0M383.6 439.3h0M373.7 451.2h0M361.6 438.6h0M423.5 474.0h0M388.9 469.5h0M369.2 468.3h0M439.7 435.4h0M421.0 434.2h0M367.6 445.3h0M426.0 450.3h0M412.9 436.1h0M371.0 444.1h0M392.6 457.4h0M360.6 490.9h0M377.5 492.2h0M411.9 494.3h0M321.8 473.6h0M357.4 480.2h0M419.3 493.4h0M359.1 478.7h0M329.7 488.5h0M357.1 478.4h0M339.4 490.2h0M412.5 487.6h0M413.1 496.2h0M309.7 474.5h0M382.7 483.6h0M381.2 481.9h0M382.9 501.7h0M328.4 475.3h0M372.1 499.1h0M322.6 480.2h0M377.8 487.6h0M360.5 484.0h0M386.8 491.0h0M416.1 479.4h0M349.7 477.8h0M363.5 491.1h0M372.1 494.9h0M393.3 481.8h0M310.7 477.5h0M374.6 495.3h0M328.6 477.6h0M420.4 478.7h0M370.8 482.2h0M405.4 500.9h0M408.2 490.6h0M415.3 496.8h0M386.3 499.9h0M355.8 488.6h0M393.1 482.1h0M367.4 482.7h0M331.9 489.5h0M352.4 486.4h0M310.1 467.4h0M392.1 501.2h0M320.6 473.0h0M389.1 480.9h0M353.3 497.4h0M324.9 487.8h0M381.9 486.8h0M330.1 490.7h0M308.4 470.0h0M387.8 483.1h0M310.9 472.1h0M390.0 499.4h0M411.1 498.9h0M326.0 480.3h0M343.8 517.5h0M359.2 514.1h0M363.3 523.5h0M349.7 523.8h0M397.8 517.7h0M384.4 519.0h0M327.6 514.3h0M329.3 519.4h0M413.5 512.6h0M408.7 521.5h0M326.3 522.9h0M328.0 515.4h0M318.1 509.1h0M386.4 521.6h0M321.5 513.0h0M380.2 517.5h0M324.7 519.1h0M386.8 518.6h0M416.9 511.4h0M331.9 518.0h0M401.9 517.6h0M350.6 520.7h0M383.1 522.2h0M397.2 515.7h0M341.6 520.3h0M332.4 514.5h0M375.5 513.4h0M352.4 523.4h0M353.7 514.9h0M418.8 513.0h0M408.3 521.3h0M336.2 518.0h0M336.6 521.6h0M422.6 515.6h0M342.6 515.1h0M415.0 513.5h0M409.1 517.9h0M420.5 517.3h0M412.8 515.7h0M334.6 513.3h0M366.0 517.8h0M362.2 513.6h0M339.6 516.0h0M389.4 518.2h0M312.4 511.8h0M387.8 515.7h0M342.6 517.3h0M313.3 516.0h0M418.6 513.4h0M326.5 519.0h0M379.5 513.0h0M319.8 520.8h0M357.1 521.8h0M324.8 514.5h0M340.2 512.2h0M319.7 514.7h0M383.7 517.0h0M379.5 514.7h0M383.3 513.5h0M329.0 515.6h0M361.7 513.7h0M370.8 517.0h0M318.2 512.7h0M384.1 515.9h0M390.1 514.8h0M321.2 518.8h0M328.2 517.2h0M318.1 521.2h0M357.5 512.6h0M359.4 514.4h0M396.8 517.3h0M350.1 513.1h0M348.3 523.8h0M413.2 519.6h0M380.6 513.0h0M363.9 519.3h0M367.8 515.9h0M319.4 513.5h0M325.1 513.4h0M325.3 512.8h0M329.6 519.5h0M323.3 523.2h0M326.3 513.5h0M324.6 517.4h0M333.5 519.9h0M333.4 524.6h0M328.0 519.3h0M344.2 524.4h0M317.0 512.7h0M342.9 520.4h0M322.7 517.2h0M320.1 515.7h0M330.6 524.8h0M335.7 525.1h0M314.8 469.6h0M316.5 468.0h0M333.3 507.1h0M317.8 470.0h0M330.6 510.5h0M316.7 482.3h0M332.5 505.6h0M317.7 479.2h0M337.6 508.4h0M310.4 468.7h0M315.1 472.8h0M317.7 474.8h0M314.1 474.6h0M321.0 477.4h0M323.1 483.8h0M334.1 503.4h0M326.1 498.6h0M317.8 481.7h0M321.4 477.0h0M330.5 510.5h0M319.1 485.5h0M332.9 506.6h0M330.7 495.6h0M413.3 526.7h0M350.9 524.9h0M392.9 537.1h0M380.4 534.1h0M353.3 523.4h0M388.7 526.0h0M411.1 533.8h0M411.0 539.1h0M404.5 535.9h0M405.5 531.6h0M398.8 533.7h0M412.7 537.7h0M389.6 527.5h0M408.8 531.2h0M371.3 540.8h0" fill="none" stroke="#0f9d74" stroke-width="7.8" stroke-linecap="round"/>
</g>
<path d="M108.6 446.4L125.2 445.2L141.9 444.0L158.5 442.8L175.2 441.6L191.8 440.3L208.4 439.1L225.1 437.8L241.7 436.5L258.3 435.2L275.0 433.9L291.6 432.5L308.2 431.1L324.9 429.6L341.5 428.1L358.2 426.5L374.8 424.8L391.4 423.1L408.1 421.4L424.7 419.5L441.3 417.6L458.0 415.7L474.6 413.7L491.2 411.7L507.9 409.6L507.9 422.9L491.2 424.2L474.6 425.6L458.0 427.0L441.3 428.4L424.7 429.8L408.1 431.4L391.4 432.9L374.8 434.6L358.2 436.3L341.5 438.1L324.9 439.9L308.2 441.8L291.6 443.7L275.0 445.7L258.3 447.7L241.7 449.7L225.1 451.8L208.4 453.9L191.8 456.0L175.2 458.1L158.5 460.3L141.9 462.4L125.2 464.6L108.6 466.7Z" fill="#858585" fill-opacity="0.2"/>
<path d="M108.6 456.6L507.9 416.3" stroke="#0a0a0a" stroke-width="2.2" fill="none"/>
<rect x="97.0" y="608.6" width="347.1" height="12.6" fill="#f1f1f1" stroke="#e4e4e4" stroke-width="0.8"/>
<rect x="444.1" y="608.6" width="38.2" height="12.6" fill="#f1f1f1" stroke="#e4e4e4" stroke-width="0.8"/>
<rect x="482.3" y="608.6" width="28.6" height="12.6" fill="#f1f1f1" stroke="#e4e4e4" stroke-width="0.8"/>
<rect x="510.9" y="608.6" width="11.9" height="12.6" fill="#f1f1f1" stroke="#e4e4e4" stroke-width="0.8"/>
<rect x="522.8" y="608.6" width="7.5" height="12.6" fill="#f1f1f1" stroke="#e4e4e4" stroke-width="0.8"/>
<text transform="translate(199.4 625.9) scale(0.9615 1)" font-size="22.88" text-anchor="middle" stroke="#231f20" stroke-width="0.4">Ng</text>
<text transform="translate(459.6 625.9) scale(0.9615 1)" font-size="22.88" text-anchor="middle" stroke="#231f20" stroke-width="0.4">Pg</text>
<text transform="translate(487.7 625.9) scale(0.9615 1)" font-size="22.88" text-anchor="middle" stroke="#231f20" stroke-width="0.4">K</text>
<text transform="translate(512.1 625.9) scale(0.9615 1)" font-size="22.88" text-anchor="middle" stroke="#231f20" stroke-width="0.4">J</text>
<path d="M107.3 566.3L110.2 565.6L113.6 564.5L116.4 562.6L118.8 559.8L120.8 556.4L122.5 553.3L123.2 551.6L121.8 548.9L121.0 542.7L120.8 539.0L121.8 539.7L123.2 544.8L124.2 546.8L124.9 540.7L125.9 532.3L127.2 532.3L127.4 540.7L127.6 546.2L129.0 542.7L131.1 535.5L132.4 534.9L132.8 536.2L131.4 542.7L131.1 545.1L132.8 542.4L135.5 537.3L136.9 537.3L136.5 539.0L134.8 543.1L136.2 542.4L138.3 539.3L139.5 539.4L138.6 541.7L137.6 544.1L139.3 542.4L140.9 540.3L141.8 540.7L140.6 543.4L141.7 543.1L143.0 541.9L143.7 542.7L143.0 544.4L145.8 546.2L149.2 546.8L152.3 547.2L154.0 549.6L155.4 553.0L156.4 556.4L156.7 559.8L156.4 563.9L158.8 561.2L161.5 559.0L163.6 558.6L164.6 561.2L164.4 565.3L164.8 569.4L164.4 573.5L162.5 574.9L160.1 573.5L157.4 571.5L155.4 570.2L156.4 573.5L156.7 577.6L156.0 581.7L154.3 584.1L152.3 584.5L149.9 583.1L152.6 587.2L152.5 588.6L150.6 587.5L148.5 585.1L146.5 583.1L144.4 581.7L143.4 585.1L142.4 585.5L141.3 581.0L140.3 579.0L136.2 578.6L135.2 581.0L134.7 585.1L133.8 587.5L134.1 591.0L133.5 591.6L132.6 588.2L131.1 587.2L129.4 584.5L128.0 581.0L127.2 578.0L123.9 576.6L120.5 574.9L117.7 572.8L115.0 571.5L112.3 570.1L109.5 569.4L107.5 569.1Z" fill="#000" stroke="#000" stroke-width="0.4" stroke-linejoin="round"/>
<rect x="96.2" y="350.2" width="434.9" height="288.6" fill="none" stroke="#111" stroke-width="1.7"/>
<text transform="translate(105.3 388.2) scale(0.9476 1)" font-size="35.88" text-anchor="start" stroke="#231f20" stroke-width="0.65" xml:space="preserve"><tspan font-weight="bold">C.</tspan> <tspan font-style="italic">n = 1,479</tspan></text>
</g>
<g id="panel-D">
<path d="M541.7 385.1H551.3M541.7 433.7H551.3M541.7 482.3H551.3M541.7 530.9H551.3M541.7 579.5H551.3M558.5 638.8V648.4M785.3 638.8V648.4M827.1 638.8V648.4M868.9 638.8V648.4M910.7 638.8V648.4M952.5 638.8V648.4" stroke="#111" stroke-width="1.25" fill="none"/>
<text transform="translate(558.8 683.7) scale(0.9615 1)" font-size="35.36" text-anchor="middle" stroke="#231f20" stroke-width="0.65">0</text>
<text transform="translate(781.3 683.7) scale(0.9615 1)" font-size="35.36" text-anchor="middle" stroke="#231f20" stroke-width="0.65">1</text>
<text transform="translate(819.8 683.7) scale(0.9615 1)" font-size="35.36" text-anchor="middle" stroke="#231f20" stroke-width="0.65">3</text>
<text transform="translate(858.8 683.7) scale(0.9615 1)" font-size="35.36" text-anchor="middle" stroke="#231f20" stroke-width="0.65">10</text>
<text transform="translate(904.8 683.7) scale(0.9615 1)" font-size="35.36" text-anchor="middle" stroke="#231f20" stroke-width="0.65">32</text>
<text transform="translate(960.3 683.7) scale(0.9615 1)" font-size="35.36" text-anchor="middle" stroke="#231f20" stroke-width="0.65">100</text>
<clipPath id="clipD"><rect x="551.3" y="350.2" width="434.9" height="288.6"/></clipPath>
<g clip-path="url(#clipD)">
<path d="M727.5 413.7L723.6 415.9L719.8 418.1L715.9 420.3L712.4 422.3L710.1 424.1L708.4 426.0L707.2 427.9L706.5 430.1L706.1 432.5L706.1 435.2L706.5 438.0L707.4 441.1L708.6 444.0L710.2 446.6L712.0 449.0L714.5 451.4L714.9 451.9L717.3 454.8L717.7 455.4L719.6 458.5L720.0 459.1L721.5 462.3L721.8 463.1L722.7 465.7L723.9 467.6L725.5 469.5L727.9 471.4L731.4 473.4L731.5 473.4L735.5 475.8L735.6 475.9L739.8 478.5L739.9 478.5L744.3 481.3L744.4 481.4L748.9 484.4L749.2 484.6L753.3 487.7L753.7 487.9L757.3 491.1L757.7 491.4L760.9 494.7L761.2 495.1L764.0 498.4L764.4 498.9L766.7 502.4L767.1 502.9L769.0 506.5L769.3 507.1L770.8 510.9L771.1 511.5L772.1 515.3L773.3 518.7L774.6 522.0L776.0 525.2L777.4 528.2L779.1 530.9L781.0 533.5L783.2 536.0L785.5 538.4L788.1 540.4L791.1 542.2L794.5 543.9L798.3 545.3L802.1 546.3L806.1 546.7L810.2 546.7L814.6 546.2L819.1 545.5L823.4 544.4L827.6 543.2L831.6 541.7L835.3 540.0L838.7 538.0L841.8 535.8L844.7 533.4L847.0 531.1L848.7 529.0L849.9 527.0L850.6 525.3L850.9 523.6L850.9 521.7L850.5 519.6L849.6 516.7L849.4 516.0L849.3 515.3L849.2 514.7L849.2 511.6L849.3 511.0L849.4 510.4L849.5 509.8L849.7 509.2L850.8 506.5L851.0 506.0L851.3 505.5L851.6 505.0L852.0 504.6L854.2 502.1L854.6 501.7L855.0 501.4L855.4 501.0L858.7 498.8L858.9 498.7L862.5 496.5L862.7 496.4L866.6 494.2L866.7 494.1L870.9 491.9L871.0 491.8L875.3 489.7L879.0 487.5L882.4 485.0L885.6 482.3L888.7 479.2L891.9 475.8L895.2 472.3L898.4 468.7L901.6 464.9L904.6 461.3L907.2 457.9L909.6 454.6L911.7 451.4L913.6 448.5L915.2 445.7L916.5 443.2L917.7 440.8L917.8 440.5L919.3 437.8L919.4 437.6L921.1 434.7L921.2 434.5L923.2 431.4L923.3 431.2L925.5 427.9L925.5 427.9L927.7 424.7L927.7 424.6L929.8 421.6L929.8 421.5L931.9 418.6L931.9 418.6L933.6 416.2L934.3 414.8L934.5 414.1L934.5 414.0L934.3 413.8L933.8 413.0L932.5 412.0L930.5 410.8L927.7 409.4L924.6 408.2L921.4 407.2L918.0 406.3L914.3 405.6L914.1 405.5L909.9 404.5L909.7 404.5L905.2 403.3L905.0 403.2L900.1 401.8L900.0 401.7L895.1 400.2L890.5 399.2L885.8 398.7L881.0 398.7L875.8 399.2L875.5 399.3L870.0 399.6L869.8 399.6L864.3 399.8L864.0 399.8L858.5 399.8L858.3 399.8L852.7 399.5L852.7 399.5L847.2 399.3L847.1 399.3L841.6 399.0L841.6 399.0L836.0 398.7L836.0 398.7L830.5 398.4L824.7 398.1L818.7 397.8L812.4 397.6L805.9 397.3L800.2 397.4L795.1 397.9L790.6 398.5L786.5 399.6L786.3 399.6L781.6 400.7L781.4 400.7L776.4 401.6L776.3 401.7L771.0 402.5L770.9 402.5L765.4 403.3L760.0 404.1L754.5 405.1L749.1 406.1L743.8 407.1L739.1 408.4L734.9 409.9L731.1 411.6Z" fill="#5bb3e4"/>
<path d="M794.1 403.0h0M875.4 491.8h0M817.1 549.0h0M827.7 399.7h0M932.5 436.4h0M829.4 542.1h0M897.0 397.9h0M870.3 399.8h0M750.3 400.3h0M734.6 407.7h0M768.1 530.8h0M930.1 412.0h0M760.1 403.0h0M722.4 463.4h0M882.5 478.9h0M820.5 541.1h0M706.0 442.7h0M885.0 486.8h0M708.8 447.4h0M897.2 397.1h0M794.0 403.0h0M729.1 476.8h0M812.0 398.9h0M847.0 401.8h0M792.9 538.5h0M822.1 540.6h0M748.2 480.8h0M709.9 444.3h0M725.1 495.2h0M736.0 408.5h0M794.5 541.3h0M727.3 403.8h0M744.2 408.7h0M749.2 404.1h0M770.8 402.2h0M766.5 515.0h0M705.8 437.4h0M714.8 418.2h0M766.6 401.0h0M714.2 444.0h0M754.1 401.3h0M778.5 533.4h0M733.0 406.0h0M749.0 402.8h0M864.2 503.4h0M896.4 401.4h0M925.3 437.0h0M845.6 524.4h0M895.5 400.7h0M912.3 455.3h0M780.3 550.1h0M920.6 453.1h0M846.7 529.2h0M872.4 492.9h0M763.5 492.3h0M839.2 539.7h0M795.5 547.3h0M892.1 470.0h0M832.9 549.9h0M785.8 402.3h0M721.0 465.2h0M783.6 540.6h0M774.2 513.9h0M761.0 492.6h0M739.3 480.6h0M865.7 494.3h0M779.8 397.9h0M700.8 421.2h0M908.6 456.2h0M714.7 445.9h0M917.9 441.5h0M722.2 454.7h0M717.6 460.0h0M918.6 432.9h0M815.9 546.8h0M917.6 443.6h0M776.3 402.5h0M720.8 462.4h0M866.3 491.5h0M763.0 496.3h0M781.7 525.7h0M717.2 460.8h0M761.2 492.8h0M715.8 451.8h0M846.0 403.0h0M743.9 480.8h0M800.7 550.6h0M767.2 497.6h0M766.8 401.0h0M910.1 447.4h0M828.3 395.6h0M926.4 407.1h0M811.5 543.1h0M783.4 532.8h0M781.7 404.5h0M794.1 401.8h0M849.6 522.8h0M787.4 534.1h0M770.0 504.5h0M769.3 520.4h0M779.2 539.8h0M769.0 405.1h0M759.0 491.0h0M922.5 431.3h0M711.9 424.7h0M829.9 398.7h0M772.6 522.5h0M756.8 490.6h0M770.9 515.5h0M866.1 400.7h0M741.9 489.7h0M938.8 415.9h0M914.3 453.6h0M917.1 448.2h0M752.6 408.9h0M829.2 397.4h0M819.6 549.4h0M762.5 491.8h0M854.6 499.0h0M906.9 407.4h0M785.5 537.4h0M846.0 535.5h0M810.5 546.4h0M903.4 464.9h0M726.8 415.8h0M773.3 526.3h0M762.3 497.4h0M829.1 537.4h0M846.4 400.6h0M863.4 527.2h0M868.8 398.3h0M690.8 446.0h0M726.6 472.6h0M919.9 405.7h0M794.7 546.9h0M831.6 541.4h0M898.1 398.5h0M717.0 416.8h0M846.6 504.2h0M823.1 399.5h0M846.0 506.9h0M878.8 403.4h0M804.9 556.4h0M719.7 469.1h0M755.2 505.2h0M721.9 464.8h0M722.5 470.3h0M849.7 510.5h0M870.5 402.3h0M829.3 544.2h0M785.4 539.2h0M706.3 448.0h0M716.0 418.7h0M761.0 488.3h0M925.4 434.1h0M895.7 400.8h0M849.6 401.8h0M782.4 547.7h0M797.6 541.2h0M900.3 465.2h0M866.2 505.8h0M836.1 536.8h0M709.6 420.8h0M816.3 398.1h0M915.6 455.0h0M891.5 403.4h0M920.1 453.9h0M743.6 403.2h0M738.8 505.5h0M784.9 531.5h0M734.6 411.9h0M740.0 480.4h0M813.9 545.5h0M881.2 400.7h0M731.3 476.7h0M847.1 528.1h0M795.4 393.4h0M721.5 470.7h0M926.1 412.1h0M890.6 478.2h0M832.6 552.3h0M750.4 487.4h0M935.7 428.6h0M801.0 401.3h0M722.2 414.6h0M802.2 545.5h0M884.8 400.3h0M925.8 410.6h0M751.9 409.2h0M831.4 539.2h0M718.3 458.0h0M831.6 398.1h0M930.5 417.8h0M706.0 439.3h0M778.1 528.1h0M859.3 499.7h0M880.7 481.0h0M725.7 463.4h0M829.0 398.8h0M789.0 402.8h0M856.8 498.0h0M721.4 453.7h0M932.3 424.2h0M762.1 526.6h0M913.0 442.0h0M846.7 511.6h0M705.0 434.1h0M715.1 446.1h0M772.4 511.9h0M775.7 533.7h0M777.5 521.8h0M887.2 476.8h0M774.9 526.3h0M775.3 510.2h0M777.2 402.9h0M749.7 480.4h0M790.0 396.1h0M774.7 507.9h0M715.2 448.1h0M688.6 453.8h0M926.6 428.2h0M752.3 407.4h0M849.8 524.2h0M792.3 399.7h0M766.4 524.0h0M898.6 466.8h0M907.6 402.1h0M886.8 483.0h0M928.3 413.4h0M764.9 492.0h0M771.0 518.9h0M766.8 517.6h0M834.5 556.8h0M906.8 460.2h0M848.8 400.8h0M805.2 556.2h0M907.9 457.5h0M722.5 466.4h0M795.6 400.6h0M754.0 503.2h0M772.8 508.6h0M913.6 452.0h0M821.1 540.3h0M833.6 540.0h0M762.9 407.7h0M719.8 455.4h0M886.2 482.6h0M718.0 423.7h0M785.1 400.2h0M770.2 511.3h0M842.1 539.2h0M742.9 475.8h0M736.5 475.1h0M732.6 478.5h0M796.9 539.9h0M847.7 516.5h0M851.1 540.8h0M860.7 525.4h0M735.4 411.4h0M881.9 403.3h0M730.6 409.6h0M763.0 507.7h0M721.6 463.6h0M909.5 449.6h0M759.5 402.0h0M731.7 415.6h0M724.2 415.7h0M811.0 398.2h0M756.1 516.2h0M933.7 420.4h0M889.5 401.3h0M902.5 461.1h0M832.2 400.7h0M866.2 399.4h0M861.7 501.0h0M738.4 476.1h0M821.4 542.2h0M898.8 498.7h0M854.3 530.4h0M795.7 401.1h0M921.2 453.6h0M708.2 442.6h0M827.5 401.0h0M758.1 408.7h0M760.9 495.0h0M835.2 536.6h0M850.5 511.2h0M820.4 544.3h0M825.9 539.4h0M906.4 404.5h0M885.3 479.0h0M789.8 538.5h0M733.7 475.8h0M912.3 452.9h0M698.2 426.4h0M890.6 398.9h0M934.6 421.2h0M773.3 517.2h0M924.6 401.0h0M910.4 451.4h0M915.2 439.3h0M839.1 403.1h0M890.1 396.3h0M927.6 404.4h0M762.7 524.3h0M902.3 406.3h0M783.7 533.6h0M918.5 411.1h0M891.1 473.1h0M859.3 494.5h0M861.4 498.5h0M771.2 397.3h0M741.2 481.7h0M800.8 546.7h0M844.2 542.3h0M789.4 544.8h0M746.3 406.2h0M850.8 521.0h0M717.5 415.3h0M906.7 406.7h0M703.5 413.0h0M715.1 424.5h0M835.7 403.2h0M715.4 420.2h0M778.6 399.4h0M897.2 464.8h0M856.6 529.0h0M704.6 430.8h0M732.8 478.0h0M929.2 407.5h0M720.4 418.5h0M888.6 403.2h0M871.4 489.1h0M802.7 546.5h0M829.5 539.1h0M781.4 526.5h0M899.8 470.5h0M730.8 481.2h0M794.2 544.0h0M759.0 492.1h0M768.2 504.0h0M851.9 503.7h0M929.0 426.1h0M742.8 475.6h0M713.2 421.9h0M815.9 400.3h0M885.7 507.9h0M780.2 402.4h0M744.3 476.5h0M783.2 537.6h0M797.2 555.4h0M852.7 534.1h0M876.3 398.8h0M717.1 417.6h0M919.6 430.4h0M766.6 506.5h0M728.9 466.7h0M909.0 452.1h0M764.2 518.0h0M788.7 543.1h0M922.2 408.7h0M882.3 483.5h0M802.6 547.0h0M852.9 521.2h0M877.2 402.6h0M705.7 428.8h0M874.6 489.4h0M714.2 452.0h0M723.8 420.4h0M880.2 480.6h0M935.9 418.4h0M875.9 486.3h0M931.5 413.8h0M728.2 466.5h0M751.1 490.2h0M776.3 406.1h0M919.6 439.9h0M900.5 462.0h0M847.7 535.0h0M819.1 546.7h0M755.4 491.4h0M724.9 470.1h0M809.4 544.2h0M744.3 483.4h0M896.3 403.9h0M775.5 525.4h0M876.4 398.4h0M925.2 424.4h0M722.3 413.9h0M916.0 449.1h0M714.8 455.2h0M853.7 514.8h0M761.0 407.4h0M784.8 540.1h0M757.8 404.5h0M698.4 424.4h0M870.1 399.9h0M765.8 402.0h0M689.8 422.6h0M812.1 399.3h0M764.7 516.9h0M757.3 408.8h0M743.7 484.7h0M813.7 548.1h0M884.6 401.2h0M866.5 489.9h0M921.7 407.5h0M706.8 424.7h0M741.5 479.5h0M847.0 515.7h0M712.6 448.1h0M857.3 497.3h0M749.6 484.2h0M751.7 488.0h0M873.3 400.4h0M713.1 456.1h0M905.2 459.8h0M902.5 471.4h0M916.8 409.2h0M776.2 529.0h0M800.9 542.3h0M706.2 414.9h0M931.0 415.1h0M750.8 486.7h0M903.2 404.5h0M722.6 414.4h0M866.3 494.7h0M838.5 538.8h0M853.0 404.0h0M776.5 398.6h0M782.4 535.7h0M721.2 458.5h0M711.8 445.0h0M740.6 406.9h0M849.8 515.4h0M759.5 494.7h0M934.6 420.5h0M796.6 395.6h0M829.2 541.0h0M786.3 396.2h0M739.3 407.5h0M827.2 395.8h0M710.2 424.0h0M773.1 543.0h0M825.3 541.4h0M878.0 484.6h0M917.1 433.4h0M755.3 407.5h0M883.4 402.6h0M876.1 402.9h0M751.8 496.9h0M704.9 424.9h0M883.8 484.0h0M789.6 535.3h0M914.7 438.5h0M886.9 474.0h0M898.6 406.0h0M767.5 511.3h0M846.2 531.5h0M771.5 502.6h0M873.7 495.7h0M918.6 404.7h0M754.5 482.6h0M748.6 404.6h0M817.3 401.9h0M763.2 402.8h0M759.4 404.1h0M918.8 434.7h0M703.6 433.9h0M826.0 401.5h0M812.2 567.9h0M921.1 411.3h0M786.9 548.9h0M771.0 522.1h0M705.2 426.6h0M839.3 541.0h0M719.7 457.7h0M826.8 402.4h0M930.1 410.0h0M887.4 475.9h0M887.0 398.8h0M859.9 499.8h0M720.3 456.9h0M710.5 465.1h0M840.3 534.3h0M799.9 540.6h0M704.4 440.0h0M903.6 458.6h0M907.4 451.3h0M714.8 448.5h0M845.4 543.7h0M883.4 493.7h0M923.2 431.7h0M734.9 470.7h0M707.3 425.4h0M820.6 547.1h0M921.2 446.6h0M847.4 504.9h0M746.0 408.9h0M744.7 483.5h0M787.8 539.2h0M739.8 409.5h0M878.6 497.1h0M756.7 408.9h0M729.7 492.3h0M914.9 446.8h0M725.2 458.9h0M766.4 537.1h0M929.1 421.7h0M868.6 493.9h0M767.1 501.5h0M790.6 399.5h0M807.1 543.5h0M779.2 533.5h0M734.4 405.9h0M780.1 405.7h0M793.4 542.1h0M892.0 474.5h0M772.5 502.5h0M730.0 471.7h0M876.6 398.1h0M753.4 482.0h0M886.5 398.1h0M739.1 473.5h0M759.0 402.7h0M752.9 482.4h0M759.3 493.6h0M850.5 512.2h0M812.4 554.1h0M923.7 412.5h0M736.0 471.9h0M900.3 473.7h0M836.0 543.1h0M844.9 398.0h0M866.5 496.1h0M879.0 398.2h0M804.0 550.2h0M707.0 439.0h0M757.9 406.4h0M741.9 476.3h0M706.8 435.4h0M844.9 568.1h0M809.7 543.1h0M938.2 455.2h0M757.8 501.2h0M812.0 399.1h0M726.2 472.6h0M759.8 407.3h0M898.6 403.5h0M808.9 549.6h0M833.3 541.6h0M850.8 511.6h0M706.8 445.5h0M737.3 411.3h0M722.7 416.0h0M733.6 473.4h0M713.4 419.9h0M865.8 400.2h0M707.7 454.6h0M725.5 483.0h0M760.5 491.3h0M926.9 437.3h0M893.5 470.4h0M849.9 518.4h0M704.7 443.4h0M904.3 460.5h0M883.4 488.9h0M830.9 540.4h0M820.7 397.8h0M862.0 506.4h0M812.5 546.3h0M783.4 535.5h0M775.2 522.5h0M847.6 528.0h0M858.1 528.5h0M879.4 402.2h0M877.2 483.5h0M905.3 453.7h0M913.4 446.1h0M732.1 474.7h0M767.8 515.7h0M923.2 436.5h0M847.6 514.4h0M854.6 512.4h0M932.2 411.1h0M712.4 417.7h0M748.8 490.0h0M842.2 531.3h0M800.2 395.7h0M845.3 397.9h0M860.3 492.6h0M759.1 406.2h0M889.0 484.4h0M775.3 524.0h0M718.5 420.9h0M807.7 400.2h0M840.3 399.2h0M919.7 435.7h0M757.9 497.2h0M710.8 431.2h0M824.7 400.2h0M775.7 516.4h0M785.2 403.0h0M778.6 524.3h0M769.4 502.5h0M927.0 442.3h0M732.8 475.7h0M736.7 409.0h0M729.6 487.0h0M814.8 542.4h0M744.5 480.5h0M780.2 530.5h0M849.2 519.9h0M719.4 414.1h0M871.4 400.7h0M891.8 402.5h0M885.4 482.0h0M775.2 520.5h0M801.4 545.9h0M875.8 488.0h0M794.1 542.7h0M703.2 414.8h0M800.9 399.0h0M929.3 418.3h0M865.6 496.7h0M739.4 477.5h0M815.3 548.2h0M763.7 402.6h0M921.6 406.3h0M760.4 499.6h0M851.4 508.5h0M847.3 503.8h0M891.6 475.8h0M905.2 455.8h0M929.7 418.8h0M895.3 470.2h0M843.2 401.0h0M771.5 518.0h0M843.1 531.4h0M763.2 493.3h0M836.5 546.2h0M785.6 547.8h0M862.0 492.7h0M805.0 544.8h0M902.1 461.4h0M743.9 409.7h0M787.3 539.1h0M930.2 410.1h0M739.1 488.4h0M898.3 466.2h0M768.6 529.8h0M846.2 521.9h0M750.9 506.7h0M735.0 473.6h0M778.2 547.2h0M932.6 410.9h0M929.1 429.7h0M769.6 500.1h0M828.1 397.1h0M822.4 551.5h0M706.0 444.4h0M720.8 466.9h0M900.9 462.1h0M806.6 395.9h0M755.9 405.4h0M906.3 472.0h0M717.8 461.2h0M824.5 395.7h0M745.4 405.6h0M897.1 468.1h0M718.9 419.4h0M776.2 521.5h0M776.9 404.4h0M858.0 504.5h0M777.7 529.2h0M916.6 434.3h0M845.0 510.1h0M770.9 403.8h0M907.8 407.1h0M777.7 535.2h0M908.5 399.8h0M707.0 413.0h0M806.4 399.2h0M801.8 547.8h0M801.8 545.7h0M757.0 408.7h0M901.0 468.0h0M855.5 504.0h0M845.1 527.8h0M877.3 484.9h0M733.3 470.8h0M779.9 403.7h0M801.9 392.2h0M759.1 405.9h0M768.8 402.7h0M719.2 417.4h0M719.7 457.6h0M794.5 553.2h0M920.6 452.7h0M816.7 541.9h0M798.7 401.0h0M864.8 397.6h0M897.0 465.6h0M729.7 409.6h0M901.7 461.9h0M933.6 445.7h0M874.8 506.5h0M833.8 539.1h0M715.1 445.5h0M875.9 491.2h0M927.4 419.9h0M873.7 489.3h0M854.0 518.0h0M708.1 469.4h0M807.4 399.4h0M919.1 440.3h0M784.7 535.9h0M704.3 437.4h0M768.0 504.5h0M851.0 402.5h0M736.9 473.4h0M865.9 508.4h0M885.5 485.5h0M867.5 402.0h0M907.7 403.3h0M775.2 405.1h0M917.8 432.8h0M743.2 407.4h0M738.5 408.5h0M910.1 449.2h0M824.6 543.1h0M868.0 398.9h0M843.1 400.7h0M717.4 449.3h0M919.3 411.1h0M757.5 404.7h0M921.3 442.1h0M869.2 398.5h0M851.1 516.4h0M905.9 456.2h0M789.0 397.8h0M804.3 395.6h0M836.4 402.6h0M845.8 529.9h0M776.1 399.7h0M885.7 479.0h0M931.9 413.5h0M815.1 544.6h0M871.6 402.8h0M855.0 506.5h0M782.5 529.2h0M927.9 409.6h0M698.9 427.4h0M884.5 494.0h0M845.9 524.7h0M896.8 398.8h0M834.4 539.2h0M725.7 413.7h0M818.3 540.9h0M848.3 513.1h0M728.1 414.8h0M713.6 447.9h0M854.9 397.6h0M771.2 506.5h0M915.2 402.5h0M761.8 509.4h0M751.0 405.0h0M834.4 398.5h0M751.8 485.1h0M891.9 484.8h0M873.7 495.6h0M795.4 398.6h0M757.2 491.7h0M721.2 464.3h0M892.1 475.0h0M812.8 547.9h0M692.7 424.0h0M870.2 490.8h0M707.1 451.2h0M767.7 521.0h0M948.6 436.4h0M714.9 451.9h0M815.1 548.6h0M729.2 471.8h0M901.3 405.9h0M803.3 545.4h0M935.1 439.9h0M777.5 524.6h0M922.4 434.2h0M735.5 485.6h0M914.6 440.4h0M806.7 402.0h0M834.8 403.1h0M893.3 396.6h0M757.7 406.5h0M735.5 410.2h0M757.0 402.1h0M875.8 496.9h0M777.7 523.3h0M703.2 445.8h0M766.4 402.7h0M882.8 485.9h0M763.5 502.4h0M737.7 408.2h0M738.6 473.9h0M874.2 487.3h0M743.1 484.1h0M844.1 541.1h0M743.5 484.8h0M758.0 490.2h0M707.3 428.5h0M924.0 426.5h0M875.9 398.2h0M730.3 412.6h0M842.4 403.4h0M890.1 397.1h0M918.2 431.5h0M923.3 408.3h0M720.5 400.1h0M768.8 516.7h0M841.0 534.3h0M722.4 469.2h0M843.6 530.1h0M811.1 400.6h0M761.1 492.1h0M790.3 546.1h0M714.5 447.4h0M921.4 427.2h0M754.8 484.2h0M846.2 398.3h0M873.2 487.3h0M801.4 544.0h0M785.5 404.2h0M794.9 400.2h0M877.5 401.6h0M856.2 398.5h0M783.6 537.1h0M743.5 411.1h0M930.4 417.3h0M711.2 431.0h0M849.4 521.2h0M760.4 408.2h0M911.8 449.7h0M847.1 529.7h0M723.8 420.1h0M847.2 400.3h0M850.8 516.6h0M778.8 406.0h0M800.0 399.4h0M825.0 570.6h0M917.2 436.6h0M911.7 455.4h0M841.8 400.9h0M877.0 486.3h0M760.3 487.8h0M877.3 493.4h0M771.5 511.2h0M800.5 545.6h0M861.2 403.9h0M732.8 409.3h0M761.1 402.8h0M890.4 479.5h0M890.5 479.7h0M829.6 540.9h0M829.5 401.2h0M699.1 435.7h0M849.4 528.8h0M934.1 413.1h0M709.1 445.9h0M868.2 488.2h0M734.4 406.5h0M728.4 475.8h0M755.0 402.5h0M738.7 480.5h0M841.3 531.1h0M881.9 484.9h0M863.5 397.6h0M706.9 449.6h0M856.5 541.7h0M894.4 487.5h0M837.7 538.8h0M897.1 473.9h0M765.1 505.6h0M883.9 397.7h0M727.7 409.9h0M844.5 403.2h0M840.2 530.8h0M820.9 543.8h0M817.5 396.7h0M812.1 548.2h0M832.7 538.0h0M714.2 448.9h0M768.3 403.1h0M743.0 477.6h0M895.4 465.1h0M761.3 496.6h0M913.0 456.8h0M816.4 397.2h0M723.2 464.2h0M934.0 439.5h0M727.2 469.5h0M806.4 552.1h0M875.1 492.0h0M865.9 404.1h0M842.0 537.1h0M771.5 504.7h0M932.3 419.5h0M925.3 437.2h0M808.3 397.6h0M719.2 459.1h0M908.6 408.9h0M710.4 445.7h0M845.8 515.3h0M921.2 439.6h0M866.7 491.8h0M834.0 401.2h0M703.7 420.8h0M871.6 396.9h0M928.2 442.9h0M812.4 401.1h0M694.6 432.6h0M907.6 478.3h0M854.7 499.1h0M838.1 535.6h0M927.6 421.5h0M648.6 411.9h0M648.6 422.0h0M668.5 394.6h0M668.5 406.5h0M689.3 411.0h0M696.0 414.1h0M707.5 399.0h0M708.4 407.4h0M675.2 454.4h0M652.1 465.0h0M688.4 453.9h0M690.6 428.7h0M686.2 439.7h0M675.2 485.3h0M696.4 476.5h0M712.8 546.9h0M723.8 515.0h0M726.1 503.9h0M716.3 481.8h0M734.9 503.9h0M746.0 506.1h0M741.6 539.3h0M748.2 530.5h0M756.2 530.5h0M746.0 550.4h0M757.0 560.6h0M756.2 574.8h0M768.1 552.6h0M769.0 561.5h0M779.2 563.7h0M788.0 557.0h0M796.0 574.8h0M802.2 563.7h0M807.1 579.2h0M812.4 572.5h0M823.4 580.5h0M817.7 569.4h0M831.0 563.7h0M839.8 565.0h0M854.4 562.4h0M875.2 565.0h0M916.4 554.8h0M923.0 537.1h0M914.2 530.5h0M887.6 530.5h0M894.3 526.1h0M921.7 503.9h0M905.3 503.9h0M898.7 506.1h0M889.8 512.8h0M881.0 510.6h0M875.2 508.4h0M937.2 449.9h0M944.3 439.7h0M944.3 430.9h0M943.0 413.2h0M937.2 404.3h0M931.9 402.1h0M914.2 393.3h0M889.8 390.2h0M883.2 393.3h0M847.8 389.7h0M757.0 393.3h0M919.9 455.2h0M923.0 444.2h0M912.0 468.5h0M918.6 468.5h0M907.6 475.2h0M903.1 488.4h0" fill="none" stroke="#5bb3e4" stroke-width="7.8" stroke-linecap="round"/>
</g>
<path d="M648.6 459.7L660.9 458.3L673.2 457.0L685.6 455.6L697.9 454.2L710.2 452.8L722.5 451.4L734.8 450.0L747.2 448.6L759.5 447.1L771.8 445.6L784.1 444.1L796.4 442.6L808.8 441.0L821.1 439.3L833.4 437.7L845.7 435.9L858.0 434.2L870.4 432.4L882.7 430.6L895.0 428.7L907.3 426.8L919.7 425.0L932.0 423.1L944.3 421.2L944.3 430.0L932.0 431.4L919.7 432.8L907.3 434.2L895.0 435.6L882.7 437.0L870.4 438.5L858.0 440.0L845.7 441.5L833.4 443.1L821.1 444.7L808.8 446.3L796.4 448.0L784.1 449.7L771.8 451.5L759.5 453.3L747.2 455.1L734.8 457.0L722.5 458.8L710.2 460.7L697.9 462.6L685.6 464.5L673.2 466.4L660.9 468.4L648.6 470.3Z" fill="#858585" fill-opacity="0.2"/>
<path d="M648.6 465.0L944.3 425.6" stroke="#0a0a0a" stroke-width="2.2" fill="none"/>
<rect x="552.1" y="608.6" width="347.1" height="12.6" fill="#f1f1f1" stroke="#e4e4e4" stroke-width="0.8"/>
<rect x="899.2" y="608.6" width="38.2" height="12.6" fill="#f1f1f1" stroke="#e4e4e4" stroke-width="0.8"/>
<rect x="937.4" y="608.6" width="28.6" height="12.6" fill="#f1f1f1" stroke="#e4e4e4" stroke-width="0.8"/>
<rect x="966.0" y="608.6" width="11.9" height="12.6" fill="#f1f1f1" stroke="#e4e4e4" stroke-width="0.8"/>
<rect x="977.9" y="608.6" width="7.5" height="12.6" fill="#f1f1f1" stroke="#e4e4e4" stroke-width="0.8"/>
<text transform="translate(663.5 627.9) scale(0.9615 1)" font-size="22.88" text-anchor="middle" stroke="#231f20" stroke-width="0.4">Ng</text>
<text transform="translate(923.7 627.9) scale(0.9615 1)" font-size="22.88" text-anchor="middle" stroke="#231f20" stroke-width="0.4">Pg</text>
<text transform="translate(951.8 627.9) scale(0.9615 1)" font-size="22.88" text-anchor="middle" stroke="#231f20" stroke-width="0.4">K</text>
<text transform="translate(976.2 627.9) scale(0.9615 1)" font-size="22.88" text-anchor="middle" stroke="#231f20" stroke-width="0.4">J</text>
<path d="M577.1 537.4L579.2 536.8L582.3 536.9L583.5 535.5L585.6 534.0L588.6 533.3L591.6 533.9L594.3 535.7L596.1 538.3L597.0 541.0L598.0 542.8L600.4 545.2L602.8 548.2L605.2 551.8L607.6 555.8L610.0 559.7L612.1 563.0L613.0 565.1L612.9 566.9L614.2 568.7L617.3 571.8L620.9 574.8L624.4 577.5L623.8 578.7L620.3 576.9L616.1 574.5L611.8 571.8L608.2 569.6L605.2 568.3L602.2 567.8L599.2 568.1L598.6 570.2L597.3 572.7L596.4 574.8L598.6 575.4L601.6 574.5L601.7 575.2L599.2 576.3L600.4 576.6L600.1 577.2L597.3 576.6L594.3 577.2L592.5 578.7L590.1 579.0L588.6 579.6L588.3 579.0L590.1 578.1L586.5 578.0L586.4 577.2L589.5 576.8L588.9 575.7L591.9 574.5L592.5 575.7L594.6 574.5L595.8 571.5L596.9 568.1L594.3 567.8L591.3 566.6L588.3 564.2L585.6 560.9L583.8 557.6L582.7 554.0L582.3 550.3L582.6 546.7L583.5 543.1L583.2 540.4L582.3 538.9L579.8 538.3L577.7 537.8Z" fill="#000" stroke="#000" stroke-width="0.4" stroke-linejoin="round"/>
<rect x="551.3" y="350.2" width="434.9" height="288.6" fill="none" stroke="#111" stroke-width="1.7"/>
<text transform="translate(558.0 388.4) scale(0.9476 1)" font-size="35.88" text-anchor="start" stroke="#231f20" stroke-width="0.65" xml:space="preserve"><tspan font-weight="bold">D.</tspan> <tspan font-style="italic">n = 8,785</tspan></text>
</g>
<g id="panel-E">
<path d="M86.6 740.2H96.2M86.6 788.8H96.2M86.6 837.4H96.2M86.6 886.0H96.2M86.6 934.6H96.2M103.4 993.9V1003.5M330.2 993.9V1003.5M372.0 993.9V1003.5M413.8 993.9V1003.5M455.6 993.9V1003.5M497.4 993.9V1003.5" stroke="#111" stroke-width="1.25" fill="none"/>
<text transform="translate(78.6 737.2) scale(0.9615 1)" font-size="35.36" text-anchor="end" stroke="#231f20" stroke-width="0.65">10</text>
<text transform="translate(80.0 724.7) scale(1.0500 1)" font-size="18.20" text-anchor="start" stroke="#231f20" stroke-width="0.7">8</text>
<text transform="translate(78.6 786.8) scale(0.9615 1)" font-size="35.36" text-anchor="end" stroke="#231f20" stroke-width="0.65">10</text>
<text transform="translate(80.0 774.3) scale(1.0500 1)" font-size="18.20" text-anchor="start" stroke="#231f20" stroke-width="0.7">6</text>
<text transform="translate(78.6 837.8) scale(0.9615 1)" font-size="35.36" text-anchor="end" stroke="#231f20" stroke-width="0.65">10</text>
<text transform="translate(80.0 825.3) scale(1.0500 1)" font-size="18.20" text-anchor="start" stroke="#231f20" stroke-width="0.7">4</text>
<text transform="translate(78.6 885.4) scale(0.9615 1)" font-size="35.36" text-anchor="end" stroke="#231f20" stroke-width="0.65">10</text>
<text transform="translate(80.0 872.9) scale(1.0500 1)" font-size="18.20" text-anchor="start" stroke="#231f20" stroke-width="0.7">2</text>
<text transform="translate(76.7 935.0) scale(0.9615 1)" font-size="35.36" text-anchor="end" stroke="#231f20" stroke-width="0.65">1</text>
<text transform="translate(104.7 1037.2) scale(0.9615 1)" font-size="35.36" text-anchor="middle" stroke="#231f20" stroke-width="0.65">0</text>
<text transform="translate(321.2 1037.2) scale(0.9615 1)" font-size="35.36" text-anchor="middle" stroke="#231f20" stroke-width="0.65">1</text>
<text transform="translate(358.0 1037.2) scale(0.9615 1)" font-size="35.36" text-anchor="middle" stroke="#231f20" stroke-width="0.65">3</text>
<text transform="translate(396.7 1037.2) scale(0.9615 1)" font-size="35.36" text-anchor="middle" stroke="#231f20" stroke-width="0.65">10</text>
<text transform="translate(442.5 1037.2) scale(0.9615 1)" font-size="35.36" text-anchor="middle" stroke="#231f20" stroke-width="0.65">32</text>
<text transform="translate(500.5 1037.2) scale(0.9615 1)" font-size="35.36" text-anchor="middle" stroke="#231f20" stroke-width="0.65">100</text>
<clipPath id="clipE"><rect x="96.2" y="705.3" width="434.9" height="288.6"/></clipPath>
<g clip-path="url(#clipE)">
<path d="M366.1 770.5L363.2 771.5L361.4 772.8L360.3 774.5L359.5 778.0L359.3 778.4L358.0 782.7L357.8 783.1L356.2 787.2L356.0 787.6L354.1 791.6L353.9 792.0L351.7 795.8L349.5 799.7L347.3 803.8L345.2 808.0L343.0 812.4L342.8 812.8L340.4 816.8L340.2 817.2L337.7 820.8L337.4 821.2L334.8 824.3L334.4 824.8L331.9 827.2L330.3 829.5L329.1 831.9L328.2 834.6L327.9 837.3L328.1 839.5L329.0 841.8L330.6 844.2L333.6 847.1L333.6 847.2L336.4 850.0L336.5 850.1L338.7 852.5L338.8 852.7L340.5 854.6L340.7 854.8L341.8 856.3L342.1 856.7L342.4 857.2L342.6 857.7L343.6 860.2L343.8 861.0L344.7 864.5L344.8 864.9L345.5 869.4L345.5 869.7L346.0 875.1L346.8 880.0L347.8 884.6L349.1 888.9L350.6 892.9L352.4 896.5L354.5 899.8L357.0 902.9L360.1 906.0L363.3 909.0L366.5 912.0L369.7 914.8L373.0 917.5L373.2 917.7L376.2 920.5L376.4 920.7L379.2 923.4L379.4 923.6L381.9 926.4L382.1 926.7L384.2 929.3L386.2 931.6L388.2 933.5L390.1 935.2L391.6 936.3L392.9 936.9L394.4 937.2L396.4 937.2L398.6 936.8L400.4 936.1L402.1 934.9L403.9 933.0L405.8 930.1L406.2 929.6L408.7 926.7L409.3 926.1L412.0 923.6L412.7 923.1L415.7 921.1L416.4 920.7L419.4 919.1L421.9 917.5L424.2 915.7L426.2 913.7L428.1 911.3L430.0 908.7L431.8 905.9L433.5 903.0L435.0 900.0L436.2 897.0L437.1 894.1L437.9 891.3L438.4 888.2L438.5 887.8L439.3 884.3L439.4 883.9L440.5 880.4L440.6 880.0L442.0 876.3L442.1 876.0L443.7 872.3L445.0 868.8L446.0 865.5L446.7 862.2L447.2 858.9L447.2 858.8L447.9 855.4L447.9 855.3L448.5 852.1L448.6 851.9L449.3 849.0L449.4 848.8L450.1 846.0L450.2 845.9L451.1 842.8L451.2 842.7L452.3 839.3L452.3 839.2L453.6 835.5L453.6 835.5L455.0 831.7L456.1 827.7L457.0 823.3L457.7 818.5L458.2 813.2L458.5 808.1L458.5 803.2L458.2 798.4L457.7 793.9L456.9 789.9L455.7 786.4L454.3 783.4L452.4 780.6L450.4 778.0L448.5 775.9L446.8 774.2L445.0 772.9L442.5 771.2L439.4 769.4L435.7 767.4L431.8 765.5L427.9 764.4L423.3 764.0L418.0 764.2L411.7 765.3L411.6 765.3L405.2 766.2L405.2 766.3L399.1 767.1L399.0 767.1L393.2 767.8L393.0 767.8L387.5 768.4L382.0 768.9L376.4 769.5L370.9 770.0Z" fill="#cc79a7"/>
<path d="M335.2 846.0h0M444.9 871.8h0M363.5 780.0h0M362.7 905.7h0M355.5 783.3h0M335.5 843.6h0M395.1 769.6h0M392.9 932.1h0M447.0 781.4h0M458.4 825.0h0M442.4 883.5h0M450.2 849.1h0M341.4 818.4h0M430.6 916.4h0M459.5 793.5h0M333.5 844.6h0M322.5 863.8h0M459.8 803.9h0M453.9 784.5h0M423.7 768.8h0M450.3 837.2h0M455.8 821.4h0M378.4 925.4h0M464.1 802.8h0M397.5 766.9h0M413.6 769.6h0M402.2 766.0h0M449.2 853.7h0M330.6 826.7h0M351.0 909.2h0M357.2 795.7h0M462.7 858.3h0M360.6 783.7h0M458.3 827.6h0M433.1 896.2h0M444.2 883.1h0M433.5 763.5h0M342.6 814.3h0M348.5 891.6h0M456.2 818.8h0M407.1 925.8h0M338.1 851.1h0M343.6 853.7h0M339.0 859.7h0M395.2 763.5h0M367.5 763.5h0M418.6 919.1h0M454.6 821.8h0M461.0 872.7h0M410.5 927.2h0M317.5 855.3h0M343.9 854.2h0M442.5 868.3h0M345.1 877.3h0M410.3 925.6h0M400.7 929.3h0M444.3 771.2h0M424.8 908.3h0M328.9 835.5h0M365.5 910.6h0M438.3 884.5h0M433.5 895.9h0M341.6 859.2h0M394.7 937.1h0M327.7 833.0h0M335.8 857.5h0M458.8 797.8h0M432.5 899.7h0M332.6 835.8h0M326.5 846.4h0M304.4 823.0h0M393.3 931.6h0M338.3 817.6h0M353.3 786.5h0M407.7 932.4h0M323.3 838.3h0M358.7 900.6h0M430.8 924.6h0M446.2 856.2h0M445.1 867.8h0M384.7 773.4h0M351.8 804.7h0M423.0 917.5h0M436.7 896.8h0M393.3 770.1h0M370.5 915.2h0M456.0 790.2h0M349.1 800.4h0M423.2 914.2h0M439.7 885.8h0M328.3 825.2h0M389.8 767.1h0M445.7 775.5h0M479.4 834.0h0M418.4 920.1h0M344.2 819.5h0M438.8 874.0h0M454.9 838.9h0M362.3 777.8h0M380.0 924.8h0M341.0 824.0h0M348.7 807.8h0M334.9 826.0h0M383.6 927.8h0M445.8 774.8h0M457.7 806.3h0M317.2 870.1h0M417.7 919.9h0M456.6 807.2h0M336.4 825.8h0M369.8 774.1h0M427.1 768.2h0M440.3 892.2h0M359.2 910.6h0M385.0 928.1h0M443.2 872.0h0M299.1 906.1h0M356.5 781.0h0M350.4 894.1h0M354.0 788.1h0M458.0 802.3h0M361.6 765.9h0M389.3 769.1h0M326.8 807.4h0M378.8 770.6h0M339.9 820.8h0M385.3 926.2h0M437.8 770.1h0M333.4 848.3h0M458.1 805.8h0M340.8 803.0h0M351.1 894.1h0M448.9 849.0h0M411.1 920.7h0M462.9 795.4h0M327.8 845.2h0M448.4 773.9h0M367.2 770.7h0M447.1 841.8h0M436.2 888.0h0M339.7 850.7h0M355.2 906.9h0M414.4 769.1h0M374.7 912.9h0M354.7 896.5h0M351.2 895.8h0M457.6 792.3h0M363.1 905.1h0M404.2 767.4h0M417.3 916.8h0M338.9 882.1h0M443.4 856.4h0M431.9 899.8h0M458.2 813.8h0M453.8 792.5h0M368.3 910.6h0M387.8 937.4h0M407.8 925.9h0M396.8 934.6h0M417.5 921.6h0M346.8 810.4h0M352.0 795.3h0M349.4 792.4h0M313.1 841.2h0M330.3 802.7h0M331.9 824.8h0M402.4 931.7h0M429.2 906.0h0M394.7 770.7h0M430.0 907.8h0M422.6 764.4h0M416.0 748.3h0M352.9 775.8h0M343.4 868.3h0M456.2 813.4h0M383.6 765.5h0M358.4 903.0h0M408.4 938.7h0M412.4 926.2h0M342.2 875.3h0M393.3 769.4h0M348.2 878.1h0M423.3 766.0h0M380.1 930.4h0M344.3 894.2h0M448.7 860.3h0M330.6 871.1h0M419.5 914.6h0M433.1 897.8h0M425.5 914.8h0M346.7 898.8h0M410.7 921.3h0M363.8 748.9h0M439.7 916.7h0M380.0 934.7h0M435.7 770.1h0M331.4 820.6h0M350.2 880.3h0M432.7 906.6h0M454.4 796.9h0M356.1 902.7h0M445.7 870.6h0M390.0 935.4h0M408.0 767.9h0M335.1 824.4h0M445.7 888.9h0M354.4 798.7h0M455.8 833.9h0M461.0 805.7h0M358.6 791.1h0M467.8 807.2h0M430.5 904.4h0M396.0 759.5h0M449.9 781.0h0M437.5 885.7h0M372.0 915.5h0M402.6 929.5h0M443.8 872.8h0M389.0 937.0h0M457.6 832.3h0M456.2 796.0h0M385.5 925.6h0M342.2 818.2h0M367.6 906.4h0M433.2 905.1h0M405.2 763.2h0M340.1 819.5h0M395.3 771.4h0M422.0 917.9h0M350.5 760.6h0M441.4 907.1h0M353.0 794.1h0M387.8 926.5h0M427.0 909.4h0M335.8 826.5h0M469.4 819.2h0M456.3 790.5h0M395.2 932.4h0M458.1 801.5h0M392.0 765.6h0M437.7 766.8h0M344.0 815.1h0M344.0 869.2h0M420.6 923.3h0M444.0 850.8h0M348.6 879.9h0M436.5 758.1h0M378.2 927.2h0M351.0 793.7h0M344.7 809.1h0M342.7 811.6h0M423.3 763.8h0M385.0 773.1h0M457.7 774.5h0M338.2 848.8h0M345.9 870.5h0M411.6 761.0h0M473.0 809.8h0M353.7 776.6h0M349.6 789.9h0M454.1 836.2h0M340.3 808.3h0M444.8 854.6h0M346.9 890.4h0M462.9 804.2h0M460.9 833.8h0M393.7 772.7h0M334.1 831.5h0M454.5 803.3h0M447.8 773.4h0M418.2 918.4h0M348.3 863.4h0M366.4 773.3h0M456.6 833.8h0M392.1 764.4h0M356.5 792.9h0M432.4 913.8h0M364.1 770.0h0M349.2 911.4h0M407.2 769.7h0M443.7 852.8h0M419.8 764.4h0M345.2 803.5h0M462.8 803.7h0M325.9 860.8h0M442.4 896.7h0M450.2 842.9h0M351.9 801.8h0M327.2 861.0h0M345.4 920.6h0M399.6 766.7h0M443.0 871.6h0M326.0 833.8h0M365.1 911.0h0M454.3 798.1h0M414.2 762.0h0M451.3 785.9h0M415.0 923.1h0M440.0 868.5h0M456.1 865.9h0M348.9 808.8h0M324.4 836.4h0M359.0 909.4h0M371.6 921.2h0M376.4 915.0h0M390.6 944.9h0M368.9 775.2h0M374.6 774.6h0M375.2 922.1h0M426.2 909.9h0M445.7 855.8h0M328.1 836.6h0M440.8 877.3h0M427.8 908.3h0M398.9 771.4h0M449.6 774.0h0M338.0 897.1h0M360.3 778.1h0M439.0 773.6h0M348.0 795.8h0M383.4 926.6h0M459.0 787.4h0M410.7 926.8h0M353.0 787.7h0M327.7 833.1h0M437.1 894.3h0M346.5 884.0h0M383.6 925.4h0M347.6 860.4h0M436.9 892.7h0M460.8 800.5h0M374.9 918.7h0M377.4 772.9h0M362.5 780.7h0M368.9 912.4h0M366.5 768.3h0M344.7 871.5h0M351.8 797.4h0M339.1 812.6h0M449.4 856.5h0M339.6 822.8h0M455.2 831.3h0M454.0 842.3h0M373.7 773.4h0M315.7 831.4h0M453.9 779.7h0M365.1 773.1h0M426.3 915.3h0M439.7 885.2h0M455.5 834.6h0M346.3 791.3h0M373.2 765.2h0M377.3 763.8h0M450.4 840.3h0M414.5 925.2h0M374.8 913.6h0M448.3 840.2h0M422.1 756.0h0M441.8 865.6h0M353.1 902.7h0M450.1 841.7h0M403.0 931.1h0M365.7 908.1h0M420.9 920.7h0M353.4 891.1h0M395.4 940.6h0M444.3 848.4h0M391.9 769.9h0M446.5 853.2h0M409.6 763.6h0M417.8 927.7h0M336.0 846.7h0M332.2 820.5h0M333.4 846.3h0M440.0 899.7h0M324.9 809.4h0M464.1 808.1h0M413.0 927.3h0M453.8 819.3h0M344.6 874.3h0M452.5 830.2h0M447.8 868.4h0M338.0 809.3h0M373.2 914.8h0M417.0 767.9h0M459.6 834.1h0M326.4 838.5h0M411.4 766.2h0M402.5 928.7h0M376.7 763.0h0M365.7 772.2h0M341.3 821.7h0M357.7 783.8h0M452.9 781.7h0M347.3 898.5h0M356.4 929.5h0M379.5 769.0h0M359.5 898.1h0M361.9 785.9h0M409.7 921.9h0M338.6 820.1h0M336.7 858.8h0M320.7 835.5h0M359.1 900.7h0M455.2 791.7h0M340.8 892.1h0M400.9 936.5h0M444.9 770.7h0M335.3 804.3h0M472.6 849.1h0M392.5 768.3h0M305.5 846.1h0M455.8 803.9h0M346.4 855.9h0M341.4 849.7h0M458.9 838.4h0M451.2 850.2h0M403.3 768.8h0M376.8 924.7h0M320.1 876.2h0M332.6 842.3h0M427.4 760.8h0M387.9 772.3h0M394.4 949.9h0M391.5 934.3h0M360.6 912.2h0M414.0 764.7h0M326.3 839.9h0M432.7 895.9h0M318.6 822.6h0M394.4 938.8h0M335.5 847.9h0M351.4 793.9h0M346.5 887.8h0M439.4 769.7h0M378.3 763.7h0M455.3 852.2h0M440.5 896.7h0M436.4 882.7h0M355.3 909.8h0M360.4 907.7h0M325.7 818.3h0M433.8 765.4h0M456.2 825.1h0M332.4 857.5h0M348.8 809.2h0M413.9 924.6h0M324.0 826.5h0M363.0 777.9h0M336.5 850.1h0M385.0 923.4h0M368.4 911.9h0M397.5 767.9h0M435.5 887.2h0M379.6 773.8h0M354.4 794.0h0M443.3 859.5h0M365.5 770.2h0M340.8 856.6h0M461.4 789.7h0M420.2 927.4h0M448.6 834.7h0M458.6 803.2h0M453.0 816.2h0M430.7 909.0h0M345.4 861.3h0M444.3 772.9h0M398.8 764.6h0M336.0 819.9h0M425.0 764.0h0M436.1 879.5h0M379.0 921.1h0M393.3 932.3h0M449.8 845.1h0M363.8 907.5h0M383.6 768.9h0M338.9 811.9h0M374.9 920.0h0M339.8 811.5h0M456.4 833.6h0M355.2 892.4h0M351.7 795.4h0M344.8 880.9h0M314.3 837.5h0M387.6 768.2h0M383.6 921.7h0M353.3 787.2h0M427.9 907.8h0M458.6 839.6h0M361.8 780.0h0M309.9 838.4h0M447.3 860.0h0M357.9 773.5h0M340.5 903.3h0M451.7 847.4h0M406.7 923.6h0M398.9 767.2h0M328.9 807.6h0M366.3 762.8h0M328.2 834.7h0M444.5 875.1h0M396.2 932.6h0M348.9 805.7h0M348.5 803.0h0M345.7 899.4h0M377.6 915.3h0M400.3 936.1h0M377.6 920.5h0M434.0 761.8h0M429.3 907.7h0M454.4 795.2h0M362.9 774.2h0M400.8 769.6h0M342.0 822.8h0M457.8 811.8h0M459.4 836.9h0M447.6 780.8h0M451.7 779.6h0M342.6 862.7h0M464.4 841.9h0M339.6 857.0h0M387.7 771.8h0M365.9 763.0h0M348.9 890.0h0M365.0 915.8h0M461.3 824.3h0M361.2 781.8h0M341.8 862.2h0M336.3 889.6h0M454.0 821.8h0M347.4 906.4h0M369.6 774.9h0M321.0 816.8h0M352.2 901.3h0M325.4 862.1h0M372.8 774.7h0M364.7 907.1h0M426.4 912.2h0M467.6 813.3h0M436.1 882.4h0M331.3 833.4h0M376.5 926.5h0M378.2 917.6h0M366.4 909.5h0M370.3 914.3h0M351.3 798.8h0M402.8 926.2h0M368.0 912.4h0M443.6 866.2h0M465.1 809.2h0M455.7 797.1h0M376.2 917.9h0M447.7 782.3h0M402.9 768.0h0M305.7 821.5h0M454.8 826.2h0M443.6 871.6h0M358.0 916.7h0M466.2 817.0h0M309.4 861.1h0M349.9 892.6h0M340.0 857.0h0M330.3 850.6h0M456.4 779.3h0M453.0 847.3h0M304.3 855.8h0M456.0 855.5h0M445.0 769.3h0M360.0 902.0h0M395.0 937.6h0M451.4 863.7h0M408.2 921.1h0M453.6 795.3h0M459.9 821.8h0M344.9 874.2h0M354.8 797.7h0M435.3 888.5h0M383.5 926.8h0M330.8 825.6h0M446.4 780.7h0M461.8 798.7h0M318.6 831.8h0M417.3 768.8h0M340.8 858.0h0M418.1 915.1h0M343.9 803.9h0M334.9 819.5h0M439.4 883.4h0M355.3 791.0h0M380.7 921.0h0M411.1 770.1h0M387.3 937.8h0M455.4 816.0h0M344.0 861.2h0M386.4 773.1h0M314.2 831.9h0M360.6 907.0h0M332.5 842.0h0M339.0 868.2h0M430.9 761.8h0M430.8 913.3h0M451.0 853.0h0M453.2 788.3h0M463.8 779.8h0M305.5 849.5h0M395.8 932.4h0M361.3 905.4h0M447.3 861.9h0M385.5 934.8h0M433.6 763.7h0M460.2 763.1h0M426.8 763.1h0M365.9 906.6h0M350.5 805.6h0M452.7 778.4h0M339.8 813.3h0M445.1 858.1h0M445.1 856.8h0M401.8 934.5h0M412.5 919.3h0M410.5 766.6h0M370.0 910.6h0M402.6 930.4h0M345.7 860.4h0M421.6 766.7h0M387.6 935.9h0M364.3 914.7h0M364.1 911.7h0M325.3 826.2h0M458.2 810.6h0M390.5 936.6h0M352.7 792.4h0M351.4 805.8h0M355.9 896.7h0M343.4 872.0h0M332.9 832.7h0M322.9 835.5h0M424.4 911.3h0M436.6 900.2h0M457.7 821.4h0M347.2 881.2h0M339.6 815.8h0M460.2 816.5h0M309.4 838.6h0M340.2 882.5h0M414.8 925.4h0M388.0 769.8h0M360.7 789.1h0M371.3 771.1h0M362.8 923.6h0M454.2 792.5h0M355.4 798.9h0M453.8 836.6h0M419.3 919.2h0M377.7 763.4h0M341.2 821.8h0M324.1 829.5h0M381.8 931.2h0M433.9 912.2h0M330.2 810.1h0M331.2 835.5h0M455.1 841.4h0M346.4 813.7h0M448.5 862.1h0M427.4 924.7h0M331.1 827.7h0M401.0 939.7h0M438.5 890.9h0M423.4 766.1h0M343.8 813.2h0M341.0 875.0h0M332.9 804.9h0M394.1 938.0h0M345.6 871.7h0M336.6 843.3h0M462.4 817.7h0M452.1 842.5h0M438.0 891.6h0M428.4 763.8h0M454.5 870.2h0M429.4 770.0h0M362.9 779.4h0M420.0 758.4h0M344.1 809.4h0M388.8 930.9h0M443.0 860.3h0M441.0 900.9h0M373.5 772.2h0M449.0 775.6h0M361.8 767.0h0M354.5 780.4h0M329.7 856.4h0M440.5 768.8h0M318.5 822.8h0M393.5 942.8h0M363.2 775.7h0M432.7 768.7h0M340.7 857.9h0M456.7 804.9h0M349.8 799.3h0M326.6 808.1h0M354.7 769.9h0M453.1 778.7h0M410.6 764.7h0M371.3 917.0h0M444.9 856.1h0M387.3 771.7h0M371.4 768.0h0M465.5 832.7h0M455.0 817.2h0M347.0 880.0h0M377.1 925.2h0M452.6 858.9h0M385.4 926.8h0M453.4 831.9h0M438.7 901.5h0M373.6 915.1h0M346.5 879.3h0M454.2 832.6h0M367.4 916.9h0M335.3 853.4h0M340.4 822.7h0M425.5 763.4h0M458.7 784.3h0M430.8 904.3h0M362.1 901.3h0M423.2 765.4h0M452.3 835.2h0M329.4 839.8h0M349.3 888.2h0M365.0 771.1h0M459.6 793.1h0M393.8 939.6h0M387.9 933.9h0M415.1 759.8h0M453.6 836.1h0M337.9 860.2h0M254.2 788.1h0M254.2 793.9h0M269.7 773.5h0M274.2 787.2h0M310.0 767.3h0M312.2 777.0h0M302.0 785.9h0M310.9 783.7h0M346.3 762.9h0M337.5 774.8h0M274.2 815.5h0M288.8 806.7h0M291.9 810.2h0M288.8 821.3h0M295.4 822.6h0M279.0 831.5h0M295.4 834.6h0M297.6 841.2h0M275.5 845.6h0M282.1 846.5h0M275.5 853.6h0M265.3 859.8h0M282.1 858.9h0M288.8 850.1h0M285.7 868.7h0M282.1 878.8h0M305.1 871.3h0M302.9 886.4h0M266.6 901.9h0M285.7 900.1h0M285.7 908.5h0M297.6 911.2h0M298.9 916.5h0M305.6 905.4h0M310.9 908.5h0M315.3 896.6h0M324.2 947.5h0M336.6 957.6h0M329.9 940.8h0M322.0 929.8h0M350.7 934.2h0M347.2 948.8h0M352.1 946.6h0M368.4 945.2h0M370.7 955.0h0M378.6 951.9h0M381.7 943.0h0M389.7 980.7h0M410.5 978.4h0M403.9 959.9h0M412.7 956.3h0M392.8 958.5h0M423.8 937.7h0M434.8 932.0h0M445.9 925.3h0M453.4 946.6h0M470.3 903.2h0M457.9 883.3h0M461.4 858.9h0M468.0 867.8h0M473.4 852.3h0M490.2 855.8h0M501.2 855.8h0M483.5 835.9h0M479.1 830.2h0M474.7 820.0h0M483.5 808.9h0M492.4 799.2h0M507.0 820.4h0M474.7 788.1h0M472.5 774.8h0M463.6 772.6h0M459.2 760.7h0M488.0 776.2h0M428.2 758.0h0M434.8 760.7h0M474.7 799.2h0M318.4 858.3h0M308.1 868.3h0M335.7 784.4h0M305.9 810.6h0M306.7 795.3h0M316.0 793.5h0M340.0 792.1h0M334.3 795.6h0M295.9 811.3h0M314.7 819.5h0M334.7 878.9h0M312.9 789.8h0M336.5 778.6h0M331.8 859.9h0M299.3 819.9h0M322.4 874.1h0M321.7 872.5h0M329.2 781.9h0M300.9 792.2h0M314.7 862.3h0M325.2 872.4h0M311.0 816.2h0M337.7 897.4h0M342.3 899.0h0M317.3 804.1h0M306.4 792.1h0M305.0 827.4h0M326.8 862.8h0M322.8 862.8h0M323.2 784.0h0M341.0 893.3h0M300.8 823.3h0M302.2 817.4h0M312.9 823.4h0M308.8 871.1h0M316.6 820.1h0M305.9 794.9h0M315.4 860.2h0M316.8 870.1h0M325.3 892.3h0M311.0 790.5h0M295.4 831.1h0M312.3 829.9h0M317.6 868.3h0M332.0 880.3h0M327.9 809.1h0M299.4 843.5h0M305.2 816.4h0M328.0 893.0h0M318.1 857.4h0M328.8 795.9h0M319.6 877.2h0M308.7 861.3h0M319.4 838.7h0M321.5 785.1h0M321.4 830.8h0M323.9 858.5h0M348.3 773.7h0M329.7 888.8h0M313.9 818.5h0M337.1 879.2h0M322.1 820.2h0M328.9 871.9h0M322.3 784.5h0M330.8 883.6h0M349.1 782.9h0M317.7 796.8h0M320.2 808.3h0M310.7 825.4h0M305.2 796.5h0M310.3 871.2h0M315.8 859.3h0M331.8 808.3h0M342.9 782.2h0M328.2 872.2h0M332.6 786.0h0M327.5 876.3h0M322.3 790.3h0M322.7 784.0h0M318.2 887.1h0M325.3 855.5h0M305.3 784.4h0M331.2 812.7h0M334.1 805.0h0M315.5 790.3h0M297.9 821.9h0M312.3 876.8h0M297.4 820.5h0M326.2 787.8h0M332.1 890.6h0M316.2 821.7h0M339.3 885.1h0M303.8 801.5h0M302.7 859.3h0M334.9 780.2h0M324.7 812.4h0M303.5 829.1h0M316.7 797.4h0M323.1 862.7h0M317.3 824.5h0M329.6 898.5h0M295.9 828.5h0M314.8 874.6h0M298.3 846.2h0M330.9 857.9h0M328.5 869.6h0M337.3 898.0h0M322.3 787.4h0M337.2 895.2h0M301.4 854.7h0M331.8 803.0h0M318.8 828.8h0M336.7 870.3h0M349.8 782.0h0M312.7 825.3h0M309.5 861.7h0M349.0 772.0h0M329.5 786.7h0M300.7 841.3h0M301.8 816.8h0M345.6 900.5h0M327.8 885.3h0M307.6 829.5h0M337.3 796.6h0M326.7 877.4h0M332.0 799.6h0M331.9 883.8h0M330.8 777.1h0M360.4 937.5h0M401.1 950.2h0M391.8 946.6h0M322.7 890.5h0M319.8 884.1h0M367.6 941.4h0M358.6 944.7h0M355.8 936.1h0M342.7 911.2h0M377.8 955.6h0M363.0 920.9h0M335.8 910.5h0M370.2 945.5h0M403.1 953.3h0M380.1 957.8h0M336.2 915.7h0M338.3 924.1h0M403.5 948.8h0M361.6 940.0h0M381.0 953.2h0M349.5 918.1h0M327.0 902.6h0M334.0 896.5h0M358.3 923.0h0M362.9 919.5h0M369.9 942.7h0M369.9 933.2h0M377.2 949.4h0M353.1 933.9h0M352.0 941.1h0M322.5 893.7h0M330.5 891.2h0M355.9 923.9h0M328.1 898.5h0M333.3 917.4h0M334.4 899.8h0M362.3 935.8h0M354.0 920.9h0M401.1 955.5h0M359.5 936.1h0M339.7 909.3h0M320.8 892.8h0M323.3 893.9h0M332.9 899.3h0M393.9 948.0h0M333.0 915.6h0M357.8 943.3h0M369.4 926.8h0M359.0 924.1h0M366.3 941.5h0M343.3 912.3h0M342.0 916.8h0M350.4 922.6h0M365.9 944.2h0M374.3 951.5h0M379.1 950.1h0M395.3 952.6h0M328.5 900.6h0M464.4 869.0h0M473.4 821.1h0M476.7 808.9h0M467.4 867.0h0M462.9 843.8h0M465.8 883.0h0M459.2 898.0h0M468.4 799.5h0M445.7 916.0h0M444.9 901.5h0M470.8 859.2h0M467.4 845.5h0M460.9 832.0h0M463.3 889.7h0M461.2 834.9h0M472.0 798.7h0M463.4 843.6h0M455.1 903.7h0M469.2 805.7h0M461.7 866.3h0M465.5 882.2h0M460.5 840.7h0M462.1 818.9h0M458.1 892.1h0M450.4 879.8h0M466.3 822.3h0M459.5 893.0h0M470.9 862.9h0M466.4 881.1h0M453.5 862.4h0M464.5 810.5h0M446.3 908.8h0M471.7 861.1h0M473.2 802.3h0M457.0 891.6h0M466.2 827.8h0M456.0 850.6h0M472.7 857.2h0M460.4 870.0h0M454.8 896.2h0M470.0 814.0h0M455.7 893.0h0M472.5 853.3h0M472.4 835.8h0M466.3 809.1h0M450.9 902.9h0M459.3 893.4h0M454.0 882.3h0M452.2 873.9h0M459.8 837.6h0M447.3 887.4h0M457.6 848.0h0M471.2 796.8h0M457.6 862.9h0M461.6 852.1h0M455.0 856.6h0M463.4 821.9h0M454.8 899.6h0M454.7 895.3h0M472.9 810.0h0M460.0 894.8h0M452.6 864.9h0M463.6 821.5h0M455.6 871.4h0M447.9 890.1h0M469.7 792.1h0M476.5 842.1h0M462.2 831.7h0" fill="none" stroke="#cc79a7" stroke-width="7.8" stroke-linecap="round"/>
</g>
<path d="M254.2 863.8L264.8 861.6L275.4 859.3L285.9 857.1L296.5 854.8L307.1 852.5L317.7 850.2L328.2 847.9L338.8 845.5L349.4 843.2L359.9 840.7L370.5 838.3L381.1 835.8L391.6 833.3L402.2 830.7L412.8 828.1L423.3 825.5L433.9 822.8L444.5 820.1L455.0 817.3L465.6 814.5L476.2 811.7L486.7 808.9L497.3 806.0L507.9 803.2L507.9 815.5L497.3 817.8L486.7 820.1L476.2 822.5L465.6 824.8L455.0 827.2L444.5 829.6L433.9 832.0L423.3 834.5L412.8 837.0L402.2 839.6L391.6 842.2L381.1 844.9L370.5 847.5L359.9 850.3L349.4 853.0L338.8 855.8L328.2 858.6L317.7 861.5L307.1 864.3L296.5 867.2L285.9 870.1L275.4 873.0L264.8 875.9L254.2 878.8Z" fill="#858585" fill-opacity="0.2"/>
<path d="M254.2 871.3L507.9 809.4" stroke="#0a0a0a" stroke-width="2.2" fill="none"/>
<rect x="97.0" y="963.7" width="347.1" height="12.6" fill="#f1f1f1" stroke="#e4e4e4" stroke-width="0.8"/>
<rect x="444.1" y="963.7" width="38.2" height="12.6" fill="#f1f1f1" stroke="#e4e4e4" stroke-width="0.8"/>
<rect x="482.3" y="963.7" width="28.6" height="12.6" fill="#f1f1f1" stroke="#e4e4e4" stroke-width="0.8"/>
<rect x="510.9" y="963.7" width="11.9" height="12.6" fill="#f1f1f1" stroke="#e4e4e4" stroke-width="0.8"/>
<rect x="522.8" y="963.7" width="7.5" height="12.6" fill="#f1f1f1" stroke="#e4e4e4" stroke-width="0.8"/>
<text transform="translate(200.9 982.5) scale(0.9615 1)" font-size="22.88" text-anchor="middle" stroke="#231f20" stroke-width="0.4">Ng</text>
<text transform="translate(461.1 982.5) scale(0.9615 1)" font-size="22.88" text-anchor="middle" stroke="#231f20" stroke-width="0.4">Pg</text>
<text transform="translate(489.2 982.5) scale(0.9615 1)" font-size="22.88" text-anchor="middle" stroke="#231f20" stroke-width="0.4">K</text>
<text transform="translate(513.6 982.5) scale(0.9615 1)" font-size="22.88" text-anchor="middle" stroke="#231f20" stroke-width="0.4">J</text>
<path d="M107.3 904.7L109.0 902.2L111.5 900.1L114.0 899.0L116.8 899.7L119.6 901.5L121.7 900.8L124.2 901.9L126.6 903.6L128.8 905.0L132.3 905.7L136.5 906.4L140.0 907.8L143.5 910.0L147.1 912.4L150.6 915.2L154.1 918.4L157.6 921.2L160.5 924.0L162.6 927.2L164.0 930.7L164.8 934.3L164.9 938.5L164.0 942.7L161.9 946.9L158.7 950.5L154.8 953.3L149.9 955.4L144.3 956.4L138.6 956.8L133.0 956.4L128.1 955.7L124.5 954.8L123.1 954.0L123.8 953.4L127.4 954.3L133.0 955.2L138.6 955.4L144.3 954.9L149.2 953.6L153.4 951.5L156.9 948.7L159.7 945.2L161.9 941.3L162.6 937.1L161.9 932.8L160.1 929.3L157.6 926.9L154.8 925.1L151.3 924.5L147.8 925.0L146.7 926.2L147.4 928.6L146.4 930.7L144.6 931.4L144.3 933.5L143.2 933.5L143.2 930.7L141.4 931.4L138.6 933.2L135.8 934.3L134.3 935.1L134.0 934.1L136.5 932.5L136.2 931.1L138.6 930.4L141.4 929.0L143.5 927.6L141.4 926.9L137.9 925.8L135.8 924.7L135.1 922.6L132.3 921.2L128.8 919.8L125.6 919.1L124.9 920.5L125.6 923.0L126.3 925.1L125.2 926.5L122.4 927.2L119.6 928.3L117.1 929.7L115.4 930.7L113.3 931.4L112.9 930.4L109.4 930.4L109.0 929.3L111.2 928.6L109.7 927.9L112.6 927.6L112.9 926.2L114.3 926.9L116.4 925.8L117.1 926.9L120.3 925.7L123.1 924.7L122.8 922.3L121.7 918.8L121.0 915.2L118.9 913.1L116.1 911.0L113.3 909.3L110.5 907.8L108.3 906.4Z" fill="#000" stroke="#000" stroke-width="0.4" stroke-linejoin="round"/>
<rect x="96.2" y="705.3" width="434.9" height="288.6" fill="none" stroke="#111" stroke-width="1.7"/>
<text transform="translate(101.7 738.3) scale(0.9476 1)" font-size="35.88" text-anchor="start" stroke="#231f20" stroke-width="0.65" xml:space="preserve"><tspan font-weight="bold">E.</tspan> <tspan font-style="italic">n = 5,482</tspan></text>
</g>
<g id="panel-F">
<path d="M541.7 740.2H551.3M541.7 788.8H551.3M541.7 837.4H551.3M541.7 886.0H551.3M541.7 934.6H551.3M558.5 993.9V1003.5M785.3 993.9V1003.5M827.1 993.9V1003.5M868.9 993.9V1003.5M910.7 993.9V1003.5M952.5 993.9V1003.5" stroke="#111" stroke-width="1.25" fill="none"/>
<text transform="translate(557.0 1037.2) scale(0.9615 1)" font-size="35.36" text-anchor="middle" stroke="#231f20" stroke-width="0.65">0</text>
<text transform="translate(781.3 1037.2) scale(0.9615 1)" font-size="35.36" text-anchor="middle" stroke="#231f20" stroke-width="0.65">1</text>
<text transform="translate(819.8 1037.2) scale(0.9615 1)" font-size="35.36" text-anchor="middle" stroke="#231f20" stroke-width="0.65">3</text>
<text transform="translate(857.8 1037.2) scale(0.9615 1)" font-size="35.36" text-anchor="middle" stroke="#231f20" stroke-width="0.65">10</text>
<text transform="translate(904.3 1037.2) scale(0.9615 1)" font-size="35.36" text-anchor="middle" stroke="#231f20" stroke-width="0.65">32</text>
<text transform="translate(960.3 1037.2) scale(0.9615 1)" font-size="35.36" text-anchor="middle" stroke="#231f20" stroke-width="0.65">100</text>
<clipPath id="clipF"><rect x="551.3" y="705.3" width="434.9" height="288.6"/></clipPath>
<g clip-path="url(#clipF)">
<path d="M781.8 796.9L779.6 800.1L777.7 803.5L775.9 807.2L774.5 811.1L773.5 814.9L773.1 818.6L773.1 822.3L773.6 826.2L774.2 830.5L775.0 834.7L776.0 839.0L777.0 843.2L778.2 847.1L779.5 850.6L780.8 853.9L782.3 856.9L784.1 859.9L786.1 862.9L788.4 866.0L790.8 868.9L793.2 871.1L795.8 872.8L798.6 874.1L801.6 874.9L804.8 875.4L808.2 875.4L811.7 874.9L815.5 874.0L818.8 872.8L821.4 871.5L823.4 870.1L825.3 868.3L825.4 868.1L827.9 865.8L828.0 865.7L830.7 863.2L830.8 863.1L833.9 860.5L833.9 860.4L837.1 857.8L839.9 855.2L842.3 852.4L844.6 849.6L846.6 846.5L846.7 846.4L848.9 843.2L849.0 843.1L851.2 840.0L851.3 839.9L853.5 837.0L853.6 836.9L855.6 834.4L857.3 831.9L858.7 829.3L859.9 826.6L860.8 823.9L861.1 821.8L861.1 820.2L860.9 819.1L860.2 817.8L859.1 816.0L857.8 814.2L856.1 812.3L854.0 810.2L853.5 809.7L851.6 807.2L851.2 806.6L849.5 803.8L849.2 803.2L847.8 800.2L847.6 799.6L846.5 796.3L846.4 796.1L845.5 792.7L845.4 792.5L844.6 789.2L844.5 789.0L843.8 785.7L843.8 785.4L843.4 782.8L842.6 780.9L841.4 779.2L839.6 777.5L837.0 775.7L834.0 774.3L830.8 773.1L827.3 772.3L823.5 771.8L819.8 771.8L816.1 772.3L812.4 773.2L808.5 774.7L804.7 776.5L801.0 778.7L797.4 781.3L793.8 784.4L790.4 787.6L787.2 790.7L784.3 793.9Z" fill="#d4622a"/>
<path d="M806.7 775.3h0M836.9 775.6h0M846.4 784.7h0M829.1 770.8h0M778.9 850.9h0M788.0 797.3h0M844.5 779.3h0M793.3 784.7h0M789.2 861.3h0M792.1 785.4h0M841.5 848.9h0M783.4 800.0h0M850.7 844.7h0M805.3 872.8h0M816.3 876.6h0M810.4 874.3h0M777.1 822.7h0M851.0 839.2h0M845.2 800.0h0M815.3 772.2h0M779.0 802.4h0M786.1 857.4h0M790.1 860.0h0M775.6 825.1h0M819.3 768.8h0M845.2 840.8h0M844.5 843.4h0M783.2 855.8h0M856.4 822.6h0M785.4 861.8h0M851.1 811.9h0M811.9 876.1h0M773.0 812.9h0M856.6 839.4h0M813.7 886.3h0M853.1 812.2h0M785.5 853.3h0M825.1 862.7h0M842.1 785.6h0M782.7 844.7h0M815.5 770.2h0M814.2 771.8h0M850.7 833.1h0M860.6 826.8h0M867.8 836.5h0M771.1 816.6h0M808.2 874.7h0M811.7 877.9h0M787.5 787.1h0M855.3 806.6h0M817.3 888.6h0M854.1 829.9h0M856.6 824.5h0M859.0 815.5h0M808.7 876.5h0M811.6 877.3h0M841.5 851.6h0M804.3 878.0h0M783.8 800.6h0M799.5 874.4h0M796.6 874.3h0M857.4 822.0h0M792.6 868.3h0M775.3 823.2h0M812.7 777.4h0M829.8 873.3h0M775.0 836.6h0M838.9 770.3h0M802.3 876.1h0M865.6 786.5h0M790.6 870.8h0M772.8 828.5h0M783.8 850.8h0M820.4 768.3h0M836.7 853.0h0M842.6 787.1h0M845.4 802.7h0M813.0 777.0h0M797.2 782.2h0M778.2 827.5h0M780.5 880.8h0M825.5 864.6h0M827.6 773.9h0M823.9 866.1h0M794.9 870.0h0M850.5 811.7h0M836.3 858.9h0M819.8 773.3h0M822.7 872.9h0M849.7 793.7h0M768.4 836.7h0M807.0 773.4h0M774.4 822.2h0M795.8 782.2h0M832.2 774.8h0M779.5 783.0h0M831.3 870.9h0M826.5 864.4h0M848.6 837.8h0M770.9 824.4h0M861.8 829.4h0M810.0 875.6h0M859.8 814.8h0M846.8 848.2h0M851.0 803.9h0M776.1 838.5h0M847.0 805.0h0M856.4 831.7h0M780.9 862.5h0M795.0 780.9h0M817.9 873.5h0M778.0 822.2h0M840.5 849.8h0M819.8 870.1h0M772.2 833.0h0M785.4 868.1h0M848.6 794.0h0M772.2 814.4h0M801.5 783.8h0M858.0 832.3h0M772.5 803.2h0M846.9 761.3h0M833.4 856.8h0M862.8 811.0h0M780.5 841.3h0M828.7 770.8h0M825.8 776.8h0M808.0 772.5h0M819.3 869.5h0M775.3 812.3h0M829.2 775.3h0M847.7 843.8h0M824.2 772.9h0M773.7 824.6h0M835.0 776.3h0M801.0 780.8h0M847.8 844.1h0M768.9 825.1h0M784.8 851.8h0M841.1 776.9h0M852.0 843.5h0M793.6 786.9h0M778.1 841.2h0M780.8 804.6h0M778.1 851.1h0M820.9 867.4h0M778.1 802.6h0M861.0 840.8h0M838.9 782.7h0M780.2 852.3h0M815.8 875.1h0M841.2 852.4h0M845.8 782.9h0M818.9 776.0h0M790.5 781.7h0M855.8 811.8h0M777.7 814.2h0M811.7 771.2h0M853.8 835.3h0M838.6 779.8h0M851.9 796.5h0M857.4 802.8h0M842.1 796.8h0M826.6 873.2h0M818.6 867.4h0M845.3 844.2h0M815.1 774.7h0M795.2 870.3h0M833.0 776.5h0M845.4 840.4h0M815.2 870.5h0M810.8 774.9h0M855.7 833.6h0M804.7 779.6h0M853.6 839.6h0M845.6 779.9h0M851.9 832.1h0M786.3 782.8h0M811.3 874.5h0M801.3 778.7h0M783.0 794.6h0M779.9 809.3h0M843.7 865.0h0M774.7 822.2h0M779.3 830.4h0M842.9 865.7h0M776.0 812.6h0M798.6 871.7h0M798.6 777.3h0M792.0 865.9h0M847.3 795.9h0M843.2 801.6h0M847.5 805.1h0M772.6 833.0h0M874.7 798.1h0M776.2 792.8h0M832.7 858.2h0M825.1 878.3h0M770.7 831.0h0M783.0 801.3h0M824.3 864.2h0M855.8 829.9h0M814.6 877.9h0M835.4 857.7h0M777.8 801.9h0M786.0 863.5h0M788.5 795.8h0M862.0 832.0h0M832.3 857.7h0M788.0 856.8h0M849.5 840.5h0M855.6 806.2h0M842.4 852.2h0M834.5 862.2h0M862.6 827.4h0M828.2 863.5h0M778.1 809.3h0M853.8 830.6h0M838.2 851.3h0M768.3 844.1h0M834.2 862.6h0M810.7 883.2h0M781.0 839.2h0M846.0 796.7h0M792.4 792.3h0M789.3 871.7h0M796.9 870.6h0M832.4 858.8h0M794.4 784.8h0M859.0 815.6h0M829.0 871.3h0M842.2 798.3h0M843.6 842.7h0M855.0 850.7h0M786.1 787.2h0M853.9 846.2h0M824.8 776.7h0M846.2 783.4h0M861.3 818.0h0M780.6 848.5h0M800.1 869.4h0M787.5 787.2h0M774.0 816.2h0M847.3 798.4h0M807.0 877.3h0M842.2 785.2h0M775.3 845.9h0M775.8 828.1h0M792.2 862.9h0M812.6 871.2h0M772.9 825.6h0M774.9 797.8h0M845.8 796.8h0M853.7 840.3h0M783.7 856.1h0M779.7 836.3h0M839.4 859.6h0M852.3 851.3h0M779.9 852.3h0M782.7 854.4h0M843.2 776.8h0M782.9 852.0h0M843.5 793.2h0M778.5 831.6h0M856.5 825.4h0M817.4 769.6h0M840.6 793.6h0M827.9 776.4h0M849.0 811.6h0M812.2 871.9h0M810.6 771.2h0M834.6 861.9h0M809.8 880.2h0M799.1 875.7h0M847.9 797.9h0M855.5 831.7h0M825.5 770.9h0M849.0 806.3h0M853.9 811.1h0M823.3 871.8h0M820.1 869.9h0M774.5 824.0h0M845.3 789.7h0M846.2 774.9h0M777.3 799.9h0M858.5 832.8h0M823.2 866.1h0M815.4 874.4h0M815.6 874.1h0M796.1 783.7h0M875.3 819.0h0M837.1 860.4h0M837.4 773.4h0M821.1 764.8h0M850.0 780.7h0M806.7 875.9h0M820.0 774.7h0M837.8 861.7h0M784.6 791.5h0M798.0 880.6h0M841.5 789.7h0M843.0 795.3h0M795.5 786.9h0M859.2 820.2h0M779.0 840.9h0M859.0 810.3h0M813.6 875.9h0M819.3 776.6h0M826.2 775.8h0M787.4 792.5h0M772.4 819.8h0M853.2 801.3h0M794.1 871.5h0M788.8 875.2h0M842.8 780.9h0M781.1 860.1h0M844.8 784.3h0M784.9 790.6h0M822.7 873.6h0M854.8 834.9h0M771.1 813.3h0M788.9 788.6h0M785.0 801.0h0M823.7 863.0h0M843.4 798.2h0M772.3 835.4h0M828.2 772.9h0M813.4 775.3h0M817.3 766.3h0M774.9 800.7h0M849.5 792.4h0M804.9 780.1h0M829.4 871.9h0M800.2 777.3h0M768.0 816.2h0M772.9 821.9h0M852.4 811.4h0M758.8 827.0h0M857.2 806.1h0M855.4 804.6h0M786.6 790.4h0M853.6 808.1h0M785.4 790.9h0M807.3 876.1h0M854.6 809.8h0M779.2 795.3h0M862.7 828.6h0M783.7 865.3h0M846.9 774.9h0M807.5 873.5h0M772.7 809.1h0M787.4 796.4h0M777.9 835.0h0M769.2 840.8h0M843.5 789.5h0M801.7 784.4h0M869.5 840.1h0M826.0 776.3h0M848.9 808.2h0M848.3 805.0h0M865.2 825.0h0M797.7 779.7h0M773.2 832.4h0M777.1 808.7h0M806.8 776.6h0M850.8 845.0h0M831.1 863.3h0M855.6 825.8h0M771.5 820.7h0M854.1 810.2h0M844.2 784.7h0M823.3 866.3h0M784.8 857.9h0M848.5 811.2h0M844.3 782.3h0M836.4 778.2h0M811.9 772.5h0M785.7 795.4h0M820.4 866.6h0M822.1 767.1h0M787.7 865.6h0M841.6 781.8h0M804.7 769.1h0M861.1 825.5h0M812.7 774.6h0M778.7 845.0h0M790.7 790.0h0M807.8 876.8h0M773.6 812.1h0M772.1 836.6h0M842.4 792.0h0M835.6 886.7h0M802.2 874.1h0M766.4 820.9h0M833.0 764.3h0M835.4 772.5h0M826.0 867.1h0M770.0 834.4h0M776.1 824.9h0M832.3 772.9h0M862.7 826.7h0M847.5 793.8h0M779.1 852.5h0M799.7 880.1h0M785.5 865.7h0M799.3 871.2h0M803.9 876.3h0M855.2 813.4h0M776.7 816.1h0M775.3 802.0h0M776.9 814.0h0M775.1 857.3h0M843.2 785.5h0M794.7 778.9h0M831.3 778.0h0M842.9 798.3h0M852.4 784.4h0M841.1 846.3h0M848.4 784.8h0M805.3 770.9h0M809.3 871.5h0M798.2 873.8h0M803.5 873.5h0M852.8 815.4h0M820.8 866.2h0M832.0 863.9h0M818.3 776.5h0M806.8 873.3h0M771.1 812.8h0M777.5 841.2h0M855.0 838.6h0M856.7 858.8h0M809.3 875.7h0M781.6 850.7h0M775.4 811.4h0M802.8 874.5h0M775.0 821.0h0M783.5 859.2h0M813.0 879.1h0M819.7 874.2h0M816.8 870.8h0M838.4 851.6h0M778.4 836.7h0M707.0 843.4h0M707.0 868.7h0M731.4 822.2h0M754.8 873.5h0M753.5 820.0h0M753.5 796.1h0M757.9 797.8h0M764.6 779.3h0M764.6 788.1h0M782.3 773.9h0M773.9 785.9h0M880.1 754.0h0M838.1 761.5h0M884.1 773.9h0M877.5 777.0h0M864.2 771.3h0M853.5 766.0h0M900.0 788.1h0M908.4 785.0h0M912.9 787.2h0M912.9 794.7h0M952.7 779.3h0M898.7 802.3h0M907.6 808.0h0M912.0 812.5h0M897.8 820.0h0M887.6 832.4h0M876.6 834.6h0M898.7 844.8h0M902.2 849.2h0M896.5 850.1h0M865.5 859.8h0M865.5 870.0h0M854.4 886.8h0M841.2 881.1h0M836.7 880.2h0M803.5 886.8h0M797.8 883.3h0M791.6 882.4h0M757.0 844.8h0M757.0 854.5h0M760.6 859.8h0M765.9 865.6h0M772.5 866.9h0M874.4 794.7h0M885.4 799.2h0M889.8 803.6h0M883.2 814.7h0M887.6 820.0h0M874.4 850.1h0M858.9 863.4h0M850.0 867.8h0M862.0 784.2h0M875.1 824.9h0M873.4 797.7h0M885.3 814.8h0M888.6 822.3h0M892.5 802.7h0M884.7 778.6h0M880.2 818.7h0M884.9 828.6h0M877.9 817.6h0M892.9 790.4h0M869.5 798.7h0M867.2 828.2h0M872.6 841.7h0M880.2 792.3h0M845.9 769.6h0M880.2 830.1h0M877.2 800.8h0M885.4 824.0h0M864.0 803.6h0M858.4 845.6h0M861.9 842.1h0M886.6 828.6h0M851.0 778.3h0M876.5 826.9h0M873.4 807.8h0M875.9 847.1h0M879.1 809.2h0M879.9 779.4h0M885.0 833.1h0M876.2 794.9h0M896.9 791.0h0M877.4 837.2h0M894.4 788.5h0M875.7 790.6h0M889.7 825.0h0M876.2 784.4h0M884.3 826.5h0M858.1 796.2h0M870.8 776.9h0M880.2 810.8h0M854.7 765.9h0M887.6 828.1h0M862.3 780.2h0M871.7 815.7h0M882.5 807.1h0M874.4 827.6h0M849.3 779.7h0M868.9 830.5h0M886.7 796.7h0M861.3 794.8h0M847.3 771.7h0M892.7 791.7h0M896.7 791.5h0M895.0 825.0h0M859.7 778.6h0M896.5 805.6h0M871.9 842.2h0M868.9 786.1h0M882.3 810.9h0M890.7 830.5h0M871.4 780.9h0M880.9 788.7h0M854.7 771.9h0M857.0 799.6h0M872.9 830.4h0M864.3 847.4h0M856.4 796.5h0M885.1 819.9h0M867.1 771.0h0M890.2 824.8h0M874.4 803.8h0M865.3 787.7h0M894.1 811.3h0M862.3 805.4h0M861.3 848.4h0M871.2 809.0h0M882.4 789.4h0M854.6 787.7h0M869.4 771.6h0M871.5 777.9h0M890.0 787.5h0M889.0 834.6h0M860.0 764.4h0M869.5 771.0h0M873.6 846.4h0M888.6 821.1h0M860.9 847.8h0M872.7 786.1h0M851.2 771.2h0M870.6 800.6h0M860.0 806.2h0M757.5 809.5h0M755.8 831.0h0M755.8 837.4h0M759.5 804.4h0M751.9 799.9h0M765.5 866.6h0M760.6 834.6h0M756.0 814.6h0M751.5 810.3h0M752.2 813.7h0M760.4 808.5h0M768.9 838.9h0M754.1 821.4h0M766.1 844.7h0M756.1 795.0h0M758.7 812.9h0M757.2 811.3h0M766.2 812.5h0M766.9 860.9h0M761.3 809.2h0M751.9 796.1h0M751.0 821.6h0M832.8 882.3h0M809.1 884.3h0M823.0 881.1h0M840.8 876.0h0M846.1 866.3h0M850.0 873.6h0M829.0 882.1h0M850.8 867.4h0M821.5 879.4h0M792.8 884.1h0M786.5 878.2h0M791.8 882.8h0M857.0 860.7h0M819.1 887.0h0M847.5 869.2h0M826.1 886.2h0" fill="none" stroke="#d4622a" stroke-width="7.8" stroke-linecap="round"/>
</g>
<path d="M707.0 835.9L717.3 834.5L727.5 833.1L737.7 831.7L748.0 830.3L758.2 828.8L768.4 827.3L778.7 825.8L788.9 824.3L799.2 822.7L809.4 821.0L819.6 819.2L829.9 817.4L840.1 815.6L850.3 813.6L860.6 811.7L870.8 809.7L881.0 807.7L891.3 805.7L901.5 803.7L911.8 801.6L922.0 799.6L932.2 797.5L942.5 795.5L952.7 793.4L952.7 804.9L942.5 806.3L932.2 807.7L922.0 809.0L911.8 810.4L901.5 811.8L891.3 813.2L881.0 814.6L870.8 816.1L860.6 817.5L850.3 819.0L840.1 820.5L829.9 822.1L819.6 823.7L809.4 825.4L799.2 827.2L788.9 829.0L778.7 830.8L768.4 832.7L758.2 834.7L748.0 836.7L737.7 838.7L727.5 840.7L717.3 842.7L707.0 844.8Z" fill="#858585" fill-opacity="0.2"/>
<path d="M707.0 840.3L952.7 799.2" stroke="#0a0a0a" stroke-width="2.2" fill="none"/>
<rect x="552.1" y="963.7" width="347.1" height="12.6" fill="#f1f1f1" stroke="#e4e4e4" stroke-width="0.8"/>
<rect x="899.2" y="963.7" width="38.2" height="12.6" fill="#f1f1f1" stroke="#e4e4e4" stroke-width="0.8"/>
<rect x="937.4" y="963.7" width="28.6" height="12.6" fill="#f1f1f1" stroke="#e4e4e4" stroke-width="0.8"/>
<rect x="966.0" y="963.7" width="11.9" height="12.6" fill="#f1f1f1" stroke="#e4e4e4" stroke-width="0.8"/>
<rect x="977.9" y="963.7" width="7.5" height="12.6" fill="#f1f1f1" stroke="#e4e4e4" stroke-width="0.8"/>
<text transform="translate(661.5 982.5) scale(0.9615 1)" font-size="22.88" text-anchor="middle" stroke="#231f20" stroke-width="0.4">Ng</text>
<text transform="translate(921.7 982.5) scale(0.9615 1)" font-size="22.88" text-anchor="middle" stroke="#231f20" stroke-width="0.4">Pg</text>
<text transform="translate(949.8 982.5) scale(0.9615 1)" font-size="22.88" text-anchor="middle" stroke="#231f20" stroke-width="0.4">K</text>
<text transform="translate(974.2 982.5) scale(0.9615 1)" font-size="22.88" text-anchor="middle" stroke="#231f20" stroke-width="0.4">J</text>
<path d="M576.9 874.8L580.1 873.3L583.7 873.0L587.4 875.7L591.0 879.8L594.2 882.9L596.0 885.7L596.9 887.5L598.2 884.8L600.9 881.6L604.6 878.0L608.2 875.2L611.8 873.0L615.4 870.3L618.6 871.2L619.5 874.3L619.1 876.6L615.4 877.1L612.7 879.3L611.4 882.9L613.6 885.2L617.3 886.6L620.0 889.3L620.0 895.2L618.6 899.2L616.8 902.0L620.0 905.1L622.7 908.8L624.0 910.6L621.8 914.6L619.1 910.6L615.4 906.9L610.9 903.8L607.3 901.5L603.7 899.7L600.9 899.2L600.5 902.9L603.7 904.2L605.9 906.9L606.2 911.5L604.6 914.2L601.9 916.0L600.0 919.6L597.8 920.1L598.2 931.4L598.5 945.0L598.7 956.3L595.5 956.6L595.7 945.0L595.7 931.4L595.7 918.3L593.7 918.3L592.8 921.4L593.2 925.1L591.0 927.8L588.3 927.3L587.8 923.3L587.4 920.5L588.3 916.0L587.8 911.5L588.3 906.9L590.5 903.3L591.9 899.7L588.3 900.2L584.6 900.6L581.5 901.5L578.3 903.3L575.6 906.0L573.3 909.2L571.1 911.9L567.4 909.8L569.2 906.0L571.1 902.9L573.3 900.2L573.3 898.3L577.4 896.8L581.5 895.9L585.1 895.2L584.6 892.5L581.5 891.7L578.8 892.5L575.6 893.8L575.1 891.6L576.5 888.4L579.7 886.1L582.4 885.7L581.9 882.9L580.1 881.1L577.9 881.6L577.4 878.0Z" fill="#000" stroke="#000" stroke-width="0.4" stroke-linejoin="round"/>
<path d="M600.9 893.8L605.5 892.3L610.0 894.3L614.1 897.0L613.6 898.8L609.1 896.5L604.6 894.7L600.9 894.8Z" fill="#fff"/>
<path d="M586.5 890.2L588.1 889.7L588.3 892.3L586.6 892.6Z" fill="#fff"/>
<rect x="551.3" y="705.3" width="434.9" height="288.6" fill="none" stroke="#111" stroke-width="1.7"/>
<text transform="translate(560.2 744.3) scale(0.9476 1)" font-size="35.88" text-anchor="start" stroke="#231f20" stroke-width="0.65" xml:space="preserve"><tspan font-weight="bold">F.</tspan> <tspan font-style="italic">n = 1,199</tspan></text>
</g>
<g id="panel-G">
<path d="M86.6 1084.9H96.2M86.6 1133.5H96.2M86.6 1182.1H96.2M86.6 1230.7H96.2M86.6 1279.3H96.2M103.4 1338.6V1348.2M330.2 1338.6V1348.2M372.0 1338.6V1348.2M413.8 1338.6V1348.2M455.6 1338.6V1348.2M497.4 1338.6V1348.2" stroke="#111" stroke-width="1.25" fill="none"/>
<text transform="translate(78.6 1087.9) scale(0.9615 1)" font-size="35.36" text-anchor="end" stroke="#231f20" stroke-width="0.65">10</text>
<text transform="translate(80.0 1075.4) scale(1.0500 1)" font-size="18.20" text-anchor="start" stroke="#231f20" stroke-width="0.7">8</text>
<text transform="translate(78.6 1137.3) scale(0.9615 1)" font-size="35.36" text-anchor="end" stroke="#231f20" stroke-width="0.65">10</text>
<text transform="translate(80.0 1124.8) scale(1.0500 1)" font-size="18.20" text-anchor="start" stroke="#231f20" stroke-width="0.7">6</text>
<text transform="translate(78.6 1188.6) scale(0.9615 1)" font-size="35.36" text-anchor="end" stroke="#231f20" stroke-width="0.65">10</text>
<text transform="translate(80.0 1176.1) scale(1.0500 1)" font-size="18.20" text-anchor="start" stroke="#231f20" stroke-width="0.7">4</text>
<text transform="translate(78.6 1236.1) scale(0.9615 1)" font-size="35.36" text-anchor="end" stroke="#231f20" stroke-width="0.65">10</text>
<text transform="translate(80.0 1223.6) scale(1.0500 1)" font-size="18.20" text-anchor="start" stroke="#231f20" stroke-width="0.7">2</text>
<text transform="translate(76.7 1285.8) scale(0.9615 1)" font-size="35.36" text-anchor="end" stroke="#231f20" stroke-width="0.65">1</text>
<text transform="translate(104.1 1384.4) scale(0.9615 1)" font-size="35.36" text-anchor="middle" stroke="#231f20" stroke-width="0.65">0</text>
<text transform="translate(329.2 1384.4) scale(0.9615 1)" font-size="35.36" text-anchor="middle" stroke="#231f20" stroke-width="0.65">1</text>
<text transform="translate(366.9 1384.4) scale(0.9615 1)" font-size="35.36" text-anchor="middle" stroke="#231f20" stroke-width="0.65">3</text>
<text transform="translate(406.7 1384.4) scale(0.9615 1)" font-size="35.36" text-anchor="middle" stroke="#231f20" stroke-width="0.65">10</text>
<text transform="translate(451.9 1384.4) scale(0.9615 1)" font-size="35.36" text-anchor="middle" stroke="#231f20" stroke-width="0.65">32</text>
<text transform="translate(509.4 1384.4) scale(0.9615 1)" font-size="35.36" text-anchor="middle" stroke="#231f20" stroke-width="0.65">100</text>
<clipPath id="clipG"><rect x="96.2" y="1050.0" width="434.9" height="288.6"/></clipPath>
<g clip-path="url(#clipG)">
<path d="M285.1 1113.6L283.8 1114.9L282.6 1116.9L281.6 1119.6L280.9 1123.4L280.3 1127.7L280.1 1132.3L280.1 1137.2L280.4 1142.6L280.8 1148.0L281.3 1153.5L281.7 1159.0L282.3 1164.2L283.1 1168.4L284.2 1171.8L285.5 1174.3L287.3 1176.5L289.3 1178.8L291.3 1180.8L293.3 1182.5L295.5 1184.2L295.9 1184.5L298.1 1186.5L298.4 1186.8L300.4 1189.0L300.7 1189.4L302.6 1191.7L302.8 1192.1L304.5 1194.7L304.7 1195.0L306.2 1197.7L306.4 1198.1L307.7 1200.9L307.9 1201.2L309.0 1204.2L309.2 1204.6L310.2 1207.7L310.2 1207.8L311.2 1211.2L311.2 1211.3L312.3 1215.1L312.3 1215.2L313.4 1219.2L313.4 1219.3L314.4 1223.4L315.7 1226.7L317.3 1229.6L319.1 1232.1L321.4 1234.4L323.9 1236.6L326.6 1238.5L329.4 1240.2L332.0 1241.5L334.2 1242.2L336.3 1242.3L338.5 1242.1L341.0 1241.2L344.1 1239.9L347.5 1238.3L351.0 1236.2L354.9 1233.8L354.9 1233.7L358.9 1231.3L358.9 1231.2L362.9 1228.8L362.9 1228.8L366.8 1226.5L366.9 1226.5L370.7 1224.3L374.2 1222.1L377.6 1219.8L380.8 1217.3L383.9 1214.7L386.9 1212.0L389.8 1209.1L392.5 1206.1L397.9 1199.6L400.7 1196.3L403.5 1193.0L406.2 1189.6L406.3 1189.5L409.1 1186.4L409.2 1186.3L411.9 1183.2L412.0 1183.1L414.8 1180.2L414.9 1180.1L417.7 1177.3L420.5 1174.5L423.5 1171.5L426.6 1168.4L429.7 1165.3L432.2 1162.4L434.4 1159.5L436.2 1156.7L437.7 1153.6L437.8 1153.3L439.6 1150.1L439.8 1149.9L441.7 1146.8L441.9 1146.6L444.0 1143.7L444.2 1143.4L446.3 1140.7L448.3 1138.1L450.1 1135.5L451.8 1132.9L453.1 1130.8L453.4 1129.9L452.7 1129.2L450.9 1127.6L448.8 1125.7L446.4 1123.7L443.7 1121.6L441.0 1119.3L438.2 1117.1L435.4 1114.9L433.1 1113.0L430.5 1111.6L427.1 1110.4L422.8 1109.4L417.6 1108.7L411.4 1107.9L404.5 1107.1L397.0 1106.2L388.8 1105.3L380.6 1104.7L372.5 1104.3L364.3 1104.0L356.2 1104.0L348.0 1104.2L339.8 1104.4L331.6 1104.9L323.4 1105.4L315.9 1106.1L309.2 1106.9L303.2 1107.8L297.9 1108.9L293.5 1110.0L289.8 1111.3L286.9 1112.5Z" fill="#efe23f"/>
<path d="M277.4 1183.2h0M427.7 1167.5h0M426.6 1105.3h0M299.0 1109.3h0M414.3 1175.4h0M432.9 1162.3h0M469.6 1126.9h0M283.7 1139.9h0M392.5 1213.3h0M362.1 1230.2h0M281.6 1131.4h0M384.6 1101.2h0M329.2 1242.3h0M401.0 1189.2h0M413.2 1183.2h0M275.3 1131.5h0M313.9 1216.3h0M308.0 1206.3h0M282.0 1123.7h0M408.7 1107.5h0M415.1 1111.3h0M404.6 1191.7h0M375.7 1102.3h0M448.8 1124.0h0M289.1 1182.9h0M283.0 1194.9h0M450.9 1138.1h0M281.6 1120.9h0M444.7 1125.8h0M353.0 1235.1h0M442.3 1147.8h0M433.1 1159.7h0M415.6 1103.2h0M294.8 1188.3h0M272.6 1132.2h0M449.2 1134.3h0M296.0 1114.0h0M413.6 1187.7h0M366.2 1222.5h0M402.2 1189.4h0M328.6 1107.3h0M299.8 1193.0h0M421.3 1167.3h0M357.9 1229.7h0M389.2 1211.9h0M370.0 1224.2h0M319.4 1235.4h0M305.8 1210.0h0M306.5 1194.7h0M309.3 1211.7h0M470.9 1126.4h0M400.2 1191.3h0M280.7 1168.5h0M374.3 1221.2h0M367.5 1221.6h0M377.1 1214.3h0M277.8 1151.0h0M424.9 1182.3h0M342.8 1106.0h0M287.8 1113.2h0M279.1 1119.4h0M313.9 1107.4h0M322.1 1107.5h0M381.7 1108.2h0M415.2 1184.6h0M369.5 1221.1h0M344.1 1105.3h0M348.7 1235.5h0M337.3 1245.6h0M302.4 1104.8h0M345.8 1104.2h0M369.0 1105.0h0M333.4 1240.0h0M365.1 1223.9h0M443.0 1141.4h0M305.9 1198.0h0M301.8 1109.2h0M428.8 1159.7h0M375.6 1223.1h0M360.6 1232.6h0M390.3 1206.1h0M417.4 1176.9h0M398.7 1200.6h0M446.5 1146.1h0M365.5 1230.3h0M401.4 1100.1h0M296.6 1185.5h0M428.6 1161.8h0M423.7 1191.6h0M288.1 1106.0h0M444.0 1145.2h0M300.5 1190.0h0M334.6 1244.7h0M283.8 1158.9h0M284.9 1154.6h0M401.2 1109.1h0M393.0 1203.7h0M279.4 1164.0h0M301.0 1190.2h0M326.6 1245.5h0M276.3 1132.2h0M379.1 1103.4h0M362.2 1232.2h0M263.2 1149.8h0M380.3 1105.9h0M281.3 1158.7h0M276.8 1115.6h0M304.0 1198.2h0M441.8 1153.3h0M426.1 1172.9h0M399.0 1256.0h0M366.8 1224.1h0M278.9 1122.2h0M440.8 1148.6h0M409.4 1198.8h0M437.3 1109.0h0M319.5 1109.7h0M349.8 1246.5h0M267.1 1163.5h0M360.8 1227.3h0M355.0 1108.9h0M283.4 1172.6h0M278.6 1122.4h0M439.8 1119.9h0M404.9 1111.8h0M310.6 1106.8h0M448.4 1133.0h0M275.0 1120.2h0M446.9 1123.8h0M330.3 1102.7h0M318.8 1232.1h0M289.8 1108.7h0M355.2 1250.5h0M310.2 1198.7h0M406.1 1186.8h0M402.4 1190.2h0M313.9 1218.2h0M396.4 1106.2h0M402.3 1104.5h0M283.5 1108.4h0M383.2 1109.2h0M415.7 1175.8h0M434.8 1166.2h0M397.4 1109.2h0M384.6 1208.5h0M283.0 1115.9h0M442.6 1153.2h0M440.0 1119.4h0M356.3 1102.3h0M304.3 1208.4h0M438.2 1160.3h0M433.4 1163.5h0M365.1 1107.5h0M389.4 1213.2h0M332.3 1239.7h0M367.1 1222.3h0M416.4 1171.6h0M333.9 1102.4h0M395.8 1196.7h0M365.7 1107.9h0M284.9 1178.2h0M353.4 1237.7h0M415.3 1112.0h0M285.8 1176.5h0M426.1 1115.0h0M346.7 1106.4h0M395.5 1199.1h0M397.1 1222.2h0M343.6 1105.3h0M271.2 1101.9h0M277.3 1112.5h0M319.7 1245.6h0M386.0 1103.8h0M362.9 1231.5h0M317.5 1227.8h0M438.6 1164.5h0M394.0 1207.5h0M279.1 1112.9h0M419.7 1171.3h0M331.2 1106.3h0M399.6 1195.3h0M274.3 1137.1h0M423.1 1112.3h0M312.9 1212.8h0M377.2 1106.0h0M405.5 1184.2h0M389.4 1203.7h0M305.9 1249.2h0M446.9 1141.6h0M376.1 1220.0h0M313.6 1208.8h0M402.6 1213.7h0M313.5 1239.0h0M442.8 1140.0h0M428.1 1108.6h0M282.3 1158.0h0M285.9 1159.3h0M435.4 1161.5h0M416.4 1180.1h0M450.2 1146.2h0M455.5 1126.2h0M288.4 1170.3h0M274.4 1117.9h0M448.5 1117.4h0M353.2 1099.6h0M408.9 1108.8h0M452.9 1147.4h0M325.5 1235.6h0M443.2 1173.6h0M399.4 1109.5h0M364.5 1226.6h0M315.1 1248.6h0M439.2 1150.2h0M357.0 1104.4h0M267.5 1101.4h0M368.3 1221.2h0M332.1 1241.4h0M440.7 1147.9h0M421.6 1175.1h0M277.2 1121.5h0M392.4 1107.4h0M432.1 1164.6h0M334.6 1242.5h0M406.0 1187.3h0M408.3 1103.6h0M356.7 1234.9h0M314.5 1103.9h0M428.5 1181.7h0M308.3 1099.5h0M353.9 1106.9h0M352.0 1229.8h0M359.0 1230.8h0M310.2 1198.8h0M408.2 1181.1h0M324.7 1238.4h0M358.2 1243.3h0M385.0 1094.3h0M441.6 1162.0h0M415.6 1178.6h0M301.0 1103.7h0M447.1 1159.0h0M413.2 1106.3h0M401.5 1108.1h0M458.2 1130.1h0M280.3 1146.1h0M303.2 1201.7h0M325.1 1231.5h0M281.8 1162.5h0M310.8 1204.6h0M286.0 1168.3h0M402.1 1108.1h0M283.0 1117.1h0M279.4 1129.0h0M314.2 1206.6h0M365.4 1108.0h0M449.4 1139.2h0M324.8 1237.4h0M436.9 1157.4h0M369.5 1108.4h0M441.3 1148.5h0M338.3 1240.9h0M321.7 1108.5h0M418.2 1172.9h0M282.1 1173.2h0M299.3 1109.2h0M358.0 1227.6h0M401.3 1108.3h0M438.2 1162.9h0M447.8 1124.9h0M400.2 1105.4h0M276.2 1166.8h0M437.0 1156.9h0M320.3 1229.6h0M286.2 1111.5h0M357.7 1106.1h0M269.7 1110.7h0M428.6 1170.3h0M392.3 1202.1h0M435.2 1154.0h0M279.6 1163.5h0M324.0 1109.2h0M343.0 1102.4h0M385.8 1206.5h0M354.4 1245.3h0M289.9 1186.0h0M284.5 1186.6h0M442.0 1115.2h0M432.5 1105.7h0M348.6 1236.9h0M428.0 1178.4h0M454.5 1134.7h0M343.5 1235.1h0M280.9 1173.6h0M340.2 1101.0h0M313.5 1090.9h0M361.5 1227.7h0M354.4 1235.9h0M367.7 1231.6h0M280.4 1165.7h0M321.6 1231.5h0M423.5 1107.4h0M289.2 1182.7h0M324.4 1230.5h0M370.5 1106.7h0M267.0 1180.0h0M425.6 1184.7h0M279.1 1153.1h0M410.1 1111.0h0M324.0 1230.8h0M388.4 1221.0h0M431.2 1157.0h0M449.3 1141.6h0M285.3 1171.6h0M308.7 1192.4h0M333.5 1104.7h0M381.6 1223.0h0M373.0 1223.8h0M303.9 1191.1h0M284.4 1107.3h0M285.4 1158.8h0M409.5 1188.3h0M284.4 1166.7h0M320.5 1226.5h0M309.5 1203.9h0M331.1 1249.4h0M412.1 1176.5h0M279.3 1148.3h0M291.2 1181.4h0M438.8 1150.9h0M461.4 1130.6h0M383.9 1106.2h0M282.3 1143.3h0M388.7 1206.9h0M363.0 1103.2h0M356.0 1094.0h0M366.2 1106.0h0M298.9 1108.3h0M280.8 1164.8h0M442.7 1154.3h0M284.2 1142.7h0M342.7 1241.1h0M331.4 1241.2h0M298.2 1107.7h0M296.4 1191.8h0M344.8 1101.4h0M406.1 1194.9h0M314.1 1213.3h0M347.0 1098.6h0M394.6 1200.0h0M343.1 1236.9h0M276.8 1122.4h0M296.5 1194.5h0M395.3 1102.3h0M278.4 1205.4h0M420.1 1180.4h0M367.9 1107.3h0M313.2 1217.4h0M362.6 1227.4h0M456.8 1141.7h0M367.4 1104.5h0M423.5 1179.0h0M431.2 1113.1h0M449.9 1144.9h0M423.8 1166.3h0M401.7 1111.3h0M402.6 1196.7h0M403.6 1106.2h0M428.8 1162.7h0M282.5 1111.3h0M447.1 1118.3h0M274.6 1123.0h0M449.3 1143.6h0M450.3 1167.5h0M420.7 1172.9h0M282.6 1113.5h0M435.3 1148.5h0M352.6 1266.8h0M445.4 1121.9h0M306.9 1191.8h0M315.6 1212.6h0M295.0 1182.8h0M387.0 1104.4h0M261.1 1171.9h0M442.2 1182.2h0M278.6 1178.7h0M306.5 1197.2h0M309.7 1103.5h0M311.4 1219.2h0M396.9 1105.2h0M371.9 1221.0h0M418.4 1173.2h0M489.5 1116.4h0M397.8 1199.6h0M397.5 1200.4h0M364.1 1102.2h0M308.5 1111.3h0M284.3 1140.0h0M360.8 1240.2h0M426.6 1172.1h0M418.2 1111.7h0M277.2 1130.8h0M405.0 1109.0h0M379.2 1217.7h0M458.6 1131.9h0M410.0 1182.9h0M315.0 1221.3h0M352.8 1099.5h0M413.4 1186.7h0M440.8 1146.3h0M437.0 1148.9h0M295.1 1110.3h0M452.4 1129.3h0M378.4 1216.0h0M421.2 1106.0h0M270.2 1132.6h0M293.4 1179.9h0M309.3 1219.8h0M278.1 1137.1h0M438.6 1153.3h0M325.7 1105.2h0M311.4 1223.8h0M377.3 1224.2h0M374.2 1097.1h0M299.9 1111.4h0M365.7 1230.6h0M382.2 1225.9h0M403.5 1111.6h0M291.0 1212.8h0M372.3 1221.1h0M405.1 1211.8h0M337.5 1246.7h0M281.5 1140.7h0M308.9 1210.0h0M276.5 1158.7h0M431.9 1154.5h0M375.5 1220.9h0M432.7 1152.7h0M340.1 1101.9h0M313.5 1234.9h0M446.9 1130.5h0M286.0 1119.0h0M400.3 1192.4h0M402.0 1100.7h0M341.9 1238.3h0M410.1 1107.5h0M423.0 1176.2h0M405.7 1192.7h0M275.9 1131.4h0M433.6 1176.3h0M437.7 1115.5h0M331.5 1239.7h0M351.1 1100.8h0M286.9 1111.4h0M327.4 1107.3h0M391.9 1225.6h0M278.1 1114.5h0M458.2 1130.3h0M379.8 1106.1h0M286.7 1112.7h0M286.1 1176.3h0M305.2 1109.1h0M314.8 1206.6h0M415.8 1176.2h0M461.0 1152.6h0M314.8 1214.7h0M279.8 1132.2h0M417.6 1171.5h0M456.8 1134.3h0M332.4 1242.5h0M296.5 1184.8h0M422.2 1110.3h0M349.1 1101.2h0M373.7 1237.2h0M312.4 1226.4h0M302.8 1109.4h0M278.4 1124.8h0M343.0 1236.9h0M394.2 1208.8h0M457.1 1131.8h0M376.3 1104.1h0M398.1 1100.1h0M347.8 1235.4h0M303.2 1222.9h0M302.6 1216.6h0M287.8 1182.0h0M402.3 1188.5h0M403.5 1186.8h0M322.9 1252.4h0M291.4 1115.2h0M299.7 1105.1h0M423.4 1176.4h0M440.7 1140.2h0M338.9 1102.7h0M428.1 1109.3h0M451.0 1127.0h0M447.0 1139.1h0M306.9 1234.2h0M344.1 1237.4h0M372.5 1102.9h0M304.0 1199.4h0M411.1 1112.8h0M450.8 1126.3h0M413.4 1180.5h0M444.7 1124.9h0M389.9 1204.8h0M438.1 1114.6h0M364.8 1222.7h0M293.2 1190.0h0M334.4 1099.6h0M397.0 1198.2h0M364.0 1226.9h0M396.3 1108.6h0M311.1 1204.9h0M378.5 1220.8h0M444.5 1136.4h0M316.0 1224.7h0M442.5 1140.1h0M313.9 1208.3h0M298.8 1110.5h0M318.0 1229.4h0M288.0 1181.1h0M319.8 1105.1h0M436.2 1114.9h0M277.5 1162.0h0M386.8 1205.2h0M325.1 1231.1h0M319.8 1225.6h0M330.8 1105.7h0M429.2 1165.2h0M411.9 1183.8h0M440.7 1157.4h0M304.8 1195.4h0M432.1 1156.2h0M305.4 1200.0h0M302.8 1195.1h0M376.3 1217.8h0M395.6 1206.0h0M282.2 1168.2h0M371.7 1220.4h0M328.8 1247.1h0M415.9 1181.4h0M379.6 1212.1h0M313.8 1230.2h0M429.7 1166.8h0M365.1 1225.5h0M451.2 1142.3h0M316.3 1218.4h0M436.4 1119.7h0M258.1 1171.3h0M407.4 1197.8h0M309.9 1204.1h0M316.2 1215.3h0M393.0 1214.3h0M390.8 1107.0h0M413.7 1177.0h0M381.3 1214.0h0M352.4 1233.7h0M313.0 1223.1h0M371.7 1237.2h0M391.6 1205.8h0M436.8 1121.9h0M378.6 1221.3h0M400.4 1193.3h0M425.2 1113.1h0M441.2 1125.6h0M389.4 1205.1h0M373.1 1223.9h0M319.6 1227.8h0M326.0 1247.4h0M398.7 1198.5h0M426.9 1165.0h0M440.4 1151.3h0M431.7 1156.2h0M447.9 1134.9h0M279.6 1135.8h0M309.0 1209.0h0M419.6 1168.6h0M420.1 1172.1h0M377.2 1108.6h0M440.8 1123.8h0M293.1 1180.7h0M414.1 1181.4h0M318.4 1225.9h0M359.9 1230.1h0M296.9 1105.8h0M350.7 1232.6h0M444.3 1162.0h0M399.8 1203.8h0M276.8 1169.0h0M294.6 1112.6h0M307.2 1191.9h0M448.3 1143.2h0M449.5 1126.1h0M380.8 1104.2h0M370.4 1231.2h0M319.1 1110.6h0M339.1 1240.7h0M284.8 1139.7h0M366.5 1097.7h0M281.7 1127.1h0M467.4 1144.5h0M319.8 1229.2h0M389.8 1213.8h0M285.0 1160.7h0M413.3 1179.9h0M417.2 1111.2h0M366.9 1232.8h0M446.9 1132.7h0M398.8 1199.0h0M277.0 1136.2h0M311.3 1234.2h0M429.9 1187.2h0M401.0 1202.3h0M298.4 1234.2h0M331.6 1105.7h0M305.1 1191.6h0M405.3 1111.8h0M286.3 1161.0h0M342.8 1104.1h0M390.3 1218.9h0M447.0 1136.7h0M314.1 1204.0h0M291.2 1107.1h0M277.2 1133.5h0M420.6 1111.2h0M434.8 1160.4h0M439.2 1160.3h0M377.5 1217.7h0M415.1 1180.6h0M398.9 1203.7h0M276.7 1158.2h0M430.4 1168.5h0M381.4 1217.4h0M410.3 1181.7h0M341.8 1102.9h0M425.1 1112.0h0M278.5 1127.4h0M332.0 1105.9h0M372.7 1220.3h0M308.0 1200.3h0M389.9 1107.8h0M285.8 1113.7h0M424.3 1110.9h0M317.4 1238.3h0M383.8 1108.5h0M356.7 1236.7h0M410.4 1187.2h0M264.4 1128.8h0M311.6 1208.6h0M389.8 1102.3h0M373.3 1227.7h0M395.2 1195.9h0M309.2 1227.9h0M415.5 1105.7h0M372.3 1108.7h0M403.3 1196.8h0M370.8 1225.8h0M334.4 1239.8h0M411.0 1101.7h0M452.8 1126.5h0M310.1 1225.4h0M323.4 1231.5h0M463.8 1120.3h0M412.4 1188.9h0M407.1 1107.5h0M377.7 1216.6h0M436.3 1121.1h0M343.8 1240.8h0M390.3 1106.7h0M288.9 1108.6h0M286.9 1161.1h0M308.4 1210.5h0M388.9 1204.9h0M316.4 1223.2h0M410.7 1110.0h0M316.2 1108.4h0M286.8 1169.4h0M286.7 1106.2h0M283.2 1145.7h0M317.9 1220.1h0M438.7 1160.6h0M389.7 1214.8h0M451.9 1133.2h0M411.9 1184.3h0M342.1 1103.8h0M297.5 1187.2h0M413.7 1102.9h0M296.4 1112.1h0M330.2 1250.6h0M294.7 1104.5h0M411.4 1179.8h0M373.6 1247.4h0M439.5 1148.3h0M336.9 1107.9h0M279.1 1146.0h0M308.8 1208.5h0M292.6 1207.3h0M280.3 1131.9h0M324.8 1236.1h0M397.8 1100.9h0M385.7 1208.1h0M318.1 1227.9h0M272.7 1097.7h0M436.1 1111.6h0M412.9 1183.6h0M406.0 1191.4h0M362.9 1102.6h0M299.8 1107.6h0M419.9 1178.5h0M369.1 1219.8h0M397.0 1212.0h0M442.6 1141.6h0M361.5 1235.2h0M450.2 1142.1h0M294.8 1194.2h0M350.1 1233.0h0M380.0 1106.6h0M324.2 1241.0h0M351.6 1236.6h0M384.2 1215.0h0M315.7 1110.6h0M432.1 1172.1h0M326.5 1109.6h0M345.7 1237.2h0M368.4 1231.5h0M280.8 1229.7h0M422.4 1101.0h0M289.2 1176.5h0M409.5 1108.9h0M441.5 1122.4h0M316.2 1215.7h0M441.8 1142.7h0M290.4 1215.0h0M340.8 1236.8h0M357.4 1106.9h0M283.2 1127.8h0M457.1 1135.9h0M352.2 1106.6h0M408.2 1185.3h0M365.7 1235.7h0M369.9 1231.1h0M280.9 1135.4h0M440.2 1118.5h0M316.3 1211.5h0M397.1 1193.0h0M318.5 1104.4h0M388.0 1206.6h0M409.0 1180.6h0M418.4 1182.0h0M428.7 1168.5h0M350.4 1105.9h0M346.3 1234.0h0M379.5 1105.6h0M380.8 1104.3h0M395.5 1210.8h0M301.2 1110.4h0M287.6 1111.3h0M283.4 1125.9h0M280.4 1131.3h0M407.2 1190.7h0M324.4 1236.2h0M362.2 1108.6h0M387.8 1210.4h0M451.7 1134.9h0M266.5 1102.3h0M444.3 1161.1h0M461.5 1150.1h0M408.9 1102.8h0M379.8 1106.2h0M332.7 1106.2h0M443.7 1126.1h0M342.4 1105.7h0M395.7 1108.4h0M447.1 1135.8h0M442.8 1116.1h0M280.3 1112.9h0M327.3 1241.8h0M442.0 1115.2h0M340.6 1108.1h0M449.8 1129.3h0M372.1 1106.2h0M415.9 1191.6h0M428.7 1106.1h0M444.0 1122.0h0M289.3 1170.9h0M385.7 1232.9h0M326.0 1240.2h0M391.6 1097.5h0M424.5 1111.6h0M295.6 1194.5h0M357.4 1238.3h0M283.2 1169.8h0M426.1 1171.4h0M450.6 1113.7h0M432.7 1107.0h0M341.7 1238.9h0M341.7 1252.9h0M366.3 1104.4h0M336.9 1249.6h0M362.9 1224.1h0M239.2 1107.9h0M251.1 1115.4h0M257.8 1117.6h0M260.0 1124.3h0M232.1 1131.8h0M232.1 1141.1h0M246.7 1133.1h0M260.0 1137.5h0M262.2 1144.2h0M222.4 1157.5h0M245.8 1159.7h0M252.5 1150.8h0M257.8 1155.2h0M262.2 1157.5h0M222.4 1182.7h0M264.4 1175.2h0M262.2 1184.0h0M271.1 1186.2h0M275.5 1191.5h0M278.6 1203.0h0M271.1 1212.8h0M288.8 1201.7h0M294.1 1206.1h0M284.3 1229.2h0M293.2 1226.1h0M291.0 1234.0h0M306.5 1228.3h0M247.6 1259.7h0M304.3 1243.8h0M306.5 1250.4h0M317.5 1254.8h0M319.8 1265.9h0M329.9 1263.7h0M333.0 1257.0h0M341.9 1254.8h0M324.2 1279.2h0M336.6 1274.8h0M341.9 1278.3h0M316.2 1292.5h0M324.2 1293.8h0M336.1 1307.1h0M368.4 1264.6h0M387.0 1265.9h0M381.7 1252.6h0M381.7 1242.4h0M391.5 1248.2h0M399.4 1248.2h0M407.0 1250.4h0M389.7 1231.4h0M399.4 1230.5h0M415.8 1231.4h0M428.2 1231.4h0M403.9 1217.2h0M410.5 1219.4h0M421.6 1203.9h0M429.1 1206.1h0M432.6 1203.9h0M431.7 1217.2h0M450.3 1213.7h0M449.5 1203.9h0M437.1 1189.8h0M445.9 1191.5h0M450.3 1180.5h0M454.8 1181.8h0M461.4 1185.3h0M467.2 1186.2h0M434.8 1175.2h0M443.7 1168.5h0M448.1 1151.7h0M459.2 1148.6h0M465.8 1155.2h0M481.3 1153.9h0M469.4 1142.8h0M475.6 1144.2h0M468.0 1112.3h0M488.8 1102.1h0M448.1 1114.5h0M454.8 1118.9h0M459.2 1122.0h0M421.6 1096.8h0M383.1 1094.2h0M360.9 1093.3h0M317.5 1091.1h0M324.2 1092.4h0M432.6 1165.0h0" fill="none" stroke="#efe23f" stroke-width="7.8" stroke-linecap="round"/>
</g>
<path d="M222.4 1172.5L233.5 1170.7L244.6 1168.8L255.7 1166.9L266.9 1165.1L278.0 1163.2L289.1 1161.2L300.2 1159.3L311.3 1157.3L322.5 1155.4L333.6 1153.3L344.7 1151.3L355.8 1149.3L367.0 1147.2L378.1 1145.1L389.2 1142.9L400.3 1140.8L411.4 1138.6L422.6 1136.4L433.7 1134.2L444.8 1132.0L455.9 1129.7L467.0 1127.5L478.2 1125.2L489.3 1122.9L489.3 1137.1L478.2 1138.9L467.0 1140.7L455.9 1142.6L444.8 1144.4L433.7 1146.3L422.6 1148.2L411.4 1150.1L400.3 1152.0L389.2 1153.9L378.1 1155.9L367.0 1157.9L355.8 1159.9L344.7 1161.9L333.6 1164.0L322.5 1166.1L311.3 1168.2L300.2 1170.3L289.1 1172.5L278.0 1174.6L266.9 1176.8L255.7 1179.1L244.6 1181.3L233.5 1183.5L222.4 1185.8Z" fill="#858585" fill-opacity="0.2"/>
<path d="M222.4 1179.1L489.3 1130.0" stroke="#0a0a0a" stroke-width="2.2" fill="none"/>
<rect x="97.0" y="1308.4" width="347.1" height="12.6" fill="#f1f1f1" stroke="#e4e4e4" stroke-width="0.8"/>
<rect x="444.1" y="1308.4" width="38.2" height="12.6" fill="#f1f1f1" stroke="#e4e4e4" stroke-width="0.8"/>
<rect x="482.3" y="1308.4" width="28.6" height="12.6" fill="#f1f1f1" stroke="#e4e4e4" stroke-width="0.8"/>
<rect x="510.9" y="1308.4" width="11.9" height="12.6" fill="#f1f1f1" stroke="#e4e4e4" stroke-width="0.8"/>
<rect x="522.8" y="1308.4" width="7.5" height="12.6" fill="#f1f1f1" stroke="#e4e4e4" stroke-width="0.8"/>
<text transform="translate(200.9 1327.2) scale(0.9615 1)" font-size="22.88" text-anchor="middle" stroke="#231f20" stroke-width="0.4">Ng</text>
<text transform="translate(461.1 1327.2) scale(0.9615 1)" font-size="22.88" text-anchor="middle" stroke="#231f20" stroke-width="0.4">Pg</text>
<text transform="translate(489.2 1327.2) scale(0.9615 1)" font-size="22.88" text-anchor="middle" stroke="#231f20" stroke-width="0.4">K</text>
<text transform="translate(513.6 1327.2) scale(0.9615 1)" font-size="22.88" text-anchor="middle" stroke="#231f20" stroke-width="0.4">J</text>
<path d="M105.0 1288.3L105.2 1285.4L106.2 1282.3L108.0 1279.8L109.7 1278.0L110.1 1274.5L111.5 1274.2L113.6 1275.0L116.1 1273.1L118.5 1270.3L120.7 1268.5L123.1 1267.8L126.6 1265.7L130.9 1263.3L135.1 1261.5L139.3 1260.3L143.5 1260.1L147.1 1261.1L150.6 1263.3L153.8 1266.1L155.9 1268.9L156.8 1272.1L156.6 1274.9L156.1 1277.0L158.3 1278.7L160.8 1280.2L161.5 1283.3L161.9 1286.8L162.7 1290.4L161.9 1292.5L159.7 1293.5L158.0 1293.2L158.3 1292.1L160.1 1291.1L160.5 1289.0L159.4 1285.4L158.3 1283.0L155.5 1282.6L152.0 1281.2L148.8 1279.5L147.1 1279.1L146.2 1282.6L146.7 1286.5L144.3 1289.7L141.4 1292.5L139.7 1293.9L135.5 1293.7L135.8 1292.5L138.6 1291.8L141.1 1289.7L142.8 1287.2L141.8 1284.0L140.4 1279.8L137.2 1279.8L133.7 1280.9L131.2 1281.9L130.5 1284.7L130.5 1287.5L132.3 1289.3L133.0 1291.8L131.2 1291.4L129.1 1289.3L128.2 1286.8L128.1 1283.3L126.3 1283.3L124.5 1286.8L122.8 1290.0L121.0 1292.5L117.1 1292.6L117.5 1291.4L120.0 1290.7L121.4 1287.9L122.4 1284.4L122.1 1283.0L119.6 1284.0L116.8 1285.4L113.6 1286.8L111.9 1288.6L109.0 1290.4L106.2 1290.5Z" fill="#000" stroke="#000" stroke-width="0.4" stroke-linejoin="round"/>
<rect x="96.2" y="1050.0" width="434.9" height="288.6" fill="none" stroke="#111" stroke-width="1.7"/>
<text transform="translate(104.8 1088.8) scale(0.9476 1)" font-size="35.88" text-anchor="start" stroke="#231f20" stroke-width="0.65" xml:space="preserve"><tspan font-weight="bold">G.</tspan> <tspan font-style="italic">n = 5,141</tspan></text>
</g>
<g id="panel-H">
<path d="M541.7 1084.9H551.3M541.7 1133.5H551.3M541.7 1182.1H551.3M541.7 1230.7H551.3M541.7 1279.3H551.3M558.5 1338.6V1348.2M785.3 1338.6V1348.2M827.1 1338.6V1348.2M868.9 1338.6V1348.2M910.7 1338.6V1348.2M952.5 1338.6V1348.2" stroke="#111" stroke-width="1.25" fill="none"/>
<text transform="translate(561.5 1384.4) scale(0.9615 1)" font-size="35.36" text-anchor="middle" stroke="#231f20" stroke-width="0.65">0</text>
<text transform="translate(786.8 1384.4) scale(0.9615 1)" font-size="35.36" text-anchor="middle" stroke="#231f20" stroke-width="0.65">1</text>
<text transform="translate(824.8 1384.4) scale(0.9615 1)" font-size="35.36" text-anchor="middle" stroke="#231f20" stroke-width="0.65">3</text>
<text transform="translate(863.3 1384.4) scale(0.9615 1)" font-size="35.36" text-anchor="middle" stroke="#231f20" stroke-width="0.65">10</text>
<text transform="translate(909.3 1384.4) scale(0.9615 1)" font-size="35.36" text-anchor="middle" stroke="#231f20" stroke-width="0.65">32</text>
<text transform="translate(965.3 1384.4) scale(0.9615 1)" font-size="35.36" text-anchor="middle" stroke="#231f20" stroke-width="0.65">100</text>
<clipPath id="clipH"><rect x="551.3" y="1050.0" width="434.9" height="288.6"/></clipPath>
<g clip-path="url(#clipH)">
<path d="M809.7 1070.0h0M868.4 1073.3h0M905.3 1085.1h0M749.9 1076.7h0M756.6 1076.0h0M759.9 1075.1h0M749.9 1082.2h0M747.7 1087.1h0M754.4 1086.6h0M779.2 1075.1h0M782.0 1078.9h0M790.2 1077.8h0M800.9 1077.8h0M803.1 1078.4h0M811.9 1078.4h0M817.5 1075.6h0M819.7 1077.8h0M816.3 1081.1h0M820.8 1081.8h0M830.3 1076.0h0M836.3 1073.8h0M839.6 1073.8h0M842.9 1073.8h0M792.7 1085.5h0M769.2 1089.9h0M781.6 1092.6h0M809.0 1092.8h0M817.5 1087.1h0M830.7 1086.2h0M839.1 1086.6h0M841.8 1092.2h0M839.6 1095.9h0M857.7 1088.4h0M862.2 1090.6h0M757.7 1097.7h0M787.6 1101.0h0M792.7 1101.7h0M784.3 1104.8h0M800.9 1105.0h0M817.5 1099.9h0M815.2 1102.1h0M814.6 1108.3h0M821.9 1109.9h0M829.6 1109.9h0M830.7 1115.0h0M836.3 1119.2h0M821.9 1120.3h0M835.2 1103.2h0M839.6 1104.8h0M844.0 1106.5h0M848.0 1108.8h0M748.2 1109.2h0M759.2 1112.5h0M784.3 1115.8h0M875.0 1114.3h0M769.2 1128.0h0M798.4 1134.2h0M759.9 1144.8h0M811.9 1144.2h0M863.3 1143.7h0M780.3 1153.5h0M780.3 1158.1h0M798.4 1184.0h0" fill="none" stroke="#1374b5" stroke-width="7.8" stroke-linecap="round"/>
</g>
<rect x="552.1" y="1308.4" width="347.1" height="12.6" fill="#f1f1f1" stroke="#e4e4e4" stroke-width="0.8"/>
<rect x="899.2" y="1308.4" width="38.2" height="12.6" fill="#f1f1f1" stroke="#e4e4e4" stroke-width="0.8"/>
<rect x="937.4" y="1308.4" width="28.6" height="12.6" fill="#f1f1f1" stroke="#e4e4e4" stroke-width="0.8"/>
<rect x="966.0" y="1308.4" width="11.9" height="12.6" fill="#f1f1f1" stroke="#e4e4e4" stroke-width="0.8"/>
<rect x="977.9" y="1308.4" width="7.5" height="12.6" fill="#f1f1f1" stroke="#e4e4e4" stroke-width="0.8"/>
<text transform="translate(658.0 1325.7) scale(0.9615 1)" font-size="22.88" text-anchor="middle" stroke="#231f20" stroke-width="0.4">Ng</text>
<text transform="translate(918.2 1325.7) scale(0.9615 1)" font-size="22.88" text-anchor="middle" stroke="#231f20" stroke-width="0.4">Pg</text>
<text transform="translate(946.3 1325.7) scale(0.9615 1)" font-size="22.88" text-anchor="middle" stroke="#231f20" stroke-width="0.4">K</text>
<text transform="translate(970.7 1325.7) scale(0.9615 1)" font-size="22.88" text-anchor="middle" stroke="#231f20" stroke-width="0.4">J</text>
<path d="M558.0 1261.1L559.5 1259.1L563.1 1258.4L569.1 1258.9L576.1 1260.1L584.2 1262.1L592.2 1264.6L599.3 1266.6L605.3 1267.9L609.8 1268.9L608.8 1270.7L614.4 1272.2L621.4 1273.7L627.4 1274.9L631.0 1275.0L634.5 1273.7L638.5 1273.0L642.0 1273.0L644.0 1274.4L642.0 1276.7L639.5 1278.2L637.0 1279.2L639.5 1281.7L642.5 1283.7L644.0 1285.2L641.5 1284.7L638.0 1283.0L634.5 1280.2L632.0 1277.7L629.5 1277.2L623.4 1278.7L617.4 1280.4L611.4 1281.7L605.3 1282.4L599.3 1282.2L593.2 1281.7L590.2 1282.0L591.7 1285.2L594.8 1289.3L597.3 1292.3L598.3 1294.3L596.3 1295.1L593.2 1294.3L589.2 1291.3L585.2 1287.3L582.7 1283.7L580.7 1279.7L579.2 1277.2L575.1 1274.2L570.1 1270.2L566.1 1266.6L562.1 1264.6L559.0 1263.1Z" fill="#1c1c1c" stroke="#1c1c1c" stroke-width="0.4" stroke-linejoin="round"/>
<rect x="551.3" y="1050.0" width="434.9" height="288.6" fill="none" stroke="#111" stroke-width="1.7"/>
<text transform="translate(558.3 1085.0) scale(0.9476 1)" font-size="35.88" text-anchor="start" stroke="#231f20" stroke-width="0.65" xml:space="preserve"><tspan font-weight="bold">H.</tspan> <tspan font-style="italic">n = 70</tspan></text>
</g>
<text transform="translate(522.6 1428.3) scale(0.9687 1)" font-size="45.24" text-anchor="middle" stroke="#231f20" stroke-width="0.9">Evolutionary age (Myr)</text>
<g transform="translate(34.7 700) rotate(-90)"><text transform="translate(0.0 0.0) scale(0.9615 1)" font-size="45.24" text-anchor="middle" stroke="#231f20" stroke-width="0.9">Range size (km²)</text></g>
</svg>
</body></html>
